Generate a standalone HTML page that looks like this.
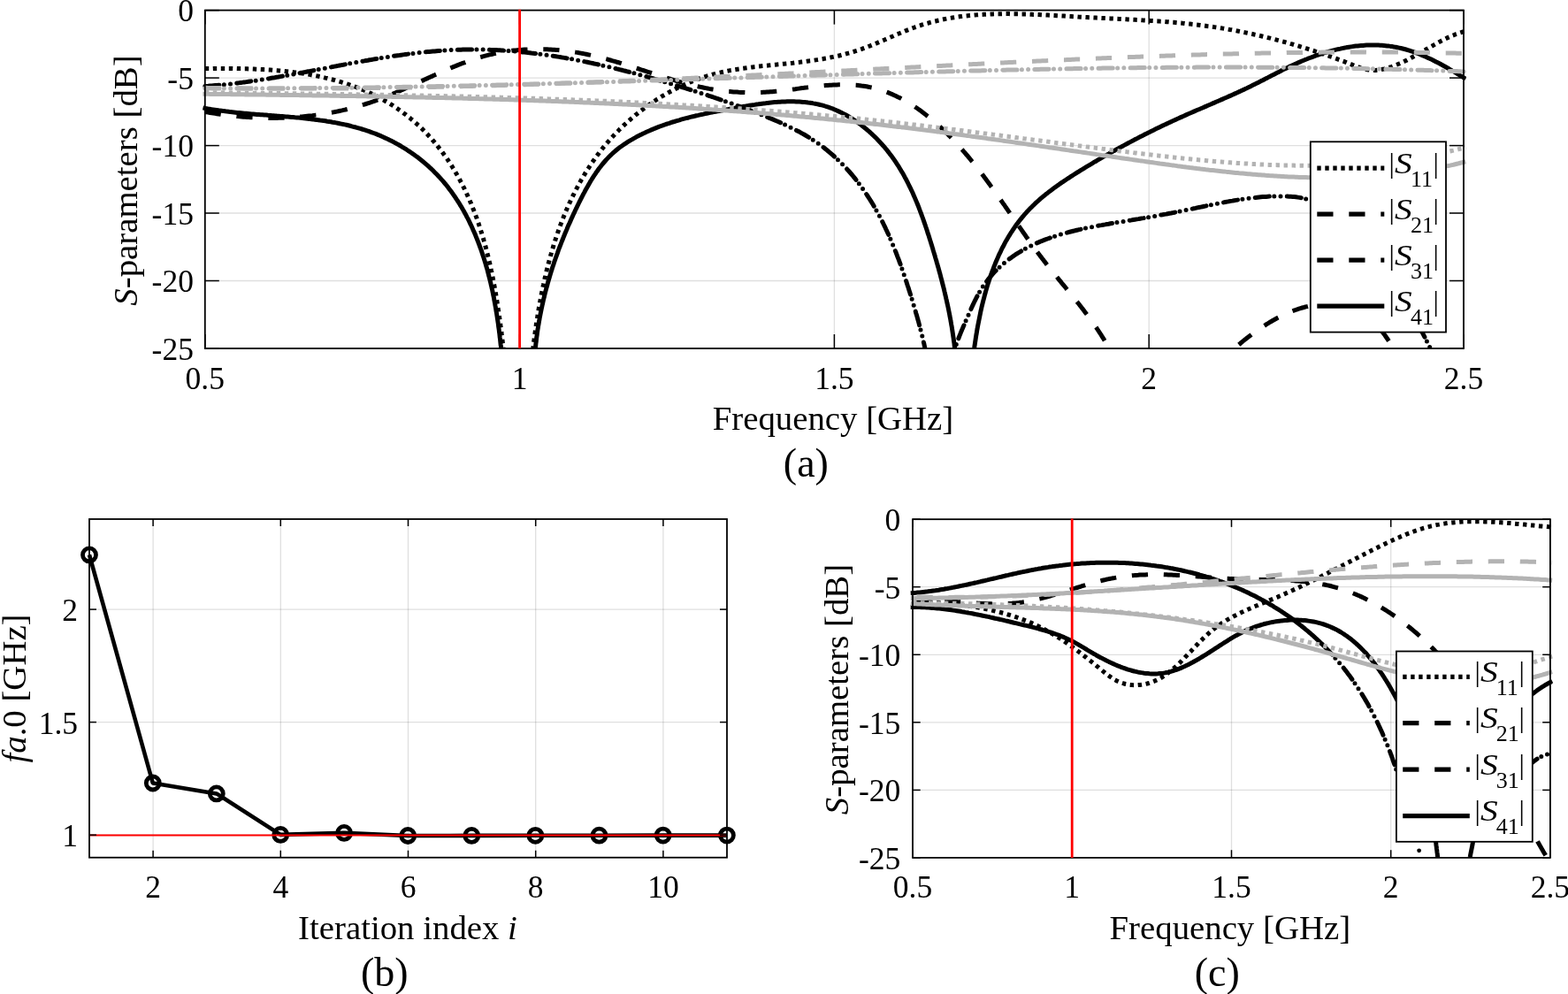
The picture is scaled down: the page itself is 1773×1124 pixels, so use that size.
<!DOCTYPE html>
<html><head><meta charset="utf-8"><title>Figure</title>
<style>html,body{margin:0;padding:0;background:#fff;}body{width:1773px;height:1124px;overflow:hidden;}svg{display:block;}</style>
</head><body>
<svg width="1773" height="1124" viewBox="0 0 1773 1124" font-family="'Liberation Serif','Times New Roman',serif">
<rect x="0" y="0" width="1773" height="1124" fill="#fff"/>
<defs>
<clipPath id="ca"><rect x="228.8" y="11.6" width="1429.2" height="382.4"/></clipPath>
</defs>
<line x1="587.6" y1="11.6" x2="587.6" y2="394.0" stroke="rgb(38,38,38)" stroke-opacity="0.15" stroke-width="1.3"/>
<line x1="943.4" y1="11.6" x2="943.4" y2="394.0" stroke="rgb(38,38,38)" stroke-opacity="0.15" stroke-width="1.3"/>
<line x1="1299.2" y1="11.6" x2="1299.2" y2="394.0" stroke="rgb(38,38,38)" stroke-opacity="0.15" stroke-width="1.3"/>
<line x1="231.8" y1="88.1" x2="1655.0" y2="88.1" stroke="rgb(38,38,38)" stroke-opacity="0.15" stroke-width="1.3"/>
<line x1="231.8" y1="164.6" x2="1655.0" y2="164.6" stroke="rgb(38,38,38)" stroke-opacity="0.15" stroke-width="1.3"/>
<line x1="231.8" y1="241.0" x2="1655.0" y2="241.0" stroke="rgb(38,38,38)" stroke-opacity="0.15" stroke-width="1.3"/>
<line x1="231.8" y1="317.5" x2="1655.0" y2="317.5" stroke="rgb(38,38,38)" stroke-opacity="0.15" stroke-width="1.3"/>
<g clip-path="url(#ca)">
<path d="M229.5,121.9L231.4,122.3 233.3,122.6 235.2,123.0 237.1,123.3 239.0,123.6 241.0,123.9 242.9,124.2 244.8,124.5 246.8,124.8 248.7,125.1 250.7,125.3 252.6,125.6 254.6,125.8 256.6,126.1 258.5,126.3 260.5,126.6 262.5,126.8 264.5,127.0 266.5,127.2 268.5,127.4 270.5,127.6 272.5,127.8 274.5,128.0 276.5,128.2 278.5,128.3 280.5,128.5 282.5,128.7 284.5,128.9 286.6,129.0 288.6,129.2 290.6,129.4 292.7,129.5 294.7,129.7 296.7,129.8 298.8,130.0 300.8,130.1 302.8,130.3 304.9,130.4 306.9,130.6 309.0,130.7 311.0,130.9 313.0,131.1 315.1,131.2 317.1,131.4 319.2,131.5 321.2,131.7 323.3,131.9 325.3,132.0 327.4,132.2 329.4,132.4 331.4,132.6 333.5,132.8 335.5,132.9 337.6,133.1 339.6,133.3 341.7,133.5 343.7,133.8 345.7,134.0 347.8,134.2 349.8,134.4 351.8,134.7 353.9,134.9 355.9,135.2 357.9,135.4 359.9,135.7 362.0,136.0 364.0,136.2 366.0,136.5 368.0,136.8 370.0,137.2 372.0,137.5 374.0,137.8 376.0,138.2 378.0,138.5 380.0,138.9 382.0,139.3 384.0,139.7 385.9,140.1 387.9,140.5 389.9,140.9 391.8,141.3 393.8,141.8 395.8,142.3 397.7,142.8 399.6,143.3 401.6,143.8 403.5,144.3 405.4,144.8 407.4,145.4 409.3,146.0 411.2,146.6 413.1,147.2 415.0,147.8 416.9,148.4 418.7,149.1 420.6,149.8 422.5,150.5 424.4,151.2 426.2,151.9 428.0,152.7 429.9,153.4 431.7,154.2 433.5,155.0 435.3,155.9 437.2,156.7 438.9,157.5 440.7,158.4 442.5,159.3 444.3,160.2 446.0,161.2 447.8,162.1 449.5,163.1 451.3,164.0 453.0,165.0 454.7,166.1 456.4,167.1 458.1,168.1 459.8,169.2 461.4,170.3 463.1,171.4 464.7,172.5 466.3,173.6 468.0,174.8 469.6,176.0 471.2,177.1 472.8,178.3 474.3,179.5 475.9,180.8 477.4,182.0 479.0,183.3 480.5,184.6 482.0,185.9 483.5,187.2 485.0,188.5 486.4,189.8 487.9,191.2 489.3,192.6 490.7,194.0 492.1,195.4 493.5,196.8 494.9,198.2 496.3,199.7 497.6,201.1 498.9,202.6 500.3,204.1 501.6,205.6 502.8,207.1 504.1,208.7 505.4,210.2 506.6,211.8 507.8,213.4 509.0,215.0 510.2,216.6 511.4,218.2 512.5,219.8 513.7,221.5 514.8,223.1 515.9,224.8 517.0,226.5 518.1,228.1 519.2,229.8 520.2,231.6 521.3,233.3 522.3,235.0 523.3,236.8 524.3,238.5 525.3,240.3 526.2,242.1 527.2,243.8 528.1,245.6 529.1,247.4 530.0,249.2 530.9,251.1 531.7,252.9 532.6,254.7 533.5,256.5 534.3,258.4 535.1,260.2 536.0,262.1 536.8,264.0 537.6,265.8 538.3,267.7 539.1,269.6 539.8,271.5 540.6,273.4 541.3,275.3 542.0,277.2 542.7,279.1 543.4,281.0 544.1,282.9 544.8,284.9 545.4,286.8 546.0,288.7 546.7,290.6 547.3,292.6 547.9,294.5 548.5,296.4 549.1,298.4 549.6,300.3 550.2,302.3 550.8,304.2 551.3,306.2 551.8,308.1 552.3,310.1 552.8,312.0 553.3,314.0 553.8,315.9 554.3,317.9 554.8,319.9 555.2,321.8 555.7,323.8 556.1,325.8 556.6,327.7 557.0,329.7 557.4,331.7 557.8,333.7 558.2,335.6 558.6,337.6 558.9,339.6 559.3,341.6 559.7,343.6 560.0,345.5 560.4,347.5 560.7,349.5 561.0,351.5 561.4,353.5 561.7,355.5 562.0,357.4 562.3,359.4 562.6,361.4 562.9,363.4 563.2,365.4 563.5,367.4 563.7,369.4 564.0,371.4 564.3,373.4 564.5,375.3 564.8,377.3 565.0,379.3 565.2,381.3 565.5,383.3 565.7,385.3 565.9,387.3 566.1,389.3 566.4,391.3 566.6,393.3 566.8,395.2 567.0,397.2 567.2,399.2 567.4,401.2 567.6,403.2 567.8,405.2 567.9,407.2 568.1,409.2 568.3,411.1 568.5,413.1 568.7,415.1 568.8,417.1 569.0,419.1 569.2,421.0 569.3,423.0 569.5,425.0 M603.5,425.0L603.6,423.0 603.6,420.9 603.7,418.9 603.8,416.9 603.9,414.8 604.0,412.8 604.1,410.8 604.2,408.8 604.3,406.7 604.5,404.7 604.6,402.7 604.8,400.7 604.9,398.7 605.1,396.7 605.3,394.7 605.5,392.7 605.7,390.7 605.9,388.7 606.2,386.7 606.4,384.7 606.6,382.7 606.9,380.7 607.2,378.7 607.4,376.7 607.7,374.7 608.0,372.7 608.3,370.8 608.6,368.8 609.0,366.8 609.3,364.8 609.6,362.9 610.0,360.9 610.3,358.9 610.7,357.0 611.1,355.0 611.5,353.0 611.9,351.1 612.3,349.1 612.7,347.2 613.1,345.2 613.6,343.3 614.0,341.3 614.4,339.4 614.9,337.4 615.4,335.5 615.8,333.6 616.3,331.6 616.8,329.7 617.3,327.8 617.8,325.8 618.4,323.9 618.9,322.0 619.4,320.0 620.0,318.1 620.5,316.2 621.1,314.3 621.6,312.4 622.2,310.5 622.8,308.6 623.4,306.6 624.0,304.7 624.6,302.8 625.2,300.9 625.9,299.0 626.5,297.1 627.1,295.2 627.8,293.3 628.4,291.5 629.1,289.6 629.8,287.7 630.5,285.8 631.1,283.9 631.8,282.0 632.5,280.2 633.2,278.3 634.0,276.4 634.7,274.5 635.4,272.7 636.2,270.8 636.9,268.9 637.7,267.1 638.4,265.2 639.2,263.3 640.0,261.5 640.8,259.6 641.5,257.8 642.3,255.9 643.1,254.1 644.0,252.2 644.8,250.4 645.6,248.5 646.4,246.7 647.3,244.9 648.1,243.0 649.0,241.2 649.8,239.4 650.7,237.5 651.6,235.7 652.4,233.9 653.3,232.1 654.2,230.2 655.1,228.4 656.0,226.6 656.9,224.8 657.9,223.0 658.8,221.2 659.7,219.4 660.7,217.6 661.6,215.8 662.6,214.0 663.6,212.2 664.6,210.5 665.6,208.7 666.6,207.0 667.6,205.2 668.7,203.5 669.7,201.8 670.8,200.1 671.9,198.4 673.0,196.8 674.1,195.1 675.3,193.5 676.5,191.8 677.6,190.2 678.8,188.7 680.1,187.1 681.3,185.5 682.6,184.0 683.9,182.5 685.2,181.0 686.5,179.6 687.9,178.1 689.3,176.7 690.7,175.3 692.1,174.0 693.6,172.6 695.1,171.3 696.6,170.0 698.1,168.8 699.7,167.5 701.3,166.3 702.9,165.2 704.6,164.0 706.2,162.9 707.9,161.8 709.6,160.7 711.3,159.6 713.0,158.6 714.8,157.6 716.5,156.6 718.3,155.6 720.0,154.6 721.8,153.7 723.6,152.8 725.4,151.9 727.2,151.0 729.0,150.2 730.9,149.3 732.7,148.5 734.5,147.7 736.4,146.9 738.2,146.1 740.0,145.4 741.9,144.6 743.7,143.9 745.6,143.2 747.4,142.5 749.3,141.8 751.2,141.2 753.0,140.5 754.9,139.9 756.8,139.3 758.7,138.6 760.6,138.0 762.5,137.5 764.4,136.9 766.3,136.3 768.2,135.8 770.1,135.2 772.0,134.7 773.9,134.2 775.8,133.7 777.8,133.2 779.7,132.7 781.6,132.2 783.6,131.7 785.5,131.3 787.5,130.8 789.4,130.4 791.4,129.9 793.3,129.5 795.3,129.1 797.2,128.6 799.2,128.2 801.2,127.8 803.2,127.4 805.1,127.0 807.1,126.6 809.1,126.2 811.1,125.8 813.1,125.5 815.1,125.1 817.1,124.7 819.1,124.3 821.1,124.0 823.1,123.6 825.1,123.2 827.1,122.9 829.1,122.5 831.2,122.1 833.2,121.8 835.2,121.4 837.2,121.0 839.3,120.7 841.3,120.3 843.3,120.0 845.4,119.6 847.4,119.3 849.4,119.0 851.5,118.7 853.5,118.4 855.5,118.0 857.6,117.8 859.6,117.5 861.7,117.2 863.7,116.9 865.7,116.7 867.8,116.4 869.8,116.2 871.8,116.0 873.9,115.8 875.9,115.6 877.9,115.5 880.0,115.3 882.0,115.2 884.0,115.1 886.0,115.0 888.0,114.9 890.0,114.8 892.0,114.8 894.0,114.8 896.0,114.8 898.0,114.8 900.0,114.9 902.0,115.0 904.0,115.1 906.0,115.2 907.9,115.4 909.9,115.5 911.9,115.7 913.8,116.0 915.8,116.2 917.7,116.5 919.6,116.9 921.6,117.2 923.5,117.6 925.4,118.0 927.3,118.5 929.2,118.9 931.1,119.4 932.9,120.0 934.8,120.6 936.7,121.2 938.5,121.8 940.4,122.5 942.2,123.2 944.0,124.0 945.8,124.8 947.6,125.6 949.4,126.4 951.2,127.3 953.0,128.2 954.7,129.1 956.5,130.0 958.2,131.0 959.9,132.0 961.7,133.1 963.4,134.1 965.0,135.2 966.7,136.3 968.4,137.4 970.0,138.6 971.6,139.8 973.3,141.0 974.9,142.2 976.5,143.5 978.0,144.7 979.6,146.0 981.1,147.3 982.7,148.7 984.2,150.0 985.7,151.4 987.2,152.8 988.6,154.2 990.1,155.6 991.5,157.0 992.9,158.5 994.3,160.0 995.7,161.5 997.1,163.0 998.4,164.5 999.8,166.0 1001.1,167.6 1002.4,169.1 1003.6,170.7 1004.9,172.3 1006.1,173.9 1007.3,175.5 1008.5,177.1 1009.7,178.7 1010.9,180.4 1012.0,182.0 1013.1,183.7 1014.2,185.4 1015.3,187.0 1016.4,188.7 1017.4,190.4 1018.5,192.2 1019.5,193.9 1020.5,195.6 1021.5,197.3 1022.5,199.1 1023.4,200.9 1024.4,202.6 1025.3,204.4 1026.2,206.2 1027.1,208.0 1028.0,209.8 1028.9,211.6 1029.8,213.4 1030.6,215.2 1031.5,217.0 1032.3,218.8 1033.1,220.7 1033.9,222.5 1034.7,224.4 1035.5,226.2 1036.3,228.1 1037.1,230.0 1037.8,231.8 1038.6,233.7 1039.3,235.6 1040.0,237.5 1040.7,239.3 1041.4,241.2 1042.1,243.1 1042.8,245.0 1043.5,246.9 1044.2,248.8 1044.8,250.7 1045.5,252.7 1046.2,254.6 1046.8,256.5 1047.5,258.4 1048.1,260.3 1048.7,262.2 1049.3,264.2 1050.0,266.1 1050.6,268.0 1051.2,269.9 1051.8,271.9 1052.4,273.8 1053.0,275.7 1053.6,277.6 1054.2,279.6 1054.8,281.5 1055.3,283.4 1055.9,285.4 1056.5,287.3 1057.1,289.2 1057.6,291.1 1058.2,293.1 1058.8,295.0 1059.3,296.9 1059.9,298.8 1060.4,300.8 1061.0,302.7 1061.5,304.6 1062.0,306.6 1062.6,308.5 1063.1,310.4 1063.6,312.4 1064.1,314.3 1064.6,316.2 1065.1,318.2 1065.6,320.1 1066.1,322.0 1066.6,324.0 1067.1,325.9 1067.6,327.9 1068.0,329.8 1068.5,331.7 1068.9,333.7 1069.4,335.6 1069.8,337.6 1070.3,339.5 1070.7,341.5 1071.1,343.4 1071.6,345.4 1072.0,347.3 1072.4,349.3 1072.8,351.2 1073.2,353.2 1073.6,355.2 1073.9,357.1 1074.3,359.1 1074.7,361.0 1075.0,363.0 1075.4,365.0 1075.7,366.9 1076.1,368.9 1076.4,370.9 1076.7,372.9 1077.0,374.8 1077.3,376.8 1077.6,378.8 1077.9,380.8 1078.2,382.8 1078.4,384.7 1078.7,386.7 1079.0,388.7 1079.2,390.7 1079.4,392.7 1079.7,394.7 1079.9,396.7 1080.1,398.7 1080.3,400.7 1080.5,402.7 1080.7,404.7 1080.9,406.8 1081.0,408.8 1081.2,410.8 1081.3,412.8 1081.5,414.8 1081.6,416.9 1081.7,418.9 1081.8,420.9 1081.9,423.0 1082.0,425.0 M1098.0,425.0L1098.2,423.1 1098.4,421.2 1098.6,419.2 1098.8,417.3 1099.0,415.4 1099.2,413.4 1099.4,411.5 1099.7,409.5 1099.9,407.6 1100.1,405.6 1100.4,403.6 1100.6,401.7 1100.9,399.7 1101.1,397.7 1101.4,395.7 1101.7,393.8 1101.9,391.8 1102.2,389.8 1102.5,387.8 1102.8,385.8 1103.1,383.8 1103.4,381.8 1103.7,379.8 1104.1,377.8 1104.4,375.8 1104.7,373.8 1105.1,371.8 1105.4,369.8 1105.8,367.8 1106.2,365.7 1106.6,363.7 1107.0,361.7 1107.4,359.7 1107.8,357.7 1108.2,355.7 1108.6,353.7 1109.0,351.7 1109.5,349.7 1109.9,347.7 1110.4,345.7 1110.9,343.7 1111.4,341.7 1111.9,339.7 1112.4,337.8 1112.9,335.8 1113.4,333.8 1114.0,331.8 1114.5,329.9 1115.1,327.9 1115.6,325.9 1116.2,324.0 1116.8,322.0 1117.4,320.1 1118.1,318.1 1118.7,316.2 1119.3,314.3 1120.0,312.3 1120.7,310.4 1121.3,308.5 1122.0,306.6 1122.8,304.7 1123.5,302.8 1124.2,300.9 1125.0,299.0 1125.7,297.2 1126.5,295.3 1127.3,293.5 1128.1,291.6 1128.9,289.8 1129.7,287.9 1130.6,286.1 1131.5,284.3 1132.3,282.5 1133.2,280.7 1134.1,279.0 1135.1,277.2 1136.0,275.4 1136.9,273.7 1137.9,271.9 1138.9,270.2 1139.9,268.5 1140.9,266.8 1142.0,265.1 1143.0,263.4 1144.1,261.8 1145.2,260.1 1146.3,258.5 1147.4,256.9 1148.5,255.2 1149.7,253.6 1150.9,252.1 1152.0,250.5 1153.3,248.9 1154.5,247.4 1155.7,245.9 1157.0,244.3 1158.3,242.8 1159.6,241.4 1160.9,239.9 1162.2,238.4 1163.6,237.0 1165.0,235.6 1166.4,234.2 1167.8,232.8 1169.2,231.4 1170.6,230.0 1172.1,228.7 1173.6,227.4 1175.1,226.0 1176.6,224.7 1178.1,223.4 1179.6,222.1 1181.2,220.9 1182.7,219.6 1184.3,218.4 1185.9,217.1 1187.5,215.9 1189.1,214.7 1190.7,213.5 1192.3,212.3 1194.0,211.1 1195.6,209.9 1197.3,208.8 1198.9,207.6 1200.6,206.4 1202.3,205.3 1204.0,204.2 1205.7,203.0 1207.4,201.9 1209.1,200.8 1210.8,199.7 1212.5,198.6 1214.2,197.5 1215.9,196.4 1217.6,195.3 1219.4,194.3 1221.1,193.2 1222.8,192.1 1224.5,191.1 1226.3,190.0 1228.0,188.9 1229.7,187.9 1231.5,186.8 1233.2,185.8 1234.9,184.8 1236.7,183.7 1238.4,182.7 1240.2,181.7 1241.9,180.7 1243.7,179.6 1245.4,178.6 1247.1,177.6 1248.9,176.6 1250.7,175.6 1252.4,174.6 1254.2,173.6 1255.9,172.6 1257.7,171.7 1259.4,170.7 1261.2,169.7 1262.9,168.7 1264.7,167.8 1266.5,166.8 1268.2,165.8 1270.0,164.9 1271.8,163.9 1273.5,163.0 1275.3,162.0 1277.1,161.1 1278.9,160.1 1280.6,159.2 1282.4,158.3 1284.2,157.3 1286.0,156.4 1287.7,155.5 1289.5,154.6 1291.3,153.7 1293.1,152.8 1294.9,151.8 1296.7,150.9 1298.5,150.0 1300.2,149.2 1302.0,148.3 1303.8,147.4 1305.6,146.5 1307.4,145.6 1309.2,144.7 1311.0,143.9 1312.8,143.0 1314.6,142.1 1316.4,141.3 1318.3,140.4 1320.1,139.6 1321.9,138.7 1323.7,137.9 1325.5,137.0 1327.3,136.2 1329.1,135.4 1331.0,134.5 1332.8,133.7 1334.6,132.9 1336.4,132.1 1338.3,131.3 1340.1,130.4 1341.9,129.6 1343.8,128.8 1345.6,128.0 1347.4,127.2 1349.3,126.4 1351.1,125.6 1352.9,124.8 1354.8,124.0 1356.6,123.3 1358.5,122.5 1360.3,121.7 1362.1,120.9 1364.0,120.1 1365.8,119.3 1367.7,118.5 1369.5,117.7 1371.3,116.9 1373.2,116.1 1375.0,115.3 1376.9,114.5 1378.7,113.7 1380.6,112.9 1382.4,112.1 1384.2,111.3 1386.1,110.5 1387.9,109.7 1389.7,108.9 1391.6,108.1 1393.4,107.3 1395.2,106.4 1397.1,105.6 1398.9,104.8 1400.7,103.9 1402.6,103.1 1404.4,102.2 1406.2,101.4 1408.0,100.5 1409.8,99.7 1411.7,98.8 1413.5,97.9 1415.3,97.0 1417.1,96.1 1418.9,95.2 1420.7,94.3 1422.5,93.4 1424.3,92.5 1426.1,91.6 1427.9,90.7 1429.7,89.7 1431.5,88.8 1433.3,87.9 1435.1,86.9 1436.9,86.0 1438.7,85.1 1440.5,84.2 1442.3,83.2 1444.1,82.3 1445.9,81.4 1447.7,80.5 1449.5,79.5 1451.3,78.6 1453.2,77.7 1455.0,76.9 1456.8,76.0 1458.6,75.1 1460.5,74.2 1462.3,73.4 1464.2,72.5 1466.0,71.7 1467.9,70.9 1469.7,70.1 1471.6,69.3 1473.5,68.5 1475.4,67.7 1477.2,67.0 1479.1,66.2 1481.0,65.5 1482.9,64.8 1484.8,64.1 1486.7,63.4 1488.6,62.7 1490.5,62.1 1492.4,61.4 1494.4,60.8 1496.3,60.2 1498.2,59.6 1500.1,59.0 1502.1,58.5 1504.0,57.9 1505.9,57.4 1507.9,56.9 1509.8,56.4 1511.7,55.9 1513.7,55.5 1515.6,55.1 1517.6,54.6 1519.5,54.3 1521.5,53.9 1523.4,53.5 1525.4,53.2 1527.4,52.9 1529.3,52.6 1531.3,52.3 1533.2,52.1 1535.2,51.9 1537.1,51.7 1539.1,51.5 1541.1,51.4 1543.0,51.2 1545.0,51.1 1547.0,51.1 1548.9,51.0 1550.9,51.0 1552.8,51.0 1554.8,51.0 1556.8,51.0 1558.7,51.1 1560.7,51.2 1562.6,51.3 1564.6,51.5 1566.6,51.7 1568.5,51.9 1570.5,52.1 1572.4,52.4 1574.4,52.6 1576.3,53.0 1578.3,53.3 1580.2,53.7 1582.1,54.1 1584.1,54.5 1586.0,55.0 1588.0,55.5 1589.9,56.0 1591.8,56.6 1593.7,57.2 1595.7,57.8 1597.6,58.4 1599.5,59.1 1601.4,59.8 1603.3,60.5 1605.2,61.3 1607.1,62.1 1609.0,62.9 1610.9,63.7 1612.8,64.5 1614.6,65.4 1616.5,66.2 1618.4,67.1 1620.2,68.0 1622.1,69.0 1623.9,69.9 1625.7,70.8 1627.6,71.8 1629.4,72.8 1631.2,73.8 1633.0,74.8 1634.8,75.8 1636.6,76.8 1638.4,77.8 1640.1,78.8 1641.9,79.9 1643.7,80.9 1645.4,81.9 1647.1,83.0 1648.9,84.0 1650.6,85.1 1652.3,86.1 1654.0,87.1 1655.6,88.2 1657.3,89.2" fill="none" stroke="#000" stroke-width="5.00" stroke-linejoin="round" stroke-linecap="butt" />
<path d="M229.5,97.7L231.5,97.5 233.5,97.4 235.4,97.3 237.4,97.1 239.4,97.0 241.4,96.8 243.4,96.6 245.3,96.5 247.3,96.3 249.3,96.1 251.3,95.9 253.3,95.7 255.2,95.5 257.2,95.3 259.2,95.1 261.2,94.8 263.1,94.6 265.1,94.4 267.1,94.1 269.1,93.9 271.1,93.6 273.1,93.4 275.0,93.1 277.0,92.9 279.0,92.6 281.0,92.3 283.0,92.0 284.9,91.7 286.9,91.5 288.9,91.2 290.9,90.9 292.9,90.6 294.8,90.3 296.8,89.9 298.8,89.6 300.8,89.3 302.8,89.0 304.8,88.7 306.7,88.3 308.7,88.0 310.7,87.7 312.7,87.3 314.7,87.0 316.7,86.6 318.6,86.3 320.6,85.9 322.6,85.6 324.6,85.2 326.6,84.9 328.6,84.5 330.5,84.2 332.5,83.8 334.5,83.4 336.5,83.1 338.5,82.7 340.5,82.3 342.4,82.0 344.4,81.6 346.4,81.2 348.4,80.8 350.4,80.5 352.4,80.1 354.3,79.7 356.3,79.3 358.3,78.9 360.3,78.6 362.3,78.2 364.3,77.8 366.3,77.4 368.2,77.0 370.2,76.7 372.2,76.3 374.2,75.9 376.2,75.5 378.2,75.1 380.2,74.8 382.1,74.4 384.1,74.0 386.1,73.6 388.1,73.3 390.1,72.9 392.1,72.5 394.1,72.1 396.1,71.8 398.0,71.4 400.0,71.0 402.0,70.7 404.0,70.3 406.0,69.9 408.0,69.6 410.0,69.2 411.9,68.9 413.9,68.5 415.9,68.2 417.9,67.8 419.9,67.5 421.9,67.1 423.9,66.8 425.9,66.5 427.8,66.1 429.8,65.8 431.8,65.5 433.8,65.2 435.8,64.8 437.8,64.5 439.8,64.2 441.8,63.9 443.8,63.6 445.7,63.3 447.7,63.0 449.7,62.7 451.7,62.5 453.7,62.2 455.7,61.9 457.7,61.6 459.7,61.4 461.6,61.1 463.6,60.8 465.6,60.6 467.6,60.3 469.6,60.1 471.6,59.9 473.6,59.6 475.6,59.4 477.6,59.2 479.5,59.0 481.5,58.8 483.5,58.6 485.5,58.4 487.5,58.2 489.5,58.0 491.5,57.9 493.5,57.7 495.5,57.5 497.5,57.4 499.4,57.3 501.4,57.1 503.4,57.0 505.4,56.9 507.4,56.7 509.4,56.6 511.4,56.5 513.4,56.5 515.4,56.4 517.3,56.3 519.3,56.2 521.3,56.2 523.3,56.1 525.3,56.1 527.3,56.0 529.3,56.0 531.3,56.0 533.3,56.0 535.3,56.0 537.2,56.0 539.2,56.0 541.2,56.0 543.2,56.0 545.2,56.1 547.2,56.1 549.2,56.2 551.2,56.2 553.2,56.3 555.1,56.4 557.1,56.4 559.1,56.5 561.1,56.6 563.1,56.7 565.1,56.8 567.1,57.0 569.1,57.1 571.1,57.2 573.0,57.3 575.0,57.5 577.0,57.6 579.0,57.8 581.0,58.0 583.0,58.1 585.0,58.3 586.9,58.5 588.9,58.7 590.9,58.9 592.9,59.1 594.9,59.3 596.9,59.5 598.8,59.7 600.8,60.0 602.8,60.2 604.8,60.4 606.8,60.7 608.8,60.9 610.7,61.2 612.7,61.5 614.7,61.7 616.7,62.0 618.7,62.3 620.6,62.6 622.6,62.9 624.6,63.2 626.6,63.5 628.6,63.8 630.5,64.1 632.5,64.4 634.5,64.8 636.5,65.1 638.4,65.4 640.4,65.8 642.4,66.1 644.4,66.5 646.3,66.8 648.3,67.2 650.3,67.6 652.2,67.9 654.2,68.3 656.2,68.7 658.2,69.1 660.1,69.5 662.1,69.9 664.1,70.3 666.0,70.7 668.0,71.1 670.0,71.5 671.9,72.0 673.9,72.4 675.8,72.8 677.8,73.3 679.8,73.7 681.7,74.1 683.7,74.6 685.7,75.0 687.6,75.5 689.6,76.0 691.5,76.4 693.5,76.9 695.4,77.4 697.4,77.9 699.4,78.3 701.3,78.8 703.3,79.3 705.2,79.8 707.2,80.3 709.1,80.8 711.1,81.3 713.0,81.8 715.0,82.3 716.9,82.8 718.9,83.4 720.8,83.9 722.7,84.4 724.7,84.9 726.6,85.5 728.6,86.0 730.5,86.5 732.5,87.1 734.4,87.6 736.3,88.2 738.3,88.7 740.2,89.3 742.1,89.8 744.1,90.4 746.0,91.0 747.9,91.5 749.9,92.1 751.8,92.7 753.7,93.2 755.7,93.8 757.6,94.4 759.5,95.0 761.4,95.5 763.4,96.1 765.3,96.7 767.2,97.3 769.1,97.9 771.0,98.5 773.0,99.1 774.9,99.7 776.8,100.3 778.7,100.9 780.6,101.5 782.5,102.1 784.4,102.7 786.4,103.3 788.3,103.9 790.2,104.5 792.1,105.2 794.0,105.8 795.9,106.4 797.8,107.0 799.7,107.6 801.6,108.3 803.5,108.9 805.4,109.5 807.3,110.2 809.2,110.8 811.1,111.5 813.0,112.1 814.9,112.8 816.8,113.4 818.7,114.1 820.5,114.7 822.4,115.4 824.3,116.0 826.2,116.7 828.1,117.4 830.0,118.1 831.9,118.7 833.7,119.4 835.6,120.1 837.5,120.8 839.4,121.5 841.3,122.2 843.1,122.9 845.0,123.6 846.9,124.3 848.8,125.0 850.6,125.7 852.5,126.4 854.4,127.2 856.2,127.9 858.1,128.6 860.0,129.4 861.8,130.1 863.7,130.8 865.6,131.6 867.4,132.3 869.3,133.1 871.2,133.9 873.0,134.6 874.9,135.4 876.7,136.2 878.6,137.0 880.4,137.8 882.3,138.6 884.1,139.4 885.9,140.3 887.7,141.1 889.6,142.0 891.4,142.8 893.2,143.7 895.0,144.6 896.8,145.5 898.6,146.4 900.3,147.3 902.1,148.2 903.9,149.1 905.6,150.1 907.4,151.1 909.1,152.0 910.8,153.0 912.6,154.1 914.3,155.1 916.0,156.1 917.6,157.2 919.3,158.3 921.0,159.4 922.6,160.5 924.3,161.6 925.9,162.8 927.5,163.9 929.1,165.1 930.7,166.3 932.3,167.5 933.8,168.8 935.4,170.0 936.9,171.3 938.4,172.6 939.9,173.9 941.4,175.2 942.9,176.5 944.4,177.8 945.9,179.2 947.3,180.6 948.7,181.9 950.2,183.3 951.6,184.8 953.0,186.2 954.4,187.6 955.7,189.1 957.1,190.5 958.4,192.0 959.8,193.5 961.1,195.0 962.4,196.5 963.7,198.0 965.0,199.6 966.2,201.1 967.5,202.7 968.7,204.3 969.9,205.8 971.1,207.4 972.3,209.0 973.5,210.6 974.7,212.2 975.8,213.9 977.0,215.5 978.1,217.1 979.2,218.8 980.3,220.5 981.4,222.1 982.5,223.8 983.6,225.5 984.6,227.2 985.7,228.9 986.7,230.6 987.7,232.3 988.7,234.1 989.7,235.8 990.7,237.5 991.7,239.3 992.7,241.0 993.6,242.8 994.6,244.6 995.5,246.4 996.4,248.1 997.3,249.9 998.2,251.7 999.1,253.5 1000.0,255.3 1000.9,257.1 1001.7,259.0 1002.6,260.8 1003.4,262.6 1004.3,264.4 1005.1,266.3 1005.9,268.1 1006.7,270.0 1007.5,271.8 1008.3,273.7 1009.1,275.6 1009.8,277.4 1010.6,279.3 1011.4,281.2 1012.1,283.1 1012.9,284.9 1013.6,286.8 1014.3,288.7 1015.0,290.6 1015.8,292.5 1016.5,294.4 1017.2,296.3 1017.9,298.2 1018.5,300.1 1019.2,302.0 1019.9,303.9 1020.6,305.8 1021.2,307.8 1021.9,309.7 1022.5,311.6 1023.2,313.5 1023.8,315.4 1024.5,317.4 1025.1,319.3 1025.7,321.2 1026.3,323.1 1027.0,325.0 1027.6,327.0 1028.2,328.9 1028.8,330.8 1029.4,332.8 1030.0,334.7 1030.6,336.6 1031.2,338.5 1031.7,340.5 1032.3,342.4 1032.9,344.3 1033.5,346.2 1034.0,348.1 1034.6,350.1 1035.2,352.0 1035.7,353.9 1036.3,355.8 1036.9,357.8 1037.4,359.7 1037.9,361.6 1038.5,363.5 1039.0,365.4 1039.5,367.4 1040.0,369.3 1040.5,371.2 1041.0,373.1 1041.5,375.0 1042.0,377.0 1042.5,378.9 1043.0,380.8 1043.4,382.8 1043.9,384.7 1044.3,386.6 1044.8,388.6 1045.2,390.5 1045.6,392.5 1046.0,394.4 1046.4,396.3 1046.7,398.3 1047.1,400.3 1047.5,402.2 1047.8,404.2 1048.1,406.1 1048.4,408.1 1048.7,410.1 1049.0,412.0 1049.3,414.0 1049.6,416.0 1049.8,418.0 1050.0,420.0 M1075.0,420.0L1075.1,418.0 1075.3,416.0 1075.5,414.0 1075.8,412.0 1076.1,410.0 1076.4,408.1 1076.8,406.1 1077.2,404.2 1077.6,402.2 1078.1,400.3 1078.6,398.4 1079.1,396.5 1079.7,394.6 1080.3,392.7 1080.9,390.8 1081.5,388.9 1082.2,387.1 1082.9,385.2 1083.6,383.3 1084.3,381.5 1085.0,379.6 1085.8,377.7 1086.5,375.9 1087.3,374.0 1088.1,372.1 1088.9,370.3 1089.7,368.4 1090.5,366.6 1091.3,364.7 1092.1,362.8 1092.9,361.0 1093.8,359.1 1094.6,357.2 1095.4,355.3 1096.2,353.4 1097.1,351.6 1097.9,349.7 1098.7,347.8 1099.6,345.9 1100.4,344.1 1101.3,342.2 1102.2,340.4 1103.1,338.6 1104.0,336.7 1105.0,334.9 1105.9,333.1 1106.9,331.4 1107.9,329.6 1109.0,327.9 1110.0,326.2 1111.1,324.5 1112.2,322.8 1113.4,321.2 1114.6,319.6 1115.8,318.0 1117.0,316.4 1118.2,314.9 1119.5,313.3 1120.8,311.8 1122.1,310.3 1123.4,308.9 1124.8,307.4 1126.1,306.0 1127.5,304.6 1128.9,303.2 1130.4,301.9 1131.8,300.6 1133.3,299.3 1134.8,298.0 1136.3,296.7 1137.9,295.5 1139.4,294.2 1141.0,293.0 1142.6,291.9 1144.2,290.7 1145.8,289.6 1147.4,288.5 1149.0,287.4 1150.7,286.3 1152.4,285.3 1154.1,284.3 1155.8,283.3 1157.5,282.3 1159.2,281.3 1161.0,280.4 1162.7,279.5 1164.5,278.6 1166.2,277.7 1168.0,276.8 1169.8,276.0 1171.6,275.2 1173.5,274.4 1175.3,273.6 1177.1,272.8 1179.0,272.1 1180.8,271.4 1182.7,270.7 1184.6,270.0 1186.5,269.3 1188.4,268.6 1190.3,268.0 1192.2,267.3 1194.1,266.7 1196.0,266.1 1197.9,265.5 1199.9,264.9 1201.8,264.4 1203.8,263.8 1205.7,263.3 1207.7,262.8 1209.6,262.2 1211.6,261.7 1213.6,261.2 1215.6,260.8 1217.6,260.3 1219.5,259.8 1221.5,259.4 1223.5,258.9 1225.5,258.5 1227.5,258.1 1229.5,257.7 1231.5,257.3 1233.5,256.8 1235.5,256.5 1237.5,256.1 1239.6,255.7 1241.6,255.3 1243.6,254.9 1245.6,254.6 1247.6,254.2 1249.6,253.9 1251.6,253.5 1253.6,253.2 1255.6,252.8 1257.6,252.5 1259.6,252.1 1261.6,251.8 1263.6,251.5 1265.6,251.2 1267.6,250.8 1269.6,250.5 1271.6,250.2 1273.6,249.8 1275.5,249.5 1277.5,249.2 1279.5,248.9 1281.5,248.5 1283.4,248.2 1285.4,247.9 1287.3,247.6 1289.3,247.2 1291.2,246.9 1293.2,246.6 1295.1,246.2 1297.1,245.9 1299.0,245.6 1301.0,245.2 1302.9,244.9 1304.9,244.5 1306.8,244.2 1308.8,243.8 1310.7,243.5 1312.6,243.1 1314.6,242.8 1316.5,242.4 1318.5,242.1 1320.4,241.7 1322.4,241.3 1324.3,241.0 1326.3,240.6 1328.2,240.2 1330.2,239.8 1332.1,239.4 1334.1,239.0 1336.0,238.6 1338.0,238.2 1339.9,237.8 1341.9,237.4 1343.9,237.0 1345.8,236.6 1347.8,236.2 1349.8,235.8 1351.8,235.4 1353.7,234.9 1355.7,234.5 1357.7,234.1 1359.7,233.7 1361.6,233.3 1363.6,232.9 1365.6,232.4 1367.6,232.0 1369.6,231.6 1371.6,231.2 1373.6,230.8 1375.6,230.4 1377.6,230.0 1379.5,229.6 1381.5,229.2 1383.5,228.9 1385.5,228.5 1387.5,228.1 1389.5,227.8 1391.5,227.4 1393.5,227.1 1395.5,226.7 1397.5,226.4 1399.5,226.1 1401.5,225.8 1403.5,225.4 1405.5,225.2 1407.5,224.9 1409.6,224.6 1411.6,224.3 1413.6,224.1 1415.6,223.8 1417.6,223.6 1419.6,223.4 1421.6,223.2 1423.6,223.0 1425.6,222.8 1427.6,222.6 1429.6,222.5 1431.6,222.4 1433.6,222.2 1435.6,222.1 1437.6,222.1 1439.6,222.0 1441.6,221.9 1443.6,221.9 1445.6,221.9 1447.6,221.9 1449.6,221.9 1451.6,221.9 1453.6,222.0 1455.6,222.1 1457.6,222.2 1459.6,222.3 1461.6,222.4 1463.5,222.6 1465.5,222.8 1467.5,223.1 1469.4,223.4 1471.4,223.7 1473.3,224.1 1475.2,224.5 1477.1,225.0 1479.0,225.5 1480.9,226.1 1482.8,226.7 1484.6,227.4 1486.4,228.1 1488.3,228.9 1490.1,229.7 1491.8,230.6 1493.6,231.5 1495.4,232.4 1497.1,233.4 1498.8,234.4 1500.5,235.5 1502.2,236.5 1503.9,237.7 1505.6,238.8 1507.2,240.0 1508.9,241.2 1510.5,242.4 1512.1,243.7 1513.7,244.9 1515.3,246.2 1516.8,247.5 1518.4,248.8 1519.9,250.2 1521.5,251.5 1523.0,252.9 1524.5,254.2 1526.0,255.6 1527.4,257.0 1528.9,258.4 1530.3,259.8 1531.8,261.3 1533.2,262.7 1534.6,264.2 1536.0,265.6 1537.4,267.1 1538.8,268.6 1540.1,270.1 1541.5,271.6 1542.8,273.1 1544.1,274.6 1545.4,276.1 1546.8,277.7 1548.0,279.2 1549.3,280.8 1550.6,282.3 1551.9,283.9 1553.1,285.5 1554.4,287.1 1555.6,288.7 1556.8,290.3 1558.0,291.9 1559.2,293.5 1560.4,295.2 1561.6,296.8 1562.8,298.5 1563.9,300.1 1565.1,301.8 1566.2,303.4 1567.4,305.1 1568.5,306.8 1569.6,308.5 1570.8,310.1 1571.9,311.8 1573.0,313.5 1574.1,315.2 1575.1,316.9 1576.2,318.7 1577.3,320.4 1578.3,322.1 1579.4,323.8 1580.4,325.6 1581.5,327.3 1582.5,329.0 1583.6,330.8 1584.6,332.5 1585.6,334.3 1586.6,336.0 1587.6,337.8 1588.6,339.5 1589.6,341.3 1590.6,343.0 1591.6,344.8 1592.6,346.6 1593.5,348.3 1594.5,350.1 1595.5,351.9 1596.4,353.6 1597.4,355.4 1598.3,357.2 1599.3,358.9 1600.2,360.7 1601.2,362.5 1602.1,364.3 1603.0,366.0 1604.0,367.8 1604.9,369.6 1605.8,371.4 1606.7,373.1 1607.7,374.9 1608.6,376.7 1609.5,378.4 1610.4,380.2 1611.3,382.0 1612.2,383.7 1613.1,385.5 1614.0,387.2 1614.9,389.0 1615.8,390.8 1616.7,392.6 1617.5,394.3 1618.3,396.1 1619.1,397.9 1619.9,399.8 1620.7,401.6 1621.4,403.4 1622.1,405.3 1622.8,407.2 1623.4,409.1 1624.0,411.0 1624.5,413.0 1625.0,415.0" fill="none" stroke="#000" stroke-width="5.00" stroke-linejoin="round" stroke-dasharray="16.2 5.45 0 7.2 0 7.25" stroke-linecap="round"  stroke-dashoffset="-2.3"/>
<path d="M229.5,126.1L231.5,126.5 233.4,126.8 235.4,127.1 237.4,127.5 239.4,127.8 241.3,128.1 243.3,128.4 245.3,128.7 247.3,129.0 249.3,129.3 251.3,129.6 253.3,129.9 255.2,130.1 257.2,130.4 259.2,130.6 261.2,130.8 263.2,131.0 265.2,131.2 267.2,131.4 269.2,131.6 271.2,131.8 273.2,132.0 275.2,132.2 277.2,132.3 279.2,132.4 281.2,132.6 283.2,132.7 285.2,132.8 287.2,132.9 289.2,133.0 291.2,133.1 293.3,133.2 295.3,133.2 297.3,133.3 299.3,133.3 301.3,133.4 303.3,133.4 305.3,133.4 307.3,133.4 309.3,133.4 311.3,133.4 313.3,133.4 315.3,133.3 317.3,133.3 319.3,133.2 321.3,133.2 323.3,133.1 325.3,133.0 327.3,132.9 329.3,132.8 331.3,132.7 333.3,132.6 335.3,132.4 337.3,132.3 339.3,132.1 341.3,131.9 343.3,131.7 345.3,131.5 347.3,131.3 349.3,131.1 351.3,130.9 353.3,130.7 355.2,130.4 357.2,130.1 359.2,129.9 361.2,129.6 363.2,129.3 365.1,129.0 367.1,128.7 369.1,128.3 371.1,128.0 373.0,127.6 375.0,127.3 377.0,126.9 378.9,126.5 380.9,126.1 382.8,125.7 384.8,125.3 386.7,124.9 388.7,124.4 390.6,124.0 392.6,123.5 394.5,123.0 396.5,122.5 398.4,122.0 400.3,121.5 402.3,121.0 404.2,120.4 406.1,119.9 408.0,119.3 410.0,118.7 411.9,118.1 413.8,117.5 415.7,116.9 417.6,116.3 419.5,115.7 421.4,115.0 423.3,114.3 425.2,113.7 427.1,113.0 428.9,112.3 430.8,111.6 432.7,110.8 434.6,110.1 436.4,109.4 438.3,108.6 440.2,107.8 442.0,107.1 443.9,106.3 445.7,105.5 447.6,104.7 449.5,103.9 451.3,103.1 453.2,102.3 455.0,101.5 456.8,100.7 458.7,99.8 460.5,99.0 462.4,98.2 464.2,97.3 466.1,96.5 467.9,95.7 469.7,94.8 471.6,94.0 473.4,93.1 475.2,92.3 477.1,91.4 478.9,90.6 480.7,89.7 482.6,88.9 484.4,88.0 486.2,87.2 488.1,86.4 489.9,85.5 491.8,84.7 493.6,83.9 495.4,83.0 497.3,82.2 499.1,81.4 501.0,80.6 502.8,79.8 504.6,79.0 506.5,78.2 508.3,77.4 510.2,76.6 512.0,75.9 513.9,75.1 515.8,74.4 517.6,73.6 519.5,72.9 521.3,72.2 523.2,71.4 525.1,70.8 526.9,70.1 528.8,69.4 530.7,68.7 532.6,68.1 534.5,67.4 536.4,66.8 538.2,66.2 540.1,65.6 542.0,65.0 543.9,64.5 545.9,63.9 547.8,63.4 549.7,62.9 551.6,62.4 553.5,61.9 555.5,61.5 557.4,61.0 559.3,60.6 561.3,60.2 563.2,59.8 565.2,59.4 567.1,59.1 569.1,58.8 571.0,58.4 573.0,58.1 575.0,57.9 577.0,57.6 578.9,57.3 580.9,57.1 582.9,56.9 584.9,56.7 586.8,56.5 588.8,56.4 590.8,56.2 592.8,56.1 594.8,56.0 596.8,55.9 598.8,55.8 600.8,55.7 602.8,55.7 604.8,55.6 606.8,55.6 608.8,55.6 610.8,55.6 612.8,55.7 614.8,55.7 616.8,55.8 618.8,55.8 620.8,55.9 622.8,56.0 624.8,56.2 626.8,56.3 628.9,56.5 630.9,56.6 632.9,56.8 634.9,57.0 636.9,57.2 638.9,57.4 640.9,57.7 642.9,57.9 644.9,58.2 646.9,58.5 648.8,58.8 650.8,59.1 652.8,59.4 654.8,59.8 656.8,60.1 658.8,60.5 660.8,60.9 662.7,61.3 664.7,61.7 666.7,62.1 668.6,62.5 670.6,63.0 672.6,63.4 674.5,63.9 676.5,64.4 678.5,64.9 680.4,65.4 682.4,65.9 684.3,66.4 686.3,66.9 688.2,67.5 690.2,68.0 692.1,68.6 694.0,69.1 696.0,69.7 697.9,70.3 699.9,70.8 701.8,71.4 703.7,72.0 705.7,72.6 707.6,73.2 709.5,73.8 711.4,74.4 713.4,75.0 715.3,75.7 717.2,76.3 719.2,76.9 721.1,77.5 723.0,78.1 724.9,78.8 726.8,79.4 728.8,80.0 730.7,80.7 732.6,81.3 734.5,81.9 736.4,82.5 738.4,83.2 740.3,83.8 742.2,84.4 744.1,85.0 746.0,85.6 748.0,86.2 749.9,86.8 751.8,87.4 753.7,88.0 755.6,88.6 757.6,89.2 759.5,89.8 761.4,90.4 763.3,90.9 765.2,91.5 767.2,92.1 769.1,92.6 771.0,93.1 772.9,93.7 774.9,94.2 776.8,94.7 778.7,95.2 780.7,95.7 782.6,96.2 784.5,96.7 786.5,97.1 788.4,97.6 790.3,98.0 792.3,98.4 794.2,98.8 796.1,99.2 798.1,99.6 800.0,100.0 802.0,100.4 803.9,100.7 805.9,101.0 807.8,101.3 809.8,101.6 811.7,101.9 813.7,102.2 815.6,102.5 817.6,102.7 819.6,102.9 821.5,103.2 823.5,103.4 825.5,103.5 827.4,103.7 829.4,103.9 831.4,104.0 833.3,104.1 835.3,104.3 837.3,104.4 839.3,104.4 841.2,104.5 843.2,104.6 845.2,104.6 847.2,104.7 849.2,104.7 851.2,104.7 853.1,104.6 855.1,104.6 857.1,104.6 859.1,104.5 861.1,104.4 863.1,104.3 865.1,104.2 867.1,104.1 869.1,104.0 871.1,103.8 873.1,103.7 875.1,103.5 877.1,103.3 879.1,103.1 881.1,102.9 883.2,102.7 885.2,102.4 887.2,102.2 889.2,102.0 891.2,101.7 893.2,101.4 895.3,101.2 897.3,100.9 899.3,100.7 901.3,100.4 903.4,100.1 905.4,99.8 907.4,99.6 909.5,99.3 911.5,99.1 913.6,98.8 915.6,98.5 917.6,98.3 919.7,98.1 921.7,97.8 923.8,97.6 925.8,97.4 927.9,97.2 929.9,97.0 932.0,96.8 934.0,96.6 936.0,96.5 938.1,96.3 940.1,96.2 942.1,96.1 944.2,96.0 946.2,95.9 948.2,95.8 950.2,95.8 952.3,95.8 954.3,95.8 956.3,95.8 958.3,95.8 960.3,95.9 962.3,95.9 964.3,96.0 966.2,96.2 968.2,96.3 970.2,96.5 972.1,96.7 974.1,97.0 976.0,97.2 977.9,97.5 979.9,97.8 981.8,98.2 983.7,98.6 985.6,99.0 987.5,99.4 989.4,99.9 991.2,100.4 993.1,100.9 994.9,101.5 996.8,102.1 998.6,102.7 1000.5,103.3 1002.3,104.0 1004.1,104.7 1005.9,105.4 1007.7,106.2 1009.5,106.9 1011.2,107.7 1013.0,108.5 1014.8,109.4 1016.5,110.2 1018.3,111.1 1020.0,112.0 1021.7,113.0 1023.4,113.9 1025.1,114.9 1026.8,115.9 1028.5,116.9 1030.2,118.0 1031.9,119.0 1033.5,120.1 1035.2,121.2 1036.8,122.3 1038.5,123.5 1040.1,124.6 1041.7,125.8 1043.3,127.0 1044.9,128.2 1046.5,129.4 1048.1,130.7 1049.7,131.9 1051.3,133.2 1052.8,134.5 1054.4,135.8 1055.9,137.1 1057.5,138.4 1059.0,139.8 1060.5,141.1 1062.0,142.5 1063.5,143.9 1065.0,145.3 1066.5,146.7 1068.0,148.1 1069.5,149.6 1070.9,151.0 1072.4,152.5 1073.8,153.9 1075.2,155.4 1076.7,156.9 1078.1,158.4 1079.5,159.9 1080.9,161.4 1082.3,162.9 1083.7,164.4 1085.1,165.9 1086.4,167.5 1087.8,169.0 1089.1,170.6 1090.5,172.1 1091.8,173.7 1093.1,175.3 1094.5,176.8 1095.8,178.4 1097.1,180.0 1098.4,181.6 1099.7,183.1 1100.9,184.7 1102.2,186.3 1103.5,187.9 1104.7,189.5 1106.0,191.1 1107.2,192.7 1108.4,194.3 1109.7,195.9 1110.9,197.5 1112.1,199.1 1113.3,200.7 1114.5,202.3 1115.7,203.9 1116.9,205.6 1118.1,207.2 1119.3,208.8 1120.4,210.4 1121.6,212.0 1122.8,213.7 1123.9,215.3 1125.1,216.9 1126.2,218.5 1127.4,220.1 1128.5,221.8 1129.7,223.4 1130.8,225.0 1132.0,226.7 1133.1,228.3 1134.2,229.9 1135.4,231.5 1136.5,233.2 1137.6,234.8 1138.8,236.4 1139.9,238.1 1141.0,239.7 1142.1,241.3 1143.3,243.0 1144.4,244.6 1145.5,246.2 1146.6,247.9 1147.8,249.5 1148.9,251.1 1150.0,252.7 1151.1,254.4 1152.3,256.0 1153.4,257.6 1154.5,259.2 1155.7,260.9 1156.8,262.5 1157.9,264.1 1159.1,265.7 1160.2,267.4 1161.4,269.0 1162.5,270.6 1163.7,272.2 1164.8,273.8 1166.0,275.4 1167.1,277.0 1168.3,278.7 1169.5,280.3 1170.6,281.9 1171.8,283.5 1173.0,285.1 1174.2,286.7 1175.4,288.3 1176.6,289.9 1177.8,291.4 1179.0,293.0 1180.2,294.6 1181.5,296.2 1182.7,297.8 1183.9,299.4 1185.2,300.9 1186.4,302.5 1187.7,304.1 1189.0,305.7 1190.2,307.2 1191.5,308.8 1192.7,310.4 1194.0,311.9 1195.3,313.5 1196.6,315.1 1197.8,316.6 1199.1,318.2 1200.4,319.8 1201.7,321.3 1203.0,322.9 1204.3,324.5 1205.5,326.0 1206.8,327.6 1208.1,329.2 1209.4,330.7 1210.6,332.3 1211.9,333.9 1213.2,335.4 1214.5,337.0 1215.7,338.6 1217.0,340.2 1218.3,341.8 1219.5,343.3 1220.8,344.9 1222.0,346.5 1223.2,348.1 1224.5,349.7 1225.7,351.3 1226.9,352.9 1228.1,354.5 1229.4,356.1 1230.6,357.8 1231.8,359.4 1232.9,361.0 1234.1,362.6 1235.3,364.3 1236.4,365.9 1237.6,367.5 1238.7,369.2 1239.9,370.8 1241.0,372.5 1242.1,374.2 1243.2,375.8 1244.3,377.5 1245.4,379.2 1246.4,380.9 1247.5,382.6 1248.5,384.3 1249.5,386.0 1250.5,387.7 1251.5,389.4 1252.5,391.1 1253.5,392.9 1254.4,394.6 1255.4,396.4 1256.3,398.1 1257.2,399.9 1258.1,401.7 1259.0,403.5 1259.8,405.3 1260.7,407.1 1261.5,408.9 1262.3,410.7 1263.1,412.6 1263.8,414.4 1264.6,416.3 1265.3,418.1 1266.0,420.0 M1372.0,415.0L1373.4,413.7 1374.9,412.3 1376.4,411.0 1377.8,409.7 1379.3,408.4 1380.8,407.0 1382.3,405.7 1383.8,404.4 1385.3,403.0 1386.8,401.7 1388.3,400.4 1389.8,399.0 1391.3,397.7 1392.9,396.4 1394.4,395.0 1396.0,393.7 1397.5,392.4 1399.1,391.1 1400.7,389.8 1402.3,388.5 1403.8,387.2 1405.4,385.9 1407.0,384.6 1408.7,383.3 1410.3,382.0 1411.9,380.8 1413.6,379.5 1415.2,378.3 1416.9,377.1 1418.5,375.9 1420.2,374.7 1421.9,373.5 1423.6,372.3 1425.2,371.2 1427.0,370.0 1428.7,368.9 1430.4,367.8 1432.1,366.7 1433.9,365.6 1435.6,364.5 1437.4,363.5 1439.1,362.5 1440.9,361.5 1442.7,360.5 1444.5,359.5 1446.3,358.6 1448.1,357.7 1449.9,356.8 1451.8,355.9 1453.6,355.1 1455.5,354.2 1457.3,353.4 1459.2,352.7 1461.1,351.9 1463.0,351.2 1464.9,350.5 1466.8,349.8 1468.7,349.2 1470.6,348.6 1472.6,348.0 1474.5,347.5 1476.5,346.9 1478.5,346.5 1480.4,346.0 1482.4,345.6 1484.4,345.2 1486.4,344.9 1488.5,344.5 1490.5,344.3 1492.5,344.0 1494.5,343.8 1496.6,343.7 1498.6,343.6 1500.6,343.5 1502.6,343.4 1504.7,343.4 1506.7,343.5 1508.7,343.6 1510.7,343.7 1512.6,343.9 1514.6,344.2 1516.6,344.5 1518.5,344.8 1520.5,345.2 1522.4,345.6 1524.3,346.1 1526.2,346.7 1528.0,347.3 1529.9,347.9 1531.7,348.7 1533.5,349.4 1535.2,350.3 1537.0,351.2 1538.7,352.1 1540.3,353.1 1542.0,354.2 1543.6,355.3 1545.2,356.5 1546.8,357.8 1548.3,359.1 1549.8,360.4 1551.3,361.8 1552.7,363.2 1554.2,364.7 1555.6,366.2 1557.0,367.7 1558.3,369.3 1559.7,370.9 1561.0,372.5 1562.3,374.2 1563.6,375.9 1564.8,377.6 1566.1,379.3 1567.3,381.0 1568.5,382.8 1569.7,384.5 1570.9,386.3 1572.1,388.1 1573.2,389.9 1574.4,391.6 1575.5,393.4 1576.7,395.2 1577.8,396.9 1578.9,398.7 1580.0,400.4 1581.1,402.1 1582.2,403.8 1583.4,405.5 1584.5,407.2 1585.6,408.8 1586.7,410.4 1587.8,412.0 1588.9,413.5 1590.0,415.0" fill="none" stroke="#000" stroke-width="5.00" stroke-linejoin="round" stroke-dasharray="18.2 17.8" stroke-linecap="butt"  stroke-dashoffset="-2.3"/>
<path d="M229.5,77.6L231.5,77.5 233.4,77.5 235.4,77.5 237.3,77.5 239.3,77.5 241.3,77.4 243.2,77.4 245.2,77.4 247.2,77.4 249.2,77.4 251.2,77.4 253.2,77.4 255.2,77.4 257.2,77.4 259.2,77.4 261.2,77.4 263.2,77.5 265.2,77.5 267.2,77.5 269.2,77.6 271.2,77.6 273.3,77.6 275.3,77.7 277.3,77.7 279.3,77.8 281.3,77.9 283.4,77.9 285.4,78.0 287.4,78.1 289.4,78.2 291.5,78.3 293.5,78.4 295.5,78.5 297.6,78.6 299.6,78.7 301.6,78.8 303.7,79.0 305.7,79.1 307.7,79.2 309.8,79.4 311.8,79.6 313.8,79.7 315.9,79.9 317.9,80.1 319.9,80.3 321.9,80.5 324.0,80.7 326.0,81.0 328.0,81.2 330.0,81.4 332.1,81.7 334.1,82.0 336.1,82.2 338.1,82.5 340.1,82.8 342.1,83.1 344.1,83.4 346.1,83.7 348.2,84.1 350.2,84.4 352.1,84.8 354.1,85.2 356.1,85.5 358.1,85.9 360.1,86.3 362.1,86.7 364.1,87.2 366.0,87.6 368.0,88.1 370.0,88.5 371.9,89.0 373.9,89.5 375.9,90.0 377.8,90.5 379.7,91.1 381.7,91.6 383.6,92.2 385.5,92.7 387.5,93.3 389.4,93.9 391.3,94.5 393.2,95.2 395.1,95.8 397.0,96.5 398.9,97.1 400.8,97.8 402.7,98.5 404.5,99.3 406.4,100.0 408.3,100.8 410.1,101.5 412.0,102.3 413.8,103.1 415.6,103.9 417.5,104.8 419.3,105.6 421.1,106.5 422.9,107.4 424.7,108.3 426.5,109.2 428.3,110.1 430.0,111.1 431.8,112.0 433.6,113.0 435.3,114.0 437.0,115.0 438.8,116.0 440.5,117.1 442.2,118.1 443.9,119.2 445.6,120.3 447.2,121.4 448.9,122.5 450.6,123.7 452.2,124.8 453.8,126.0 455.5,127.2 457.1,128.4 458.7,129.6 460.3,130.8 461.8,132.1 463.4,133.3 464.9,134.6 466.5,135.9 468.0,137.2 469.5,138.5 471.0,139.8 472.5,141.2 474.0,142.5 475.4,143.9 476.9,145.3 478.3,146.7 479.7,148.1 481.1,149.6 482.5,151.0 483.9,152.5 485.2,154.0 486.6,155.4 487.9,156.9 489.2,158.5 490.6,160.0 491.8,161.5 493.1,163.1 494.4,164.6 495.6,166.2 496.9,167.8 498.1,169.3 499.3,170.9 500.5,172.6 501.7,174.2 502.9,175.8 504.0,177.4 505.2,179.1 506.3,180.7 507.4,182.4 508.5,184.1 509.6,185.7 510.7,187.4 511.7,189.1 512.8,190.8 513.8,192.5 514.8,194.3 515.8,196.0 516.8,197.7 517.8,199.4 518.8,201.2 519.7,202.9 520.6,204.7 521.6,206.5 522.5,208.3 523.4,210.0 524.3,211.8 525.2,213.6 526.0,215.4 526.9,217.2 527.7,219.0 528.6,220.9 529.4,222.7 530.2,224.5 531.0,226.3 531.8,228.2 532.6,230.0 533.3,231.9 534.1,233.7 534.8,235.6 535.6,237.5 536.3,239.4 537.0,241.2 537.7,243.1 538.4,245.0 539.1,246.9 539.8,248.8 540.4,250.7 541.1,252.6 541.7,254.5 542.4,256.5 543.0,258.4 543.6,260.3 544.2,262.2 544.8,264.2 545.4,266.1 546.0,268.0 546.6,270.0 547.1,271.9 547.7,273.9 548.2,275.8 548.7,277.8 549.3,279.8 549.8,281.7 550.3,283.7 550.8,285.7 551.3,287.6 551.8,289.6 552.3,291.6 552.7,293.6 553.2,295.6 553.7,297.5 554.1,299.5 554.6,301.5 555.0,303.5 555.4,305.5 555.9,307.5 556.3,309.5 556.7,311.5 557.1,313.5 557.5,315.5 557.9,317.5 558.2,319.5 558.6,321.5 559.0,323.5 559.4,325.5 559.7,327.5 560.1,329.5 560.4,331.6 560.8,333.6 561.1,335.6 561.4,337.6 561.8,339.6 562.1,341.6 562.4,343.6 562.7,345.6 563.0,347.6 563.3,349.7 563.6,351.7 563.9,353.7 564.2,355.7 564.5,357.7 564.8,359.7 565.1,361.7 565.3,363.7 565.6,365.7 565.9,367.7 566.1,369.7 566.4,371.7 566.7,373.7 566.9,375.7 567.2,377.7 567.4,379.7 567.7,381.7 567.9,383.7 568.1,385.7 568.4,387.7 568.6,389.7 568.8,391.7 569.1,393.7 569.3,395.6 569.5,397.6 569.8,399.6 570.0,401.6 570.2,403.5 570.4,405.5 570.6,407.5 570.8,409.4 571.1,411.4 571.3,413.3 571.5,415.3 571.7,417.2 571.9,419.2 572.1,421.1 572.3,423.0 572.5,425.0 M599.5,425.0L599.7,423.0 599.8,421.1 600.0,419.2 600.2,417.2 600.4,415.3 600.6,413.3 600.8,411.4 601.0,409.4 601.2,407.4 601.5,405.5 601.7,403.5 601.9,401.5 602.1,399.6 602.3,397.6 602.6,395.6 602.8,393.7 603.0,391.7 603.3,389.7 603.5,387.7 603.8,385.7 604.0,383.8 604.3,381.8 604.6,379.8 604.8,377.8 605.1,375.8 605.4,373.8 605.7,371.8 606.0,369.8 606.2,367.9 606.5,365.9 606.8,363.9 607.2,361.9 607.5,359.9 607.8,357.9 608.1,355.9 608.4,353.9 608.8,351.9 609.1,349.9 609.4,347.9 609.8,345.9 610.2,343.9 610.5,341.9 610.9,339.9 611.3,337.9 611.6,335.9 612.0,334.0 612.4,332.0 612.8,330.0 613.2,328.0 613.6,326.0 614.0,324.0 614.5,322.0 614.9,320.0 615.3,318.1 615.8,316.1 616.2,314.1 616.7,312.1 617.1,310.1 617.6,308.2 618.1,306.2 618.6,304.2 619.1,302.3 619.6,300.3 620.1,298.3 620.6,296.4 621.1,294.4 621.6,292.5 622.2,290.5 622.7,288.6 623.3,286.6 623.8,284.7 624.4,282.7 625.0,280.8 625.6,278.8 626.1,276.9 626.7,275.0 627.4,273.1 628.0,271.1 628.6,269.2 629.2,267.3 629.9,265.4 630.5,263.5 631.2,261.6 631.9,259.7 632.5,257.8 633.2,255.9 633.9,254.0 634.6,252.1 635.3,250.3 636.1,248.4 636.8,246.5 637.5,244.7 638.3,242.8 639.0,240.9 639.8,239.1 640.6,237.3 641.4,235.4 642.2,233.6 643.0,231.8 643.8,229.9 644.7,228.1 645.5,226.3 646.3,224.5 647.2,222.7 648.1,220.9 649.0,219.1 649.8,217.4 650.7,215.6 651.7,213.8 652.6,212.1 653.5,210.3 654.5,208.5 655.4,206.8 656.4,205.1 657.4,203.3 658.4,201.6 659.4,199.9 660.4,198.2 661.4,196.5 662.4,194.8 663.5,193.1 664.5,191.4 665.6,189.8 666.7,188.1 667.8,186.5 668.9,184.8 670.0,183.2 671.1,181.5 672.3,179.9 673.4,178.3 674.6,176.7 675.8,175.1 677.0,173.5 678.2,171.9 679.4,170.4 680.6,168.8 681.8,167.2 683.1,165.7 684.4,164.2 685.6,162.6 686.9,161.1 688.2,159.6 689.5,158.1 690.9,156.6 692.2,155.1 693.6,153.6 694.9,152.2 696.3,150.7 697.7,149.3 699.1,147.9 700.5,146.4 702.0,145.0 703.4,143.6 704.9,142.2 706.3,140.9 707.8,139.5 709.3,138.1 710.8,136.8 712.3,135.5 713.8,134.1 715.4,132.8 716.9,131.5 718.4,130.2 720.0,129.0 721.6,127.7 723.2,126.4 724.8,125.2 726.4,124.0 728.0,122.8 729.6,121.6 731.2,120.4 732.9,119.2 734.5,118.0 736.2,116.9 737.9,115.8 739.6,114.6 741.2,113.5 742.9,112.4 744.7,111.4 746.4,110.3 748.1,109.2 749.8,108.2 751.6,107.2 753.3,106.2 755.1,105.2 756.8,104.2 758.6,103.2 760.4,102.3 762.2,101.4 764.0,100.4 765.8,99.5 767.6,98.7 769.4,97.8 771.2,96.9 773.1,96.1 774.9,95.3 776.7,94.5 778.6,93.7 780.4,92.9 782.3,92.1 784.2,91.4 786.1,90.7 787.9,90.0 789.8,89.3 791.7,88.6 793.6,88.0 795.5,87.3 797.4,86.7 799.3,86.1 801.3,85.5 803.2,85.0 805.1,84.4 807.0,83.9 809.0,83.4 810.9,82.9 812.9,82.4 814.8,82.0 816.8,81.5 818.7,81.1 820.7,80.7 822.7,80.3 824.6,79.9 826.6,79.5 828.6,79.2 830.5,78.8 832.5,78.5 834.5,78.2 836.5,77.9 838.5,77.5 840.5,77.3 842.5,77.0 844.5,76.7 846.5,76.4 848.5,76.2 850.5,75.9 852.5,75.7 854.5,75.5 856.5,75.2 858.5,75.0 860.5,74.8 862.5,74.6 864.5,74.4 866.5,74.2 868.5,74.0 870.5,73.8 872.5,73.6 874.5,73.4 876.5,73.2 878.5,73.0 880.5,72.8 882.5,72.6 884.5,72.4 886.5,72.2 888.5,72.0 890.5,71.8 892.5,71.6 894.5,71.4 896.5,71.2 898.5,70.9 900.5,70.7 902.5,70.5 904.5,70.3 906.5,70.0 908.5,69.8 910.4,69.6 912.4,69.3 914.4,69.0 916.4,68.8 918.4,68.5 920.3,68.2 922.3,67.9 924.3,67.6 926.2,67.3 928.2,67.0 930.2,66.7 932.1,66.3 934.1,66.0 936.0,65.6 938.0,65.2 939.9,64.8 941.9,64.4 943.8,64.0 945.8,63.6 947.7,63.2 949.7,62.7 951.6,62.2 953.5,61.8 955.4,61.3 957.4,60.7 959.3,60.2 961.2,59.7 963.1,59.1 965.0,58.5 966.9,57.9 968.9,57.3 970.8,56.7 972.7,56.0 974.5,55.4 976.4,54.7 978.3,54.0 980.2,53.3 982.1,52.5 984.0,51.8 985.9,51.0 987.7,50.3 989.6,49.5 991.5,48.7 993.4,47.9 995.2,47.1 997.1,46.3 999.0,45.5 1000.9,44.7 1002.7,43.9 1004.6,43.1 1006.5,42.3 1008.3,41.5 1010.2,40.7 1012.1,39.8 1013.9,39.0 1015.8,38.2 1017.7,37.5 1019.6,36.7 1021.4,35.9 1023.3,35.1 1025.2,34.4 1027.1,33.6 1029.0,32.9 1030.8,32.2 1032.7,31.5 1034.6,30.8 1036.5,30.1 1038.4,29.5 1040.3,28.9 1042.2,28.2 1044.1,27.6 1046.0,27.1 1047.9,26.5 1049.9,26.0 1051.8,25.4 1053.7,24.9 1055.6,24.4 1057.6,24.0 1059.5,23.5 1061.4,23.0 1063.3,22.6 1065.3,22.2 1067.2,21.8 1069.2,21.4 1071.1,21.0 1073.1,20.7 1075.0,20.4 1077.0,20.0 1078.9,19.7 1080.9,19.4 1082.8,19.1 1084.8,18.8 1086.8,18.6 1088.7,18.3 1090.7,18.1 1092.7,17.9 1094.6,17.7 1096.6,17.5 1098.6,17.3 1100.6,17.1 1102.6,16.9 1104.5,16.8 1106.5,16.6 1108.5,16.5 1110.5,16.4 1112.5,16.3 1114.5,16.2 1116.5,16.1 1118.5,16.0 1120.5,15.9 1122.4,15.9 1124.4,15.8 1126.4,15.8 1128.4,15.7 1130.4,15.7 1132.4,15.7 1134.5,15.6 1136.5,15.6 1138.5,15.6 1140.5,15.6 1142.5,15.7 1144.5,15.7 1146.5,15.7 1148.5,15.7 1150.5,15.8 1152.5,15.8 1154.6,15.9 1156.6,15.9 1158.6,16.0 1160.6,16.0 1162.6,16.1 1164.6,16.2 1166.6,16.3 1168.7,16.4 1170.7,16.4 1172.7,16.5 1174.7,16.6 1176.7,16.7 1178.8,16.8 1180.8,16.9 1182.8,17.0 1184.8,17.1 1186.8,17.2 1188.9,17.3 1190.9,17.5 1192.9,17.6 1194.9,17.7 1196.9,17.8 1199.0,17.9 1201.0,18.0 1203.0,18.1 1205.0,18.3 1207.0,18.4 1209.1,18.5 1211.1,18.6 1213.1,18.7 1215.1,18.8 1217.1,18.9 1219.2,19.1 1221.2,19.2 1223.2,19.3 1225.2,19.4 1227.2,19.5 1229.2,19.6 1231.2,19.7 1233.3,19.8 1235.3,19.9 1237.3,20.0 1239.3,20.1 1241.3,20.2 1243.3,20.3 1245.3,20.4 1247.3,20.5 1249.3,20.6 1251.3,20.7 1253.3,20.8 1255.4,20.9 1257.4,21.0 1259.4,21.1 1261.4,21.2 1263.4,21.3 1265.4,21.4 1267.4,21.5 1269.4,21.6 1271.4,21.7 1273.4,21.8 1275.4,21.9 1277.4,22.0 1279.4,22.1 1281.4,22.2 1283.4,22.3 1285.4,22.4 1287.4,22.5 1289.4,22.6 1291.4,22.8 1293.4,22.9 1295.4,23.0 1297.4,23.1 1299.4,23.3 1301.4,23.4 1303.4,23.5 1305.4,23.6 1307.3,23.8 1309.3,23.9 1311.3,24.1 1313.3,24.2 1315.3,24.4 1317.3,24.5 1319.3,24.7 1321.3,24.8 1323.3,25.0 1325.3,25.2 1327.3,25.3 1329.2,25.5 1331.2,25.7 1333.2,25.9 1335.2,26.1 1337.2,26.3 1339.2,26.4 1341.2,26.7 1343.1,26.9 1345.1,27.1 1347.1,27.3 1349.1,27.5 1351.1,27.7 1353.1,28.0 1355.0,28.2 1357.0,28.4 1359.0,28.7 1361.0,28.9 1363.0,29.2 1364.9,29.5 1366.9,29.7 1368.9,30.0 1370.9,30.3 1372.9,30.6 1374.8,30.9 1376.8,31.2 1378.8,31.5 1380.8,31.8 1382.7,32.1 1384.7,32.4 1386.7,32.8 1388.7,33.1 1390.6,33.5 1392.6,33.8 1394.6,34.2 1396.6,34.5 1398.5,34.9 1400.5,35.3 1402.5,35.7 1404.4,36.1 1406.4,36.5 1408.4,36.9 1410.3,37.3 1412.3,37.7 1414.3,38.1 1416.2,38.5 1418.2,39.0 1420.2,39.4 1422.1,39.8 1424.1,40.3 1426.0,40.7 1428.0,41.2 1429.9,41.7 1431.9,42.1 1433.8,42.6 1435.8,43.1 1437.7,43.6 1439.7,44.1 1441.6,44.6 1443.6,45.1 1445.5,45.6 1447.5,46.1 1449.4,46.7 1451.4,47.2 1453.3,47.7 1455.2,48.3 1457.2,48.8 1459.1,49.4 1461.0,49.9 1463.0,50.5 1464.9,51.1 1466.8,51.6 1468.8,52.2 1470.7,52.8 1472.6,53.4 1474.5,54.0 1476.4,54.6 1478.4,55.2 1480.3,55.8 1482.2,56.4 1484.1,57.0 1486.0,57.6 1487.9,58.3 1489.8,58.9 1491.7,59.5 1493.6,60.2 1495.5,60.8 1497.4,61.5 1499.3,62.2 1501.2,62.8 1503.1,63.5 1505.0,64.2 1506.8,64.8 1508.7,65.5 1510.6,66.2 1512.5,66.9 1514.4,67.6 1516.2,68.3 1518.1,69.0 1520.0,69.7 1521.8,70.4 1523.7,71.2 1525.6,71.9 1527.4,72.6 1529.3,73.4 1531.1,74.1 1533.0,74.8 1534.8,75.5 1536.7,76.1 1538.5,76.8 1540.4,77.3 1542.3,77.8 1544.2,78.3 1546.0,78.7 1547.9,79.0 1549.9,79.2 1551.8,79.4 1553.7,79.4 1555.6,79.4 1557.6,79.2 1559.5,79.0 1561.5,78.7 1563.5,78.3 1565.4,77.9 1567.4,77.4 1569.4,76.8 1571.3,76.2 1573.3,75.6 1575.2,74.9 1577.1,74.1 1579.1,73.3 1581.0,72.5 1582.9,71.7 1584.8,70.9 1586.6,70.0 1588.5,69.1 1590.4,68.2 1592.2,67.2 1594.1,66.3 1595.9,65.3 1597.7,64.3 1599.5,63.3 1601.3,62.3 1603.1,61.3 1604.9,60.3 1606.7,59.3 1608.5,58.2 1610.3,57.2 1612.1,56.2 1613.8,55.1 1615.6,54.1 1617.4,53.1 1619.2,52.1 1620.9,51.1 1622.7,50.1 1624.5,49.1 1626.3,48.1 1628.1,47.1 1629.8,46.2 1631.6,45.3 1633.4,44.4 1635.2,43.5 1637.0,42.6 1638.8,41.8 1640.6,41.0 1642.4,40.2 1644.3,39.5 1646.1,38.7 1647.9,38.1 1649.8,37.4 1651.7,36.8 1653.5,36.2 1655.4,35.7 1657.3,35.2" fill="none" stroke="#000" stroke-width="5.00" stroke-linejoin="round" stroke-dasharray="4.4 4.6" stroke-linecap="butt"  stroke-dashoffset="-2.3"/>
<path d="M229.5,106.3L231.5,106.3 233.5,106.3 235.5,106.3 237.5,106.4 239.5,106.4 241.5,106.4 243.5,106.4 245.5,106.5 247.5,106.5 249.5,106.5 251.5,106.5 253.5,106.6 255.5,106.6 257.5,106.6 259.5,106.6 261.5,106.7 263.5,106.7 265.5,106.7 267.5,106.7 269.5,106.8 271.5,106.8 273.5,106.8 275.5,106.8 277.5,106.9 279.5,106.9 281.5,106.9 283.6,106.9 285.6,107.0 287.6,107.0 289.6,107.0 291.6,107.0 293.6,107.1 295.6,107.1 297.6,107.1 299.6,107.1 301.6,107.2 303.6,107.2 305.6,107.2 307.6,107.2 309.6,107.3 311.6,107.3 313.6,107.3 315.6,107.3 317.6,107.4 319.6,107.4 321.6,107.4 323.6,107.5 325.6,107.5 327.6,107.5 329.6,107.5 331.6,107.6 333.6,107.6 335.6,107.6 337.6,107.6 339.6,107.7 341.6,107.7 343.6,107.7 345.6,107.8 347.6,107.8 349.7,107.8 351.7,107.8 353.7,107.9 355.7,107.9 357.7,107.9 359.7,108.0 361.7,108.0 363.7,108.0 365.7,108.1 367.7,108.1 369.7,108.1 371.7,108.1 373.7,108.2 375.7,108.2 377.7,108.2 379.7,108.3 381.7,108.3 383.7,108.3 385.7,108.4 387.7,108.4 389.7,108.4 391.7,108.5 393.7,108.5 395.7,108.5 397.7,108.6 399.7,108.6 401.7,108.6 403.8,108.7 405.8,108.7 407.8,108.7 409.8,108.8 411.8,108.8 413.8,108.8 415.8,108.9 417.8,108.9 419.8,108.9 421.8,109.0 423.8,109.0 425.8,109.0 427.8,109.1 429.8,109.1 431.8,109.2 433.8,109.2 435.8,109.2 437.8,109.3 439.8,109.3 441.8,109.3 443.8,109.4 445.8,109.4 447.8,109.5 449.9,109.5 451.9,109.5 453.9,109.6 455.9,109.6 457.9,109.7 459.9,109.7 461.9,109.7 463.9,109.8 465.9,109.8 467.9,109.9 469.9,109.9 471.9,110.0 473.9,110.0 475.9,110.0 477.9,110.1 479.9,110.1 481.9,110.2 483.9,110.2 485.9,110.3 487.9,110.3 489.9,110.4 491.9,110.4 493.9,110.4 495.9,110.5 498.0,110.5 500.0,110.6 502.0,110.6 504.0,110.7 506.0,110.7 508.0,110.8 510.0,110.8 512.0,110.9 514.0,110.9 516.0,111.0 518.0,111.0 520.0,111.1 522.0,111.1 524.0,111.2 526.0,111.2 528.0,111.3 530.0,111.4 532.0,111.4 534.0,111.5 536.0,111.5 538.0,111.6 540.0,111.6 542.0,111.7 544.0,111.7 546.1,111.8 548.1,111.9 550.1,111.9 552.1,112.0 554.1,112.0 556.1,112.1 558.1,112.2 560.1,112.2 562.1,112.3 564.1,112.3 566.1,112.4 568.1,112.5 570.1,112.5 572.1,112.6 574.1,112.6 576.1,112.7 578.1,112.8 580.1,112.8 582.1,112.9 584.1,113.0 586.1,113.0 588.1,113.1 590.1,113.2 592.1,113.2 594.1,113.3 596.1,113.4 598.1,113.4 600.2,113.5 602.2,113.6 604.2,113.7 606.2,113.7 608.2,113.8 610.2,113.9 612.2,113.9 614.2,114.0 616.2,114.1 618.2,114.2 620.2,114.2 622.2,114.3 624.2,114.4 626.2,114.5 628.2,114.5 630.2,114.6 632.2,114.7 634.2,114.8 636.2,114.9 638.2,114.9 640.2,115.0 642.2,115.1 644.2,115.2 646.2,115.3 648.2,115.3 650.2,115.4 652.2,115.5 654.2,115.6 656.2,115.7 658.2,115.8 660.2,115.9 662.2,115.9 664.2,116.0 666.2,116.1 668.2,116.2 670.2,116.3 672.2,116.4 674.3,116.5 676.3,116.6 678.3,116.7 680.3,116.7 682.3,116.8 684.3,116.9 686.3,117.0 688.3,117.1 690.3,117.2 692.3,117.3 694.3,117.4 696.3,117.5 698.3,117.6 700.3,117.7 702.3,117.8 704.3,117.9 706.3,118.0 708.3,118.1 710.3,118.2 712.3,118.3 714.3,118.4 716.3,118.5 718.3,118.6 720.3,118.7 722.3,118.8 724.3,118.9 726.3,119.0 728.3,119.2 730.3,119.3 732.3,119.4 734.3,119.5 736.3,119.6 738.3,119.7 740.3,119.8 742.3,119.9 744.3,120.0 746.3,120.2 748.3,120.3 750.3,120.4 752.3,120.5 754.3,120.6 756.3,120.7 758.3,120.9 760.3,121.0 762.3,121.1 764.3,121.2 766.3,121.3 768.3,121.5 770.3,121.6 772.3,121.7 774.3,121.8 776.3,122.0 778.3,122.1 780.3,122.2 782.3,122.3 784.3,122.5 786.3,122.6 788.3,122.7 790.3,122.9 792.3,123.0 794.3,123.1 796.3,123.3 798.3,123.4 800.3,123.5 802.3,123.7 804.3,123.8 806.3,123.9 808.3,124.1 810.3,124.2 812.3,124.4 814.3,124.5 816.3,124.6 818.2,124.8 820.2,124.9 822.2,125.1 824.2,125.2 826.2,125.4 828.2,125.5 830.2,125.7 832.2,125.8 834.2,125.9 836.2,126.1 838.2,126.2 840.2,126.4 842.2,126.6 844.2,126.7 846.2,126.9 848.2,127.0 850.2,127.2 852.2,127.3 854.2,127.5 856.2,127.6 858.2,127.8 860.2,128.0 862.2,128.1 864.2,128.3 866.2,128.4 868.2,128.6 870.2,128.8 872.2,128.9 874.2,129.1 876.1,129.3 878.1,129.4 880.1,129.6 882.1,129.8 884.1,130.0 886.1,130.1 888.1,130.3 890.1,130.5 892.1,130.6 894.1,130.8 896.1,131.0 898.1,131.2 900.1,131.3 902.1,131.5 904.1,131.7 906.1,131.9 908.1,132.1 910.1,132.3 912.0,132.4 914.0,132.6 916.0,132.8 918.0,133.0 920.0,133.2 922.0,133.4 924.0,133.6 926.0,133.8 928.0,133.9 930.0,134.1 932.0,134.3 934.0,134.5 936.0,134.7 938.0,134.9 939.9,135.1 941.9,135.3 943.9,135.5 945.9,135.7 947.9,135.9 949.9,136.1 951.9,136.3 953.9,136.5 955.9,136.7 957.9,136.9 959.9,137.1 961.9,137.4 963.8,137.6 965.8,137.8 967.8,138.0 969.8,138.2 971.8,138.4 973.8,138.6 975.8,138.8 977.8,139.1 979.8,139.3 981.8,139.5 983.8,139.7 985.7,139.9 987.7,140.2 989.7,140.4 991.7,140.6 993.7,140.8 995.7,141.1 997.7,141.3 999.7,141.5 1001.7,141.7 1003.6,142.0 1005.6,142.2 1007.6,142.4 1009.6,142.7 1011.6,142.9 1013.6,143.2 1015.6,143.4 1017.6,143.6 1019.5,143.9 1021.5,144.1 1023.5,144.3 1025.5,144.6 1027.5,144.8 1029.5,145.1 1031.5,145.3 1033.5,145.6 1035.4,145.8 1037.4,146.1 1039.4,146.3 1041.4,146.6 1043.4,146.8 1045.4,147.1 1047.4,147.3 1049.4,147.6 1051.3,147.8 1053.3,148.1 1055.3,148.3 1057.3,148.6 1059.3,148.9 1061.3,149.1 1063.3,149.4 1065.2,149.6 1067.2,149.9 1069.2,150.2 1071.2,150.4 1073.2,150.7 1075.2,150.9 1077.2,151.2 1079.1,151.5 1081.1,151.7 1083.1,152.0 1085.1,152.3 1087.1,152.5 1089.1,152.8 1091.1,153.1 1093.0,153.4 1095.0,153.6 1097.0,153.9 1099.0,154.2 1101.0,154.4 1103.0,154.7 1105.0,155.0 1106.9,155.3 1108.9,155.5 1110.9,155.8 1112.9,156.1 1114.9,156.4 1116.9,156.7 1118.8,156.9 1120.8,157.2 1122.8,157.5 1124.8,157.8 1126.8,158.1 1128.8,158.3 1130.8,158.6 1132.7,158.9 1134.7,159.2 1136.7,159.5 1138.7,159.7 1140.7,160.0 1142.7,160.3 1144.7,160.6 1146.6,160.9 1148.6,161.2 1150.6,161.5 1152.6,161.7 1154.6,162.0 1156.6,162.3 1158.5,162.6 1160.5,162.9 1162.5,163.2 1164.5,163.5 1166.5,163.8 1168.5,164.0 1170.5,164.3 1172.4,164.6 1174.4,164.9 1176.4,165.2 1178.4,165.5 1180.4,165.8 1182.4,166.1 1184.4,166.4 1186.3,166.7 1188.3,166.9 1190.3,167.2 1192.3,167.5 1194.3,167.8 1196.3,168.1 1198.3,168.4 1200.2,168.7 1202.2,169.0 1204.2,169.3 1206.2,169.6 1208.2,169.9 1210.2,170.2 1212.2,170.5 1214.1,170.8 1216.1,171.0 1218.1,171.3 1220.1,171.6 1222.1,171.9 1224.1,172.2 1226.1,172.5 1228.0,172.8 1230.0,173.1 1232.0,173.4 1234.0,173.7 1236.0,174.0 1238.0,174.3 1240.0,174.6 1242.0,174.9 1243.9,175.2 1245.9,175.5 1247.9,175.7 1249.9,176.0 1251.9,176.3 1253.9,176.6 1255.9,176.9 1257.9,177.2 1259.8,177.5 1261.8,177.8 1263.8,178.1 1265.8,178.4 1267.8,178.7 1269.8,179.0 1271.8,179.3 1273.8,179.5 1275.8,179.8 1277.7,180.1 1279.7,180.4 1281.7,180.7 1283.7,181.0 1285.7,181.3 1287.7,181.6 1289.7,181.9 1291.7,182.1 1293.7,182.4 1295.6,182.7 1297.6,183.0 1299.6,183.3 1301.6,183.6 1303.6,183.8 1305.6,184.1 1307.6,184.4 1309.6,184.7 1311.6,185.0 1313.6,185.2 1315.6,185.5 1317.5,185.8 1319.5,186.1 1321.5,186.3 1323.5,186.6 1325.5,186.9 1327.5,187.1 1329.5,187.4 1331.5,187.7 1333.5,187.9 1335.5,188.2 1337.5,188.5 1339.4,188.7 1341.4,189.0 1343.4,189.2 1345.4,189.5 1347.4,189.7 1349.4,190.0 1351.4,190.2 1353.4,190.5 1355.4,190.7 1357.4,191.0 1359.4,191.2 1361.4,191.4 1363.3,191.7 1365.3,191.9 1367.3,192.2 1369.3,192.4 1371.3,192.6 1373.3,192.8 1375.3,193.1 1377.3,193.3 1379.3,193.5 1381.3,193.7 1383.3,193.9 1385.3,194.1 1387.3,194.4 1389.2,194.6 1391.2,194.8 1393.2,195.0 1395.2,195.2 1397.2,195.4 1399.2,195.6 1401.2,195.8 1403.2,195.9 1405.2,196.1 1407.2,196.3 1409.2,196.5 1411.2,196.7 1413.1,196.8 1415.1,197.0 1417.1,197.2 1419.1,197.3 1421.1,197.5 1423.1,197.7 1425.1,197.8 1427.1,198.0 1429.1,198.1 1431.1,198.3 1433.1,198.4 1435.1,198.6 1437.1,198.7 1439.0,198.8 1441.0,199.0 1443.0,199.1 1445.0,199.2 1447.0,199.3 1449.0,199.4 1451.0,199.5 1453.0,199.7 1455.0,199.8 1457.0,199.9 1459.0,200.0 1461.0,200.0 1462.9,200.1 1464.9,200.2 1466.9,200.3 1468.9,200.4 1470.9,200.4 1472.9,200.5 1474.9,200.6 1476.9,200.6 1478.9,200.7 1480.9,200.7 1482.9,200.8 1484.8,200.8 1486.8,200.9 1488.8,200.9 1490.8,200.9 1492.8,201.0 1494.8,201.0 1496.8,201.0 1498.8,201.0 1500.8,201.0 1502.8,201.0 1504.8,201.0 1506.7,201.0 1508.7,201.0 1510.7,201.0 1512.7,201.0 1514.7,200.9 1516.7,200.9 1518.7,200.9 1520.7,200.8 1522.7,200.8 1524.6,200.7 1526.6,200.7 1528.6,200.6 1530.6,200.5 1532.6,200.5 1534.6,200.4 1536.6,200.3 1538.6,200.2 1540.5,200.1 1542.5,200.0 1544.5,199.9 1546.5,199.8 1548.5,199.7 1550.5,199.5 1552.5,199.4 1554.5,199.3 1556.4,199.1 1558.4,199.0 1560.4,198.8 1562.4,198.7 1564.4,198.5 1566.4,198.3 1568.3,198.1 1570.3,197.9 1572.3,197.7 1574.3,197.5 1576.3,197.3 1578.3,197.1 1580.2,196.9 1582.2,196.7 1584.2,196.5 1586.2,196.2 1588.2,196.0 1590.2,195.7 1592.1,195.5 1594.1,195.2 1596.1,194.9 1598.1,194.6 1600.1,194.4 1602.0,194.1 1604.0,193.8 1606.0,193.5 1608.0,193.1 1610.0,192.8 1611.9,192.5 1613.9,192.1 1615.9,191.8 1617.9,191.4 1619.8,191.1 1621.8,190.7 1623.8,190.3 1625.8,190.0 1627.7,189.6 1629.7,189.2 1631.7,188.8 1633.7,188.4 1635.6,187.9 1637.6,187.5 1639.6,187.1 1641.6,186.6 1643.5,186.2 1645.5,185.7 1647.5,185.2 1649.4,184.8 1651.4,184.3 1653.4,183.8 1655.4,183.3 1657.3,182.8" fill="none" stroke="#b3b3b3" stroke-width="5.00" stroke-linejoin="round" stroke-linecap="butt" />
<path d="M229.5,104.6L231.5,104.6 233.5,104.6 235.5,104.6 237.5,104.7 239.5,104.7 241.5,104.7 243.5,104.7 245.5,104.8 247.5,104.8 249.6,104.8 251.6,104.8 253.6,104.9 255.6,104.9 257.6,104.9 259.6,104.9 261.6,105.0 263.6,105.0 265.6,105.0 267.6,105.0 269.6,105.1 271.6,105.1 273.6,105.1 275.6,105.1 277.6,105.2 279.6,105.2 281.6,105.2 283.7,105.2 285.7,105.2 287.7,105.3 289.7,105.3 291.7,105.3 293.7,105.3 295.7,105.4 297.7,105.4 299.7,105.4 301.7,105.4 303.7,105.5 305.7,105.5 307.7,105.5 309.7,105.5 311.7,105.6 313.7,105.6 315.7,105.6 317.7,105.6 319.8,105.7 321.8,105.7 323.8,105.7 325.8,105.7 327.8,105.8 329.8,105.8 331.8,105.8 333.8,105.8 335.8,105.9 337.8,105.9 339.8,105.9 341.8,105.9 343.8,106.0 345.8,106.0 347.8,106.0 349.8,106.1 351.8,106.1 353.9,106.1 355.9,106.1 357.9,106.2 359.9,106.2 361.9,106.2 363.9,106.2 365.9,106.3 367.9,106.3 369.9,106.3 371.9,106.4 373.9,106.4 375.9,106.4 377.9,106.4 379.9,106.5 381.9,106.5 383.9,106.5 385.9,106.6 387.9,106.6 390.0,106.6 392.0,106.6 394.0,106.7 396.0,106.7 398.0,106.7 400.0,106.8 402.0,106.8 404.0,106.8 406.0,106.9 408.0,106.9 410.0,106.9 412.0,106.9 414.0,107.0 416.0,107.0 418.0,107.0 420.0,107.1 422.0,107.1 424.0,107.1 426.0,107.2 428.1,107.2 430.1,107.2 432.1,107.3 434.1,107.3 436.1,107.3 438.1,107.4 440.1,107.4 442.1,107.4 444.1,107.5 446.1,107.5 448.1,107.5 450.1,107.6 452.1,107.6 454.1,107.7 456.1,107.7 458.1,107.7 460.1,107.8 462.1,107.8 464.1,107.8 466.2,107.9 468.2,107.9 470.2,108.0 472.2,108.0 474.2,108.0 476.2,108.1 478.2,108.1 480.2,108.2 482.2,108.2 484.2,108.2 486.2,108.3 488.2,108.3 490.2,108.4 492.2,108.4 494.2,108.4 496.2,108.5 498.2,108.5 500.2,108.6 502.2,108.6 504.2,108.7 506.2,108.7 508.3,108.7 510.3,108.8 512.3,108.8 514.3,108.9 516.3,108.9 518.3,109.0 520.3,109.0 522.3,109.1 524.3,109.1 526.3,109.2 528.3,109.2 530.3,109.3 532.3,109.3 534.3,109.4 536.3,109.4 538.3,109.5 540.3,109.5 542.3,109.6 544.3,109.6 546.3,109.7 548.3,109.7 550.3,109.8 552.3,109.8 554.4,109.9 556.4,109.9 558.4,110.0 560.4,110.0 562.4,110.1 564.4,110.1 566.4,110.2 568.4,110.3 570.4,110.3 572.4,110.4 574.4,110.4 576.4,110.5 578.4,110.5 580.4,110.6 582.4,110.7 584.4,110.7 586.4,110.8 588.4,110.8 590.4,110.9 592.4,111.0 594.4,111.0 596.4,111.1 598.4,111.2 600.4,111.2 602.4,111.3 604.4,111.3 606.4,111.4 608.5,111.5 610.5,111.5 612.5,111.6 614.5,111.7 616.5,111.7 618.5,111.8 620.5,111.9 622.5,111.9 624.5,112.0 626.5,112.1 628.5,112.2 630.5,112.2 632.5,112.3 634.5,112.4 636.5,112.4 638.5,112.5 640.5,112.6 642.5,112.7 644.5,112.7 646.5,112.8 648.5,112.9 650.5,113.0 652.5,113.0 654.5,113.1 656.5,113.2 658.5,113.3 660.5,113.4 662.5,113.4 664.5,113.5 666.5,113.6 668.5,113.7 670.5,113.8 672.5,113.8 674.5,113.9 676.5,114.0 678.5,114.1 680.6,114.2 682.6,114.3 684.6,114.3 686.6,114.4 688.6,114.5 690.6,114.6 692.6,114.7 694.6,114.8 696.6,114.9 698.6,115.0 700.6,115.1 702.6,115.1 704.6,115.2 706.6,115.3 708.6,115.4 710.6,115.5 712.6,115.6 714.6,115.7 716.6,115.8 718.6,115.9 720.6,116.0 722.6,116.1 724.6,116.2 726.6,116.3 728.6,116.4 730.6,116.5 732.6,116.6 734.6,116.7 736.6,116.8 738.6,116.9 740.6,117.0 742.6,117.1 744.6,117.2 746.6,117.3 748.6,117.4 750.6,117.5 752.6,117.6 754.6,117.7 756.6,117.9 758.6,118.0 760.6,118.1 762.6,118.2 764.6,118.3 766.6,118.4 768.6,118.5 770.6,118.6 772.6,118.8 774.6,118.9 776.6,119.0 778.6,119.1 780.6,119.2 782.6,119.3 784.6,119.5 786.6,119.6 788.6,119.7 790.6,119.8 792.6,119.9 794.6,120.1 796.6,120.2 798.6,120.3 800.6,120.4 802.6,120.6 804.6,120.7 806.6,120.8 808.6,120.9 810.6,121.1 812.6,121.2 814.6,121.3 816.6,121.5 818.6,121.6 820.6,121.7 822.6,121.9 824.6,122.0 826.6,122.1 828.6,122.3 830.6,122.4 832.6,122.5 834.6,122.7 836.6,122.8 838.6,123.0 840.6,123.1 842.6,123.2 844.6,123.4 846.6,123.5 848.6,123.7 850.6,123.8 852.6,124.0 854.6,124.1 856.6,124.3 858.6,124.4 860.6,124.6 862.6,124.7 864.6,124.9 866.6,125.0 868.6,125.2 870.6,125.3 872.6,125.5 874.6,125.6 876.6,125.8 878.6,125.9 880.6,126.1 882.5,126.3 884.5,126.4 886.5,126.6 888.5,126.7 890.5,126.9 892.5,127.1 894.5,127.2 896.5,127.4 898.5,127.6 900.5,127.7 902.5,127.9 904.5,128.1 906.5,128.2 908.5,128.4 910.5,128.6 912.5,128.7 914.5,128.9 916.5,129.1 918.5,129.3 920.5,129.4 922.5,129.6 924.5,129.8 926.5,130.0 928.5,130.2 930.5,130.3 932.5,130.5 934.5,130.7 936.5,130.9 938.5,131.1 940.5,131.2 942.4,131.4 944.4,131.6 946.4,131.8 948.4,132.0 950.4,132.2 952.4,132.4 954.4,132.6 956.4,132.8 958.4,133.0 960.4,133.2 962.4,133.4 964.4,133.5 966.4,133.7 968.4,133.9 970.4,134.1 972.4,134.3 974.4,134.5 976.4,134.8 978.4,135.0 980.4,135.2 982.3,135.4 984.3,135.6 986.3,135.8 988.3,136.0 990.3,136.2 992.3,136.4 994.3,136.6 996.3,136.8 998.3,137.1 1000.3,137.3 1002.3,137.5 1004.3,137.7 1006.3,137.9 1008.3,138.1 1010.3,138.4 1012.3,138.6 1014.3,138.8 1016.2,139.0 1018.2,139.3 1020.2,139.5 1022.2,139.7 1024.2,139.9 1026.2,140.2 1028.2,140.4 1030.2,140.6 1032.2,140.9 1034.2,141.1 1036.2,141.3 1038.2,141.6 1040.2,141.8 1042.2,142.0 1044.1,142.3 1046.1,142.5 1048.1,142.7 1050.1,143.0 1052.1,143.2 1054.1,143.5 1056.1,143.7 1058.1,143.9 1060.1,144.2 1062.1,144.4 1064.1,144.7 1066.1,144.9 1068.1,145.2 1070.0,145.4 1072.0,145.6 1074.0,145.9 1076.0,146.1 1078.0,146.4 1080.0,146.6 1082.0,146.9 1084.0,147.1 1086.0,147.4 1088.0,147.6 1090.0,147.9 1092.0,148.1 1094.0,148.4 1095.9,148.6 1097.9,148.9 1099.9,149.2 1101.9,149.4 1103.9,149.7 1105.9,149.9 1107.9,150.2 1109.9,150.4 1111.9,150.7 1113.9,150.9 1115.9,151.2 1117.9,151.5 1119.8,151.7 1121.8,152.0 1123.8,152.2 1125.8,152.5 1127.8,152.8 1129.8,153.0 1131.8,153.3 1133.8,153.5 1135.8,153.8 1137.8,154.1 1139.8,154.3 1141.8,154.6 1143.7,154.8 1145.7,155.1 1147.7,155.4 1149.7,155.6 1151.7,155.9 1153.7,156.1 1155.7,156.4 1157.7,156.7 1159.7,156.9 1161.7,157.2 1163.7,157.5 1165.7,157.7 1167.6,158.0 1169.6,158.2 1171.6,158.5 1173.6,158.8 1175.6,159.0 1177.6,159.3 1179.6,159.6 1181.6,159.8 1183.6,160.1 1185.6,160.3 1187.6,160.6 1189.6,160.9 1191.6,161.1 1193.5,161.4 1195.5,161.7 1197.5,161.9 1199.5,162.2 1201.5,162.4 1203.5,162.7 1205.5,163.0 1207.5,163.2 1209.5,163.5 1211.5,163.7 1213.5,164.0 1215.5,164.3 1217.5,164.5 1219.4,164.8 1221.4,165.0 1223.4,165.3 1225.4,165.6 1227.4,165.8 1229.4,166.1 1231.4,166.3 1233.4,166.6 1235.4,166.9 1237.4,167.1 1239.4,167.4 1241.4,167.6 1243.4,167.9 1245.4,168.1 1247.3,168.4 1249.3,168.6 1251.3,168.9 1253.3,169.1 1255.3,169.4 1257.3,169.7 1259.3,169.9 1261.3,170.2 1263.3,170.4 1265.3,170.7 1267.3,170.9 1269.3,171.2 1271.3,171.4 1273.3,171.6 1275.3,171.9 1277.3,172.1 1279.3,172.4 1281.2,172.6 1283.2,172.9 1285.2,173.1 1287.2,173.4 1289.2,173.6 1291.2,173.8 1293.2,174.1 1295.2,174.3 1297.2,174.5 1299.2,174.8 1301.2,175.0 1303.2,175.2 1305.2,175.5 1307.2,175.7 1309.2,175.9 1311.2,176.2 1313.2,176.4 1315.2,176.6 1317.2,176.8 1319.2,177.1 1321.1,177.3 1323.1,177.5 1325.1,177.7 1327.1,177.9 1329.1,178.2 1331.1,178.4 1333.1,178.6 1335.1,178.8 1337.1,179.0 1339.1,179.2 1341.1,179.4 1343.1,179.6 1345.1,179.8 1347.1,180.0 1349.1,180.2 1351.1,180.4 1353.1,180.6 1355.1,180.8 1357.1,181.0 1359.1,181.1 1361.1,181.3 1363.0,181.5 1365.0,181.7 1367.0,181.9 1369.0,182.0 1371.0,182.2 1373.0,182.4 1375.0,182.6 1377.0,182.7 1379.0,182.9 1381.0,183.0 1383.0,183.2 1385.0,183.4 1387.0,183.5 1389.0,183.7 1391.0,183.8 1393.0,184.0 1395.0,184.1 1397.0,184.2 1399.0,184.4 1401.0,184.5 1403.0,184.6 1404.9,184.8 1406.9,184.9 1408.9,185.0 1410.9,185.1 1412.9,185.3 1414.9,185.4 1416.9,185.5 1418.9,185.6 1420.9,185.7 1422.9,185.8 1424.9,185.9 1426.9,186.0 1428.9,186.1 1430.9,186.2 1432.9,186.3 1434.9,186.4 1436.9,186.4 1438.8,186.5 1440.8,186.6 1442.8,186.6 1444.8,186.7 1446.8,186.8 1448.8,186.8 1450.8,186.9 1452.8,186.9 1454.8,187.0 1456.8,187.0 1458.8,187.1 1460.8,187.1 1462.8,187.1 1464.8,187.2 1466.8,187.2 1468.7,187.2 1470.7,187.2 1472.7,187.2 1474.7,187.3 1476.7,187.3 1478.7,187.3 1480.7,187.3 1482.7,187.2 1484.7,187.2 1486.7,187.2 1488.7,187.2 1490.7,187.2 1492.6,187.2 1494.6,187.1 1496.6,187.1 1498.6,187.0 1500.6,187.0 1502.6,186.9 1504.6,186.9 1506.6,186.8 1508.6,186.8 1510.6,186.7 1512.5,186.6 1514.5,186.6 1516.5,186.5 1518.5,186.4 1520.5,186.3 1522.5,186.2 1524.5,186.1 1526.5,186.0 1528.5,185.9 1530.5,185.8 1532.4,185.6 1534.4,185.5 1536.4,185.4 1538.4,185.3 1540.4,185.1 1542.4,185.0 1544.4,184.8 1546.4,184.7 1548.3,184.5 1550.3,184.3 1552.3,184.2 1554.3,184.0 1556.3,183.8 1558.3,183.6 1560.3,183.4 1562.2,183.2 1564.2,183.0 1566.2,182.8 1568.2,182.6 1570.2,182.4 1572.2,182.2 1574.2,181.9 1576.1,181.7 1578.1,181.5 1580.1,181.2 1582.1,181.0 1584.1,180.7 1586.1,180.4 1588.1,180.2 1590.0,179.9 1592.0,179.6 1594.0,179.3 1596.0,179.0 1598.0,178.7 1599.9,178.4 1601.9,178.1 1603.9,177.8 1605.9,177.5 1607.9,177.1 1609.9,176.8 1611.8,176.4 1613.8,176.1 1615.8,175.7 1617.8,175.4 1619.8,175.0 1621.7,174.6 1623.7,174.2 1625.7,173.9 1627.7,173.5 1629.7,173.1 1631.6,172.7 1633.6,172.2 1635.6,171.8 1637.6,171.4 1639.6,171.0 1641.5,170.5 1643.5,170.1 1645.5,169.6 1647.5,169.2 1649.4,168.7 1651.4,168.2 1653.4,167.7 1655.4,167.3 1657.3,166.8" fill="none" stroke="#b3b3b3" stroke-width="5.00" stroke-linejoin="round" stroke-dasharray="4.4 4.6" stroke-linecap="butt"  stroke-dashoffset="-2.3"/>
<path d="M229.5,99.8L231.5,99.8 233.5,99.8 235.5,99.8 237.5,99.8 239.5,99.9 241.5,99.9 243.5,99.9 245.5,99.9 247.5,99.9 249.5,99.9 251.5,99.9 253.5,99.9 255.5,99.9 257.5,99.9 259.5,99.9 261.5,99.9 263.6,99.9 265.6,99.9 267.6,99.9 269.6,99.9 271.6,99.9 273.6,100.0 275.6,100.0 277.6,100.0 279.6,100.0 281.6,100.0 283.6,100.0 285.6,100.0 287.6,99.9 289.6,99.9 291.6,99.9 293.6,99.9 295.6,99.9 297.6,99.9 299.6,99.9 301.6,99.9 303.6,99.9 305.6,99.9 307.6,99.9 309.6,99.9 311.6,99.9 313.6,99.9 315.6,99.9 317.6,99.9 319.6,99.9 321.6,99.9 323.6,99.8 325.6,99.8 327.6,99.8 329.6,99.8 331.6,99.8 333.7,99.8 335.7,99.8 337.7,99.8 339.7,99.8 341.7,99.7 343.7,99.7 345.7,99.7 347.7,99.7 349.7,99.7 351.7,99.7 353.7,99.7 355.7,99.6 357.7,99.6 359.7,99.6 361.7,99.6 363.7,99.6 365.7,99.5 367.7,99.5 369.7,99.5 371.7,99.5 373.7,99.5 375.7,99.5 377.7,99.4 379.7,99.4 381.7,99.4 383.7,99.4 385.7,99.3 387.7,99.3 389.7,99.3 391.7,99.3 393.7,99.3 395.7,99.2 397.7,99.2 399.7,99.2 401.7,99.2 403.7,99.1 405.7,99.1 407.8,99.1 409.8,99.0 411.8,99.0 413.8,99.0 415.8,99.0 417.8,98.9 419.8,98.9 421.8,98.9 423.8,98.9 425.8,98.8 427.8,98.8 429.8,98.8 431.8,98.7 433.8,98.7 435.8,98.7 437.8,98.6 439.8,98.6 441.8,98.6 443.8,98.5 445.8,98.5 447.8,98.5 449.8,98.4 451.8,98.4 453.8,98.4 455.8,98.3 457.8,98.3 459.8,98.3 461.8,98.2 463.8,98.2 465.8,98.2 467.8,98.1 469.8,98.1 471.8,98.1 473.8,98.0 475.8,98.0 477.8,97.9 479.8,97.9 481.8,97.9 483.9,97.8 485.9,97.8 487.9,97.7 489.9,97.7 491.9,97.7 493.9,97.6 495.9,97.6 497.9,97.5 499.9,97.5 501.9,97.5 503.9,97.4 505.9,97.4 507.9,97.3 509.9,97.3 511.9,97.3 513.9,97.2 515.9,97.2 517.9,97.1 519.9,97.1 521.9,97.0 523.9,97.0 525.9,96.9 527.9,96.9 529.9,96.9 531.9,96.8 533.9,96.8 535.9,96.7 537.9,96.7 539.9,96.6 541.9,96.6 543.9,96.5 545.9,96.5 547.9,96.4 549.9,96.4 551.9,96.3 553.9,96.3 555.9,96.2 557.9,96.2 559.9,96.2 561.9,96.1 564.0,96.1 566.0,96.0 568.0,96.0 570.0,95.9 572.0,95.9 574.0,95.8 576.0,95.8 578.0,95.7 580.0,95.7 582.0,95.6 584.0,95.5 586.0,95.5 588.0,95.4 590.0,95.4 592.0,95.3 594.0,95.3 596.0,95.2 598.0,95.2 600.0,95.1 602.0,95.1 604.0,95.0 606.0,95.0 608.0,94.9 610.0,94.9 612.0,94.8 614.0,94.8 616.0,94.7 618.0,94.6 620.0,94.6 622.0,94.5 624.0,94.5 626.0,94.4 628.0,94.4 630.0,94.3 632.0,94.3 634.0,94.2 636.0,94.1 638.0,94.1 640.0,94.0 642.0,94.0 644.0,93.9 646.1,93.9 648.1,93.8 650.1,93.7 652.1,93.7 654.1,93.6 656.1,93.6 658.1,93.5 660.1,93.4 662.1,93.4 664.1,93.3 666.1,93.3 668.1,93.2 670.1,93.2 672.1,93.1 674.1,93.0 676.1,93.0 678.1,92.9 680.1,92.9 682.1,92.8 684.1,92.7 686.1,92.7 688.1,92.6 690.1,92.6 692.1,92.5 694.1,92.4 696.1,92.4 698.1,92.3 700.1,92.3 702.1,92.2 704.1,92.1 706.1,92.1 708.1,92.0 710.1,91.9 712.1,91.9 714.1,91.8 716.1,91.8 718.1,91.7 720.1,91.6 722.1,91.6 724.1,91.5 726.1,91.5 728.1,91.4 730.2,91.3 732.2,91.3 734.2,91.2 736.2,91.1 738.2,91.1 740.2,91.0 742.2,91.0 744.2,90.9 746.2,90.8 748.2,90.8 750.2,90.7 752.2,90.6 754.2,90.6 756.2,90.5 758.2,90.4 760.2,90.4 762.2,90.3 764.2,90.3 766.2,90.2 768.2,90.1 770.2,90.1 772.2,90.0 774.2,89.9 776.2,89.9 778.2,89.8 780.2,89.7 782.2,89.7 784.2,89.6 786.2,89.5 788.2,89.5 790.2,89.4 792.2,89.4 794.2,89.3 796.2,89.2 798.2,89.2 800.2,89.1 802.2,89.0 804.2,89.0 806.2,88.9 808.2,88.8 810.2,88.8 812.2,88.7 814.2,88.6 816.3,88.6 818.3,88.5 820.3,88.5 822.3,88.4 824.3,88.3 826.3,88.3 828.3,88.2 830.3,88.1 832.3,88.1 834.3,88.0 836.3,87.9 838.3,87.9 840.3,87.8 842.3,87.7 844.3,87.7 846.3,87.6 848.3,87.5 850.3,87.5 852.3,87.4 854.3,87.3 856.3,87.3 858.3,87.2 860.3,87.2 862.3,87.1 864.3,87.0 866.3,87.0 868.3,86.9 870.3,86.8 872.3,86.8 874.3,86.7 876.3,86.6 878.3,86.6 880.3,86.5 882.3,86.4 884.3,86.4 886.3,86.3 888.3,86.3 890.3,86.2 892.3,86.1 894.3,86.1 896.3,86.0 898.3,85.9 900.3,85.9 902.4,85.8 904.4,85.7 906.4,85.7 908.4,85.6 910.4,85.6 912.4,85.5 914.4,85.4 916.4,85.4 918.4,85.3 920.4,85.2 922.4,85.2 924.4,85.1 926.4,85.0 928.4,85.0 930.4,84.9 932.4,84.9 934.4,84.8 936.4,84.7 938.4,84.7 940.4,84.6 942.4,84.5 944.4,84.5 946.4,84.4 948.4,84.4 950.4,84.3 952.4,84.2 954.4,84.2 956.4,84.1 958.4,84.0 960.4,84.0 962.4,83.9 964.4,83.9 966.4,83.8 968.4,83.7 970.4,83.7 972.4,83.6 974.4,83.6 976.4,83.5 978.4,83.4 980.4,83.4 982.4,83.3 984.4,83.3 986.4,83.2 988.5,83.1 990.5,83.1 992.5,83.0 994.5,83.0 996.5,82.9 998.5,82.8 1000.5,82.8 1002.5,82.7 1004.5,82.7 1006.5,82.6 1008.5,82.5 1010.5,82.5 1012.5,82.4 1014.5,82.4 1016.5,82.3 1018.5,82.3 1020.5,82.2 1022.5,82.1 1024.5,82.1 1026.5,82.0 1028.5,82.0 1030.5,81.9 1032.5,81.9 1034.5,81.8 1036.5,81.7 1038.5,81.7 1040.5,81.6 1042.5,81.6 1044.5,81.5 1046.5,81.5 1048.5,81.4 1050.5,81.4 1052.5,81.3 1054.5,81.2 1056.5,81.2 1058.5,81.1 1060.5,81.1 1062.5,81.0 1064.5,81.0 1066.5,80.9 1068.5,80.9 1070.5,80.8 1072.5,80.8 1074.5,80.7 1076.6,80.7 1078.6,80.6 1080.6,80.6 1082.6,80.5 1084.6,80.5 1086.6,80.4 1088.6,80.4 1090.6,80.3 1092.6,80.2 1094.6,80.2 1096.6,80.1 1098.6,80.1 1100.6,80.0 1102.6,80.0 1104.6,79.9 1106.6,79.9 1108.6,79.9 1110.6,79.8 1112.6,79.8 1114.6,79.7 1116.6,79.7 1118.6,79.6 1120.6,79.6 1122.6,79.5 1124.6,79.5 1126.6,79.4 1128.6,79.4 1130.6,79.3 1132.6,79.3 1134.6,79.2 1136.6,79.2 1138.6,79.1 1140.6,79.1 1142.6,79.1 1144.6,79.0 1146.6,79.0 1148.6,78.9 1150.6,78.9 1152.6,78.8 1154.6,78.8 1156.6,78.8 1158.6,78.7 1160.7,78.7 1162.7,78.6 1164.7,78.6 1166.7,78.5 1168.7,78.5 1170.7,78.5 1172.7,78.4 1174.7,78.4 1176.7,78.3 1178.7,78.3 1180.7,78.3 1182.7,78.2 1184.7,78.2 1186.7,78.1 1188.7,78.1 1190.7,78.1 1192.7,78.0 1194.7,78.0 1196.7,78.0 1198.7,77.9 1200.7,77.9 1202.7,77.8 1204.7,77.8 1206.7,77.8 1208.7,77.7 1210.7,77.7 1212.7,77.7 1214.7,77.6 1216.7,77.6 1218.7,77.6 1220.7,77.5 1222.7,77.5 1224.7,77.5 1226.7,77.4 1228.7,77.4 1230.7,77.4 1232.7,77.3 1234.7,77.3 1236.7,77.3 1238.7,77.2 1240.7,77.2 1242.7,77.2 1244.8,77.2 1246.8,77.1 1248.8,77.1 1250.8,77.1 1252.8,77.0 1254.8,77.0 1256.8,77.0 1258.8,77.0 1260.8,76.9 1262.8,76.9 1264.8,76.9 1266.8,76.9 1268.8,76.8 1270.8,76.8 1272.8,76.8 1274.8,76.8 1276.8,76.7 1278.8,76.7 1280.8,76.7 1282.8,76.7 1284.8,76.7 1286.8,76.6 1288.8,76.6 1290.8,76.6 1292.8,76.6 1294.8,76.5 1296.8,76.5 1298.8,76.5 1300.8,76.5 1302.8,76.5 1304.8,76.5 1306.8,76.4 1308.8,76.4 1310.8,76.4 1312.8,76.4 1314.8,76.4 1316.8,76.4 1318.8,76.3 1320.8,76.3 1322.8,76.3 1324.9,76.3 1326.9,76.3 1328.9,76.3 1330.9,76.3 1332.9,76.2 1334.9,76.2 1336.9,76.2 1338.9,76.2 1340.9,76.2 1342.9,76.2 1344.9,76.2 1346.9,76.2 1348.9,76.2 1350.9,76.2 1352.9,76.1 1354.9,76.1 1356.9,76.1 1358.9,76.1 1360.9,76.1 1362.9,76.1 1364.9,76.1 1366.9,76.1 1368.9,76.1 1370.9,76.1 1372.9,76.1 1374.9,76.1 1376.9,76.1 1378.9,76.1 1380.9,76.1 1382.9,76.1 1384.9,76.1 1386.9,76.1 1388.9,76.1 1390.9,76.1 1392.9,76.1 1394.9,76.1 1396.9,76.1 1398.9,76.1 1400.9,76.1 1402.9,76.1 1405.0,76.1 1407.0,76.1 1409.0,76.1 1411.0,76.1 1413.0,76.1 1415.0,76.1 1417.0,76.1 1419.0,76.1 1421.0,76.1 1423.0,76.2 1425.0,76.2 1427.0,76.2 1429.0,76.2 1431.0,76.2 1433.0,76.2 1435.0,76.2 1437.0,76.2 1439.0,76.2 1441.0,76.3 1443.0,76.3 1445.0,76.3 1447.0,76.3 1449.0,76.3 1451.0,76.3 1453.0,76.3 1455.0,76.4 1457.0,76.4 1459.0,76.4 1461.0,76.4 1463.0,76.4 1465.0,76.4 1467.0,76.5 1469.0,76.5 1471.0,76.5 1473.0,76.5 1475.0,76.6 1477.0,76.6 1479.0,76.6 1481.1,76.6 1483.1,76.6 1485.1,76.7 1487.1,76.7 1489.1,76.7 1491.1,76.7 1493.1,76.8 1495.1,76.8 1497.1,76.8 1499.1,76.9 1501.1,76.9 1503.1,76.9 1505.1,76.9 1507.1,77.0 1509.1,77.0 1511.1,77.0 1513.1,77.1 1515.1,77.1 1517.1,77.1 1519.1,77.2 1521.1,77.2 1523.1,77.2 1525.1,77.3 1527.1,77.3 1529.1,77.4 1531.1,77.4 1533.1,77.4 1535.1,77.5 1537.1,77.5 1539.1,77.5 1541.1,77.6 1543.1,77.6 1545.1,77.7 1547.1,77.7 1549.1,77.8 1551.1,77.8 1553.2,77.8 1555.2,77.9 1557.2,77.9 1559.2,78.0 1561.2,78.0 1563.2,78.1 1565.2,78.1 1567.2,78.2 1569.2,78.2 1571.2,78.3 1573.2,78.3 1575.2,78.4 1577.2,78.4 1579.2,78.5 1581.2,78.5 1583.2,78.6 1585.2,78.6 1587.2,78.7 1589.2,78.8 1591.2,78.8 1593.2,78.9 1595.2,78.9 1597.2,79.0 1599.2,79.0 1601.2,79.1 1603.2,79.2 1605.2,79.2 1607.2,79.3 1609.2,79.3 1611.2,79.4 1613.2,79.5 1615.2,79.5 1617.2,79.6 1619.2,79.7 1621.2,79.7 1623.3,79.8 1625.3,79.9 1627.3,79.9 1629.3,80.0 1631.3,80.1 1633.3,80.1 1635.3,80.2 1637.3,80.3 1639.3,80.4 1641.3,80.4 1643.3,80.5 1645.3,80.6 1647.3,80.6 1649.3,80.7 1651.3,80.8 1653.3,80.9 1655.3,81.0 1657.3,81.0" fill="none" stroke="#b3b3b3" stroke-width="5.00" stroke-linejoin="round" stroke-dasharray="16.2 5.45 0 7.2 0 7.25" stroke-linecap="round"  stroke-dashoffset="-2.3"/>
<path d="M229.5,99.3L231.5,99.3 233.5,99.3 235.5,99.4 237.5,99.4 239.5,99.4 241.5,99.4 243.5,99.5 245.5,99.5 247.5,99.5 249.5,99.6 251.6,99.6 253.6,99.6 255.6,99.6 257.6,99.7 259.6,99.7 261.6,99.7 263.6,99.7 265.6,99.8 267.6,99.8 269.6,99.8 271.6,99.8 273.6,99.8 275.6,99.9 277.6,99.9 279.6,99.9 281.6,99.9 283.6,99.9 285.6,99.9 287.6,100.0 289.6,100.0 291.7,100.0 293.7,100.0 295.7,100.0 297.7,100.0 299.7,100.0 301.7,100.0 303.7,100.0 305.7,100.1 307.7,100.1 309.7,100.1 311.7,100.1 313.7,100.1 315.7,100.1 317.7,100.1 319.7,100.1 321.7,100.1 323.7,100.1 325.7,100.1 327.7,100.1 329.7,100.1 331.7,100.1 333.7,100.1 335.8,100.1 337.8,100.1 339.8,100.1 341.8,100.1 343.8,100.1 345.8,100.1 347.8,100.1 349.8,100.1 351.8,100.1 353.8,100.1 355.8,100.1 357.8,100.1 359.8,100.1 361.8,100.1 363.8,100.1 365.8,100.0 367.8,100.0 369.8,100.0 371.8,100.0 373.8,100.0 375.8,100.0 377.8,100.0 379.8,100.0 381.8,99.9 383.8,99.9 385.9,99.9 387.9,99.9 389.9,99.9 391.9,99.9 393.9,99.9 395.9,99.8 397.9,99.8 399.9,99.8 401.9,99.8 403.9,99.8 405.9,99.7 407.9,99.7 409.9,99.7 411.9,99.7 413.9,99.7 415.9,99.6 417.9,99.6 419.9,99.6 421.9,99.6 423.9,99.5 425.9,99.5 427.9,99.5 429.9,99.5 431.9,99.4 433.9,99.4 435.9,99.4 437.9,99.3 439.9,99.3 442.0,99.3 444.0,99.3 446.0,99.2 448.0,99.2 450.0,99.2 452.0,99.1 454.0,99.1 456.0,99.1 458.0,99.0 460.0,99.0 462.0,99.0 464.0,98.9 466.0,98.9 468.0,98.8 470.0,98.8 472.0,98.8 474.0,98.7 476.0,98.7 478.0,98.7 480.0,98.6 482.0,98.6 484.0,98.5 486.0,98.5 488.0,98.5 490.0,98.4 492.0,98.4 494.0,98.3 496.0,98.3 498.0,98.2 500.0,98.2 502.0,98.2 504.0,98.1 506.1,98.1 508.1,98.0 510.1,98.0 512.1,97.9 514.1,97.9 516.1,97.8 518.1,97.8 520.1,97.7 522.1,97.7 524.1,97.6 526.1,97.6 528.1,97.5 530.1,97.5 532.1,97.4 534.1,97.4 536.1,97.3 538.1,97.3 540.1,97.2 542.1,97.2 544.1,97.1 546.1,97.1 548.1,97.0 550.1,97.0 552.1,96.9 554.1,96.9 556.1,96.8 558.1,96.7 560.1,96.7 562.1,96.6 564.1,96.6 566.1,96.5 568.1,96.5 570.1,96.4 572.1,96.3 574.1,96.3 576.1,96.2 578.1,96.2 580.1,96.1 582.2,96.0 584.2,96.0 586.2,95.9 588.2,95.8 590.2,95.8 592.2,95.7 594.2,95.7 596.2,95.6 598.2,95.5 600.2,95.5 602.2,95.4 604.2,95.3 606.2,95.3 608.2,95.2 610.2,95.1 612.2,95.1 614.2,95.0 616.2,94.9 618.2,94.9 620.2,94.8 622.2,94.7 624.2,94.7 626.2,94.6 628.2,94.5 630.2,94.5 632.2,94.4 634.2,94.3 636.2,94.2 638.2,94.2 640.2,94.1 642.2,94.0 644.2,94.0 646.2,93.9 648.2,93.8 650.2,93.7 652.2,93.7 654.2,93.6 656.2,93.5 658.2,93.4 660.2,93.4 662.2,93.3 664.2,93.2 666.2,93.1 668.2,93.1 670.2,93.0 672.2,92.9 674.3,92.8 676.3,92.8 678.3,92.7 680.3,92.6 682.3,92.5 684.3,92.4 686.3,92.4 688.3,92.3 690.3,92.2 692.3,92.1 694.3,92.1 696.3,92.0 698.3,91.9 700.3,91.8 702.3,91.7 704.3,91.6 706.3,91.6 708.3,91.5 710.3,91.4 712.3,91.3 714.3,91.2 716.3,91.2 718.3,91.1 720.3,91.0 722.3,90.9 724.3,90.8 726.3,90.7 728.3,90.7 730.3,90.6 732.3,90.5 734.3,90.4 736.3,90.3 738.3,90.2 740.3,90.1 742.3,90.1 744.3,90.0 746.3,89.9 748.3,89.8 750.3,89.7 752.3,89.6 754.3,89.5 756.3,89.4 758.3,89.4 760.3,89.3 762.3,89.2 764.3,89.1 766.3,89.0 768.3,88.9 770.3,88.8 772.3,88.7 774.3,88.7 776.3,88.6 778.3,88.5 780.3,88.4 782.3,88.3 784.3,88.2 786.3,88.1 788.3,88.0 790.3,87.9 792.3,87.8 794.4,87.7 796.4,87.7 798.4,87.6 800.4,87.5 802.4,87.4 804.4,87.3 806.4,87.2 808.4,87.1 810.4,87.0 812.4,86.9 814.4,86.8 816.4,86.7 818.4,86.6 820.4,86.5 822.4,86.4 824.4,86.4 826.4,86.3 828.4,86.2 830.4,86.1 832.4,86.0 834.4,85.9 836.4,85.8 838.4,85.7 840.4,85.6 842.4,85.5 844.4,85.4 846.4,85.3 848.4,85.2 850.4,85.1 852.4,85.0 854.4,84.9 856.4,84.8 858.4,84.7 860.4,84.6 862.4,84.5 864.4,84.4 866.4,84.3 868.4,84.2 870.4,84.1 872.4,84.0 874.4,83.9 876.4,83.9 878.4,83.8 880.4,83.7 882.4,83.6 884.4,83.5 886.4,83.4 888.4,83.3 890.4,83.2 892.4,83.1 894.4,83.0 896.4,82.9 898.4,82.8 900.4,82.7 902.4,82.6 904.4,82.5 906.4,82.4 908.4,82.3 910.4,82.2 912.4,82.1 914.4,82.0 916.4,81.9 918.4,81.8 920.4,81.7 922.4,81.6 924.4,81.5 926.4,81.4 928.4,81.3 930.4,81.2 932.4,81.1 934.4,81.0 936.4,80.9 938.4,80.8 940.4,80.7 942.4,80.6 944.4,80.5 946.4,80.4 948.4,80.3 950.5,80.2 952.5,80.1 954.5,80.0 956.5,79.9 958.5,79.8 960.5,79.7 962.5,79.6 964.5,79.5 966.5,79.4 968.5,79.3 970.5,79.2 972.5,79.1 974.5,79.0 976.5,78.9 978.5,78.8 980.5,78.6 982.5,78.5 984.5,78.4 986.5,78.3 988.5,78.2 990.5,78.1 992.5,78.0 994.5,77.9 996.5,77.8 998.5,77.7 1000.5,77.6 1002.5,77.5 1004.5,77.4 1006.5,77.3 1008.5,77.2 1010.5,77.1 1012.5,77.0 1014.5,76.9 1016.5,76.8 1018.5,76.7 1020.5,76.6 1022.5,76.5 1024.5,76.4 1026.5,76.3 1028.5,76.2 1030.5,76.1 1032.5,76.0 1034.5,75.9 1036.5,75.8 1038.5,75.7 1040.5,75.6 1042.5,75.5 1044.5,75.4 1046.5,75.3 1048.5,75.2 1050.5,75.1 1052.5,75.0 1054.5,74.9 1056.5,74.8 1058.5,74.7 1060.5,74.6 1062.5,74.5 1064.5,74.4 1066.5,74.3 1068.5,74.2 1070.5,74.1 1072.5,74.0 1074.5,73.9 1076.5,73.8 1078.5,73.7 1080.5,73.6 1082.5,73.5 1084.5,73.4 1086.5,73.3 1088.5,73.2 1090.5,73.1 1092.5,73.0 1094.5,72.9 1096.5,72.8 1098.5,72.7 1100.5,72.6 1102.5,72.5 1104.5,72.4 1106.5,72.3 1108.5,72.2 1110.5,72.1 1112.5,72.0 1114.5,71.9 1116.5,71.8 1118.5,71.7 1120.5,71.6 1122.6,71.5 1124.6,71.4 1126.6,71.3 1128.6,71.2 1130.6,71.1 1132.6,71.0 1134.6,70.9 1136.6,70.8 1138.6,70.7 1140.6,70.6 1142.6,70.5 1144.6,70.4 1146.6,70.3 1148.6,70.3 1150.6,70.2 1152.6,70.1 1154.6,70.0 1156.6,69.9 1158.6,69.8 1160.6,69.7 1162.6,69.6 1164.6,69.5 1166.6,69.4 1168.6,69.3 1170.6,69.2 1172.6,69.1 1174.6,69.0 1176.6,68.9 1178.6,68.8 1180.6,68.7 1182.6,68.7 1184.6,68.6 1186.6,68.5 1188.6,68.4 1190.6,68.3 1192.6,68.2 1194.6,68.1 1196.6,68.0 1198.6,67.9 1200.6,67.8 1202.6,67.7 1204.6,67.7 1206.6,67.6 1208.6,67.5 1210.6,67.4 1212.6,67.3 1214.6,67.2 1216.6,67.1 1218.6,67.0 1220.6,66.9 1222.6,66.9 1224.6,66.8 1226.6,66.7 1228.6,66.6 1230.6,66.5 1232.6,66.4 1234.6,66.3 1236.6,66.3 1238.6,66.2 1240.6,66.1 1242.6,66.0 1244.6,65.9 1246.6,65.8 1248.6,65.8 1250.6,65.7 1252.6,65.6 1254.6,65.5 1256.6,65.4 1258.6,65.4 1260.7,65.3 1262.7,65.2 1264.7,65.1 1266.7,65.0 1268.7,65.0 1270.7,64.9 1272.7,64.8 1274.7,64.7 1276.7,64.6 1278.7,64.6 1280.7,64.5 1282.7,64.4 1284.7,64.3 1286.7,64.3 1288.7,64.2 1290.7,64.1 1292.7,64.0 1294.7,64.0 1296.7,63.9 1298.7,63.8 1300.7,63.7 1302.7,63.7 1304.7,63.6 1306.7,63.5 1308.7,63.4 1310.7,63.4 1312.7,63.3 1314.7,63.2 1316.7,63.2 1318.7,63.1 1320.7,63.0 1322.7,63.0 1324.7,62.9 1326.7,62.8 1328.7,62.8 1330.7,62.7 1332.7,62.6 1334.7,62.6 1336.7,62.5 1338.7,62.4 1340.7,62.4 1342.7,62.3 1344.7,62.2 1346.7,62.2 1348.7,62.1 1350.7,62.1 1352.7,62.0 1354.7,61.9 1356.7,61.9 1358.7,61.8 1360.8,61.8 1362.8,61.7 1364.8,61.6 1366.8,61.6 1368.8,61.5 1370.8,61.5 1372.8,61.4 1374.8,61.4 1376.8,61.3 1378.8,61.2 1380.8,61.2 1382.8,61.1 1384.8,61.1 1386.8,61.0 1388.8,61.0 1390.8,60.9 1392.8,60.9 1394.8,60.8 1396.8,60.8 1398.8,60.7 1400.8,60.7 1402.8,60.6 1404.8,60.6 1406.8,60.6 1408.8,60.5 1410.8,60.5 1412.8,60.4 1414.8,60.4 1416.8,60.3 1418.8,60.3 1420.8,60.2 1422.8,60.2 1424.8,60.2 1426.8,60.1 1428.8,60.1 1430.8,60.0 1432.8,60.0 1434.8,60.0 1436.9,59.9 1438.9,59.9 1440.9,59.9 1442.9,59.8 1444.9,59.8 1446.9,59.8 1448.9,59.7 1450.9,59.7 1452.9,59.7 1454.9,59.6 1456.9,59.6 1458.9,59.6 1460.9,59.5 1462.9,59.5 1464.9,59.5 1466.9,59.5 1468.9,59.4 1470.9,59.4 1472.9,59.4 1474.9,59.3 1476.9,59.3 1478.9,59.3 1480.9,59.3 1482.9,59.3 1484.9,59.2 1486.9,59.2 1488.9,59.2 1490.9,59.2 1492.9,59.2 1494.9,59.1 1496.9,59.1 1499.0,59.1 1501.0,59.1 1503.0,59.1 1505.0,59.1 1507.0,59.1 1509.0,59.0 1511.0,59.0 1513.0,59.0 1515.0,59.0 1517.0,59.0 1519.0,59.0 1521.0,59.0 1523.0,59.0 1525.0,59.0 1527.0,59.0 1529.0,59.0 1531.0,59.0 1533.0,59.0 1535.0,59.0 1537.0,58.9 1539.0,58.9 1541.0,58.9 1543.0,58.9 1545.0,59.0 1547.0,59.0 1549.0,59.0 1551.1,59.0 1553.1,59.0 1555.1,59.0 1557.1,59.0 1559.1,59.0 1561.1,59.0 1563.1,59.0 1565.1,59.0 1567.1,59.0 1569.1,59.0 1571.1,59.0 1573.1,59.1 1575.1,59.1 1577.1,59.1 1579.1,59.1 1581.1,59.1 1583.1,59.1 1585.1,59.2 1587.1,59.2 1589.1,59.2 1591.1,59.2 1593.1,59.2 1595.1,59.3 1597.2,59.3 1599.2,59.3 1601.2,59.3 1603.2,59.4 1605.2,59.4 1607.2,59.4 1609.2,59.4 1611.2,59.5 1613.2,59.5 1615.2,59.5 1617.2,59.6 1619.2,59.6 1621.2,59.6 1623.2,59.7 1625.2,59.7 1627.2,59.8 1629.2,59.8 1631.2,59.8 1633.2,59.9 1635.2,59.9 1637.2,60.0 1639.3,60.0 1641.3,60.0 1643.3,60.1 1645.3,60.1 1647.3,60.2 1649.3,60.2 1651.3,60.3 1653.3,60.3 1655.3,60.4 1657.3,60.4" fill="none" stroke="#b3b3b3" stroke-width="5.00" stroke-linejoin="round" stroke-dasharray="18.2 17.8" stroke-linecap="butt"  stroke-dashoffset="-2.3"/>
</g>
<line x1="231.8" y1="394.0" x2="231.8" y2="378.0" stroke="#000" stroke-width="1.5"/>
<line x1="231.8" y1="11.6" x2="231.8" y2="27.6" stroke="#000" stroke-width="1.5"/>
<line x1="587.6" y1="394.0" x2="587.6" y2="378.0" stroke="#000" stroke-width="1.5"/>
<line x1="587.6" y1="11.6" x2="587.6" y2="27.6" stroke="#000" stroke-width="1.5"/>
<line x1="943.4" y1="394.0" x2="943.4" y2="378.0" stroke="#000" stroke-width="1.5"/>
<line x1="943.4" y1="11.6" x2="943.4" y2="27.6" stroke="#000" stroke-width="1.5"/>
<line x1="1299.2" y1="394.0" x2="1299.2" y2="378.0" stroke="#000" stroke-width="1.5"/>
<line x1="1299.2" y1="11.6" x2="1299.2" y2="27.6" stroke="#000" stroke-width="1.5"/>
<line x1="1655.0" y1="394.0" x2="1655.0" y2="378.0" stroke="#000" stroke-width="1.5"/>
<line x1="1655.0" y1="11.6" x2="1655.0" y2="27.6" stroke="#000" stroke-width="1.5"/>
<line x1="231.8" y1="11.6" x2="247.8" y2="11.6" stroke="#000" stroke-width="1.5"/>
<line x1="1655.0" y1="11.6" x2="1639.0" y2="11.6" stroke="#000" stroke-width="1.5"/>
<line x1="231.8" y1="88.1" x2="247.8" y2="88.1" stroke="#000" stroke-width="1.5"/>
<line x1="1655.0" y1="88.1" x2="1639.0" y2="88.1" stroke="#000" stroke-width="1.5"/>
<line x1="231.8" y1="164.6" x2="247.8" y2="164.6" stroke="#000" stroke-width="1.5"/>
<line x1="1655.0" y1="164.6" x2="1639.0" y2="164.6" stroke="#000" stroke-width="1.5"/>
<line x1="231.8" y1="241.0" x2="247.8" y2="241.0" stroke="#000" stroke-width="1.5"/>
<line x1="1655.0" y1="241.0" x2="1639.0" y2="241.0" stroke="#000" stroke-width="1.5"/>
<line x1="231.8" y1="317.5" x2="247.8" y2="317.5" stroke="#000" stroke-width="1.5"/>
<line x1="1655.0" y1="317.5" x2="1639.0" y2="317.5" stroke="#000" stroke-width="1.5"/>
<line x1="231.8" y1="394.0" x2="247.8" y2="394.0" stroke="#000" stroke-width="1.5"/>
<line x1="1655.0" y1="394.0" x2="1639.0" y2="394.0" stroke="#000" stroke-width="1.5"/>
<rect x="231.8" y="11.6" width="1423.2" height="382.4" fill="none" stroke="#000" stroke-width="1.8"/>
<line x1="587.6" y1="10.8" x2="587.6" y2="394.0" stroke="#ff0000" stroke-width="2.8"/>
<text x="218.9" y="24.2" font-size="35.5" text-anchor="end" >0</text>
<text x="218.9" y="100.7" font-size="35.5" text-anchor="end" >-5</text>
<text x="218.9" y="177.2" font-size="35.5" text-anchor="end" >-10</text>
<text x="218.9" y="253.6" font-size="35.5" text-anchor="end" >-15</text>
<text x="218.9" y="330.1" font-size="35.5" text-anchor="end" >-20</text>
<text x="218.9" y="406.6" font-size="35.5" text-anchor="end" >-25</text>
<text x="231.8" y="439.5" font-size="35.5" text-anchor="middle" >0.5</text>
<text x="587.6" y="439.5" font-size="35.5" text-anchor="middle" >1</text>
<text x="943.4" y="439.5" font-size="35.5" text-anchor="middle" >1.5</text>
<text x="1299.2" y="439.5" font-size="35.5" text-anchor="middle" >2</text>
<text x="1655.0" y="439.5" font-size="35.5" text-anchor="middle" >2.5</text>
<text x="942.0" y="486.0" font-size="38.8" text-anchor="middle" >Frequency [GHz]</text>
<text x="911.4" y="539.0" font-size="46.0" text-anchor="middle" >(a)</text>
<text transform="translate(154.5,204) rotate(-90)" font-size="38.8" text-anchor="middle"><tspan font-style="italic">S</tspan>-parameters [dB]</text>
<rect x="1481.8" y="160.3" width="153.2" height="215.3" fill="#fff" stroke="#000" stroke-width="1.8"/>
<line x1="1489.3" y1="190.2" x2="1565.3" y2="190.2" stroke="#000" stroke-width="5.2" stroke-dasharray="4.4 4.6" stroke-linecap="butt"/>
<text x="1570.6" y="194.8" font-size="31.5">|</text>
<text transform="translate(1577.0,195.8) scale(1.16,1)" font-size="34" font-style="italic">S</text>
<text x="1594.9" y="210.8" font-size="26">11</text>
<text x="1620.6" y="194.8" font-size="31.5">|</text>
<line x1="1489.3" y1="242.2" x2="1565.3" y2="242.2" stroke="#000" stroke-width="5.2" stroke-dasharray="18.2 17.8" stroke-linecap="butt"/>
<text x="1570.6" y="246.8" font-size="31.5">|</text>
<text transform="translate(1577.0,247.8) scale(1.16,1)" font-size="34" font-style="italic">S</text>
<text x="1594.9" y="262.8" font-size="26">21</text>
<text x="1620.6" y="246.8" font-size="31.5">|</text>
<line x1="1489.3" y1="294.2" x2="1565.3" y2="294.2" stroke="#000" stroke-width="5.2" stroke-dasharray="18.2 17.8" stroke-linecap="butt"/>
<text x="1570.6" y="298.8" font-size="31.5">|</text>
<text transform="translate(1577.0,299.8) scale(1.16,1)" font-size="34" font-style="italic">S</text>
<text x="1594.9" y="314.8" font-size="26">31</text>
<text x="1620.6" y="298.8" font-size="31.5">|</text>
<line x1="1489.3" y1="346.1" x2="1565.3" y2="346.1" stroke="#000" stroke-width="5.2" stroke-linecap="butt"/>
<text x="1570.6" y="350.7" font-size="31.5">|</text>
<text transform="translate(1577.0,351.7) scale(1.16,1)" font-size="34" font-style="italic">S</text>
<text x="1594.9" y="366.7" font-size="26">41</text>
<text x="1620.6" y="350.7" font-size="31.5">|</text>
<defs><clipPath id="cb"><rect x="101.0" y="587.0" width="721.0" height="382.7"/></clipPath></defs>
<line x1="173.1" y1="587.0" x2="173.1" y2="969.7" stroke="rgb(38,38,38)" stroke-opacity="0.15" stroke-width="1.3"/>
<line x1="317.3" y1="587.0" x2="317.3" y2="969.7" stroke="rgb(38,38,38)" stroke-opacity="0.15" stroke-width="1.3"/>
<line x1="461.5" y1="587.0" x2="461.5" y2="969.7" stroke="rgb(38,38,38)" stroke-opacity="0.15" stroke-width="1.3"/>
<line x1="605.7" y1="587.0" x2="605.7" y2="969.7" stroke="rgb(38,38,38)" stroke-opacity="0.15" stroke-width="1.3"/>
<line x1="749.9" y1="587.0" x2="749.9" y2="969.7" stroke="rgb(38,38,38)" stroke-opacity="0.15" stroke-width="1.3"/>
<line x1="101.0" y1="944.2" x2="822.0" y2="944.2" stroke="rgb(38,38,38)" stroke-opacity="0.15" stroke-width="1.3"/>
<line x1="101.0" y1="816.6" x2="822.0" y2="816.6" stroke="rgb(38,38,38)" stroke-opacity="0.15" stroke-width="1.3"/>
<line x1="101.0" y1="689.1" x2="822.0" y2="689.1" stroke="rgb(38,38,38)" stroke-opacity="0.15" stroke-width="1.3"/>
<polyline points="101.0,627.4 172.8,885.5 244.8,897.4 317.2,943.9 389.1,941.9 461.2,945.0 533.3,944.9 605.4,944.8 677.5,944.7 749.7,944.6 821.9,944.6" fill="none" stroke="#000" stroke-width="4.6" stroke-linejoin="round"/>
<circle cx="101.0" cy="627.4" r="7.5" fill="none" stroke="#000" stroke-width="4.8"/>
<circle cx="172.8" cy="885.5" r="7.5" fill="none" stroke="#000" stroke-width="4.8"/>
<circle cx="244.8" cy="897.4" r="7.5" fill="none" stroke="#000" stroke-width="4.8"/>
<circle cx="317.2" cy="943.9" r="7.5" fill="none" stroke="#000" stroke-width="4.8"/>
<circle cx="389.1" cy="941.9" r="7.5" fill="none" stroke="#000" stroke-width="4.8"/>
<circle cx="461.2" cy="945.0" r="7.5" fill="none" stroke="#000" stroke-width="4.8"/>
<circle cx="533.3" cy="944.9" r="7.5" fill="none" stroke="#000" stroke-width="4.8"/>
<circle cx="605.4" cy="944.8" r="7.5" fill="none" stroke="#000" stroke-width="4.8"/>
<circle cx="677.5" cy="944.7" r="7.5" fill="none" stroke="#000" stroke-width="4.8"/>
<circle cx="749.7" cy="944.6" r="7.5" fill="none" stroke="#000" stroke-width="4.8"/>
<circle cx="821.9" cy="944.6" r="7.5" fill="none" stroke="#000" stroke-width="4.8"/>
<line x1="101.0" y1="944.5" x2="822.0" y2="944.5" stroke="#ff0000" stroke-width="1.8"/>
<line x1="173.1" y1="969.7" x2="173.1" y2="961.7" stroke="#000" stroke-width="1.5"/>
<line x1="173.1" y1="587.0" x2="173.1" y2="595.0" stroke="#000" stroke-width="1.5"/>
<line x1="317.3" y1="969.7" x2="317.3" y2="961.7" stroke="#000" stroke-width="1.5"/>
<line x1="317.3" y1="587.0" x2="317.3" y2="595.0" stroke="#000" stroke-width="1.5"/>
<line x1="461.5" y1="969.7" x2="461.5" y2="961.7" stroke="#000" stroke-width="1.5"/>
<line x1="461.5" y1="587.0" x2="461.5" y2="595.0" stroke="#000" stroke-width="1.5"/>
<line x1="605.7" y1="969.7" x2="605.7" y2="961.7" stroke="#000" stroke-width="1.5"/>
<line x1="605.7" y1="587.0" x2="605.7" y2="595.0" stroke="#000" stroke-width="1.5"/>
<line x1="749.9" y1="969.7" x2="749.9" y2="961.7" stroke="#000" stroke-width="1.5"/>
<line x1="749.9" y1="587.0" x2="749.9" y2="595.0" stroke="#000" stroke-width="1.5"/>
<line x1="101.0" y1="944.2" x2="109.0" y2="944.2" stroke="#000" stroke-width="1.5"/>
<line x1="822.0" y1="944.2" x2="814.0" y2="944.2" stroke="#000" stroke-width="1.5"/>
<line x1="101.0" y1="816.6" x2="109.0" y2="816.6" stroke="#000" stroke-width="1.5"/>
<line x1="822.0" y1="816.6" x2="814.0" y2="816.6" stroke="#000" stroke-width="1.5"/>
<line x1="101.0" y1="689.1" x2="109.0" y2="689.1" stroke="#000" stroke-width="1.5"/>
<line x1="822.0" y1="689.1" x2="814.0" y2="689.1" stroke="#000" stroke-width="1.5"/>
<rect x="101.0" y="587.0" width="721.0" height="382.7" fill="none" stroke="#000" stroke-width="1.8"/>
<text x="88.0" y="957.1" font-size="35.5" text-anchor="end" >1</text>
<text x="88.0" y="829.5" font-size="35.5" text-anchor="end" >1.5</text>
<text x="88.0" y="702.0" font-size="35.5" text-anchor="end" >2</text>
<text x="173.1" y="1015.3" font-size="35.5" text-anchor="middle" >2</text>
<text x="317.3" y="1015.3" font-size="35.5" text-anchor="middle" >4</text>
<text x="461.5" y="1015.3" font-size="35.5" text-anchor="middle" >6</text>
<text x="605.7" y="1015.3" font-size="35.5" text-anchor="middle" >8</text>
<text x="749.9" y="1015.3" font-size="35.5" text-anchor="middle" >10</text>
<text x="461" y="1061.7" font-size="38.8" text-anchor="middle">Iteration index <tspan font-style="italic">i</tspan></text>
<text x="434.8" y="1115.3" font-size="46.0" text-anchor="middle" >(b)</text>
<text transform="translate(29,778.5) rotate(-90)" font-size="38.8" text-anchor="middle"><tspan font-style="italic">fa</tspan>.0 [GHz]</text>
<defs><clipPath id="cc"><rect x="1029.0" y="587.2" width="726.9" height="382.7"/></clipPath></defs>
<line x1="1212.2" y1="587.2" x2="1212.2" y2="969.9" stroke="rgb(38,38,38)" stroke-opacity="0.15" stroke-width="1.3"/>
<line x1="1392.5" y1="587.2" x2="1392.5" y2="969.9" stroke="rgb(38,38,38)" stroke-opacity="0.15" stroke-width="1.3"/>
<line x1="1572.7" y1="587.2" x2="1572.7" y2="969.9" stroke="rgb(38,38,38)" stroke-opacity="0.15" stroke-width="1.3"/>
<line x1="1032.0" y1="663.7" x2="1752.9" y2="663.7" stroke="rgb(38,38,38)" stroke-opacity="0.15" stroke-width="1.3"/>
<line x1="1032.0" y1="740.3" x2="1752.9" y2="740.3" stroke="rgb(38,38,38)" stroke-opacity="0.15" stroke-width="1.3"/>
<line x1="1032.0" y1="816.8" x2="1752.9" y2="816.8" stroke="rgb(38,38,38)" stroke-opacity="0.15" stroke-width="1.3"/>
<line x1="1032.0" y1="893.4" x2="1752.9" y2="893.4" stroke="rgb(38,38,38)" stroke-opacity="0.15" stroke-width="1.3"/>
<g clip-path="url(#cc)">
<path d="M1029.7,686.4L1031.7,686.4 1033.8,686.4 1035.8,686.5 1037.8,686.5 1039.8,686.6 1041.8,686.7 1043.8,686.7 1045.9,686.8 1047.9,687.0 1049.9,687.1 1051.9,687.2 1053.9,687.4 1055.9,687.6 1057.9,687.7 1059.9,687.9 1061.9,688.1 1063.9,688.3 1065.9,688.6 1067.8,688.8 1069.8,689.0 1071.8,689.3 1073.8,689.6 1075.8,689.8 1077.8,690.1 1079.8,690.4 1081.7,690.7 1083.7,691.0 1085.7,691.3 1087.7,691.7 1089.6,692.0 1091.6,692.4 1093.6,692.7 1095.6,693.1 1097.5,693.4 1099.5,693.8 1101.5,694.2 1103.4,694.6 1105.4,695.0 1107.4,695.4 1109.3,695.8 1111.3,696.2 1113.3,696.6 1115.2,697.0 1117.2,697.4 1119.2,697.8 1121.1,698.3 1123.1,698.7 1125.1,699.2 1127.0,699.6 1129.0,700.0 1131.0,700.5 1132.9,700.9 1134.9,701.4 1136.8,701.9 1138.8,702.3 1140.8,702.8 1142.7,703.2 1144.7,703.7 1146.7,704.2 1148.6,704.6 1150.6,705.1 1152.6,705.6 1154.5,706.0 1156.5,706.5 1158.5,707.0 1160.4,707.4 1162.4,707.9 1164.3,708.4 1166.3,708.9 1168.3,709.4 1170.2,709.9 1172.2,710.4 1174.1,710.9 1176.0,711.5 1178.0,712.0 1179.9,712.6 1181.8,713.1 1183.7,713.7 1185.7,714.3 1187.6,714.9 1189.5,715.5 1191.3,716.2 1193.2,716.8 1195.1,717.5 1197.0,718.2 1198.8,718.9 1200.7,719.7 1202.5,720.4 1204.3,721.2 1206.1,722.0 1207.9,722.9 1209.7,723.7 1211.5,724.6 1213.3,725.5 1215.0,726.4 1216.7,727.4 1218.5,728.4 1220.2,729.4 1221.9,730.4 1223.6,731.4 1225.4,732.4 1227.1,733.5 1228.8,734.5 1230.5,735.6 1232.3,736.6 1234.0,737.6 1235.8,738.7 1237.6,739.7 1239.3,740.7 1241.1,741.7 1242.9,742.7 1244.7,743.7 1246.6,744.6 1248.4,745.6 1250.2,746.5 1252.1,747.4 1253.9,748.4 1255.8,749.2 1257.6,750.1 1259.5,750.9 1261.4,751.8 1263.3,752.6 1265.2,753.3 1267.1,754.1 1269.0,754.8 1270.9,755.5 1272.8,756.1 1274.7,756.8 1276.6,757.4 1278.5,757.9 1280.4,758.5 1282.4,759.0 1284.3,759.4 1286.2,759.9 1288.1,760.3 1290.1,760.6 1292.0,760.9 1293.9,761.2 1295.9,761.4 1297.8,761.6 1299.7,761.8 1301.7,761.9 1303.6,761.9 1305.5,761.9 1307.4,761.9 1309.4,761.8 1311.3,761.6 1313.2,761.4 1315.1,761.2 1317.0,760.9 1318.9,760.5 1320.8,760.1 1322.7,759.6 1324.6,759.1 1326.5,758.5 1328.4,757.9 1330.3,757.3 1332.2,756.6 1334.1,755.9 1335.9,755.1 1337.8,754.3 1339.6,753.5 1341.5,752.6 1343.3,751.7 1345.2,750.7 1347.0,749.8 1348.9,748.8 1350.7,747.8 1352.5,746.8 1354.3,745.7 1356.1,744.7 1357.9,743.6 1359.7,742.5 1361.5,741.4 1363.3,740.3 1365.1,739.2 1366.8,738.1 1368.6,736.9 1370.3,735.8 1372.1,734.7 1373.8,733.5 1375.6,732.4 1377.3,731.3 1379.0,730.2 1380.7,729.1 1382.4,728.0 1384.1,726.9 1385.8,725.8 1387.5,724.8 1389.2,723.7 1390.9,722.7 1392.5,721.7 1394.2,720.7 1395.9,719.7 1397.6,718.7 1399.4,717.8 1401.1,716.9 1402.8,716.0 1404.6,715.1 1406.3,714.2 1408.1,713.4 1409.9,712.6 1411.7,711.8 1413.5,711.0 1415.4,710.3 1417.2,709.6 1419.1,708.9 1421.0,708.2 1423.0,707.6 1424.9,707.0 1426.8,706.4 1428.8,705.8 1430.8,705.3 1432.7,704.8 1434.7,704.4 1436.7,703.9 1438.8,703.5 1440.8,703.1 1442.8,702.8 1444.8,702.5 1446.9,702.2 1448.9,701.9 1451.0,701.7 1453.0,701.5 1455.1,701.4 1457.1,701.2 1459.2,701.1 1461.2,701.1 1463.2,701.1 1465.3,701.1 1467.3,701.1 1469.4,701.2 1471.4,701.3 1473.4,701.4 1475.4,701.6 1477.4,701.8 1479.4,702.1 1481.4,702.4 1483.4,702.7 1485.4,703.0 1487.3,703.4 1489.3,703.9 1491.2,704.4 1493.1,704.9 1495.0,705.4 1496.9,706.0 1498.7,706.6 1500.6,707.3 1502.4,708.0 1504.2,708.8 1506.0,709.6 1507.8,710.4 1509.5,711.2 1511.3,712.1 1513.0,713.0 1514.7,714.0 1516.4,715.0 1518.0,716.0 1519.7,717.1 1521.3,718.2 1522.9,719.3 1524.5,720.5 1526.1,721.6 1527.6,722.8 1529.2,724.1 1530.7,725.3 1532.2,726.6 1533.7,728.0 1535.2,729.3 1536.6,730.7 1538.1,732.1 1539.5,733.5 1540.9,734.9 1542.3,736.4 1543.7,737.8 1545.1,739.3 1546.4,740.9 1547.7,742.4 1549.1,744.0 1550.4,745.5 1551.7,747.1 1552.9,748.7 1554.2,750.3 1555.4,752.0 1556.7,753.6 1557.9,755.3 1559.1,757.0 1560.2,758.7 1561.4,760.4 1562.6,762.1 1563.7,763.8 1564.8,765.5 1565.9,767.3 1567.0,769.0 1568.1,770.8 1569.2,772.5 1570.2,774.3 1571.3,776.1 1572.3,777.9 1573.3,779.7 1574.3,781.4 1575.3,783.2 1576.3,785.0 1577.2,786.8 1578.2,788.6 1579.1,790.4 1580.0,792.3 1581.0,794.1 1581.9,795.9 1582.7,797.7 1583.6,799.5 1584.5,801.4 1585.3,803.2 1586.2,805.0 1587.0,806.9 1587.8,808.7 1588.6,810.6 1589.4,812.4 1590.2,814.3 1590.9,816.1 1591.7,818.0 1592.4,819.8 1593.2,821.7 1593.9,823.6 1594.6,825.4 1595.3,827.3 1596.0,829.2 1596.7,831.1 1597.4,833.0 1598.0,834.8 1598.7,836.7 1599.3,838.6 1599.9,840.5 1600.6,842.4 1601.2,844.3 1601.8,846.2 1602.4,848.1 1603.0,850.0 1603.5,852.0 1604.1,853.9 1604.7,855.8 1605.2,857.7 1605.7,859.6 1606.3,861.5 1606.8,863.5 1607.3,865.4 1607.8,867.3 1608.3,869.3 1608.8,871.2 1609.3,873.1 1609.8,875.1 1610.2,877.0 1610.7,879.0 1611.2,880.9 1611.6,882.9 1612.0,884.8 1612.5,886.8 1612.9,888.7 1613.3,890.7 1613.7,892.6 1614.1,894.6 1614.5,896.5 1614.9,898.5 1615.3,900.5 1615.7,902.4 1616.1,904.4 1616.4,906.4 1616.8,908.3 1617.1,910.3 1617.5,912.3 1617.8,914.3 1618.2,916.2 1618.5,918.2 1618.8,920.2 1619.2,922.2 1619.5,924.2 1619.8,926.1 1620.1,928.1 1620.4,930.1 1620.7,932.1 1621.0,934.1 1621.3,936.1 1621.6,938.1 1621.9,940.1 1622.2,942.0 1622.4,944.0 1622.7,946.0 1623.0,948.0 1623.2,950.0 1623.5,952.0 1623.8,954.0 1624.0,956.0 1624.3,958.0 1624.5,960.0 1624.8,962.0 1625.0,964.0 1625.3,966.0 1625.5,968.0 1625.7,970.0 1626.0,972.0 1626.2,974.0 1626.5,976.0 1626.7,978.0 1626.9,980.0 1627.1,982.0 1627.4,984.0 1627.6,986.0 1627.8,988.0 1628.0,990.0 M1658.0,990.0L1658.4,988.0 1658.8,986.1 1659.2,984.1 1659.6,982.1 1660.0,980.2 1660.4,978.2 1660.8,976.2 1661.2,974.3 1661.6,972.3 1662.0,970.3 1662.4,968.4 1662.7,966.4 1663.1,964.4 1663.5,962.5 1663.9,960.5 1664.3,958.5 1664.7,956.6 1665.1,954.6 1665.4,952.6 1665.8,950.6 1666.2,948.7 1666.6,946.7 1666.9,944.7 1667.3,942.7 1667.7,940.7 1668.0,938.8 1668.4,936.8 1668.8,934.8 1669.1,932.8 1669.5,930.8 1669.9,928.8 1670.2,926.8 1670.6,924.9 1671.0,922.9 1671.3,920.9 1671.7,918.9 1672.1,916.9 1672.4,914.9 1672.8,912.9 1673.2,910.9 1673.6,908.9 1674.0,906.9 1674.3,904.9 1674.7,903.0 1675.1,901.0 1675.5,899.0 1675.9,897.0 1676.3,895.0 1676.8,893.0 1677.2,891.0 1677.6,889.0 1678.0,887.0 1678.5,885.0 1678.9,883.0 1679.3,881.0 1679.8,879.1 1680.2,877.1 1680.7,875.1 1681.2,873.1 1681.7,871.1 1682.2,869.1 1682.7,867.1 1683.2,865.2 1683.7,863.2 1684.3,861.2 1684.8,859.3 1685.4,857.3 1686.0,855.4 1686.6,853.4 1687.2,851.5 1687.8,849.6 1688.5,847.7 1689.1,845.8 1689.8,843.9 1690.5,842.0 1691.2,840.1 1692.0,838.3 1692.8,836.4 1693.6,834.6 1694.4,832.7 1695.2,830.9 1696.1,829.1 1697.0,827.4 1697.9,825.6 1698.8,823.8 1699.8,822.1 1700.8,820.4 1701.8,818.7 1702.9,817.0 1704.0,815.3 1705.1,813.7 1706.2,812.1 1707.4,810.4 1708.6,808.8 1709.8,807.3 1711.1,805.7 1712.4,804.2 1713.7,802.7 1715.0,801.2 1716.3,799.7 1717.7,798.2 1719.1,796.8 1720.5,795.3 1722.0,793.9 1723.5,792.6 1725.0,791.2 1726.5,789.8 1728.0,788.5 1729.6,787.2 1731.1,785.9 1732.7,784.7 1734.4,783.4 1736.0,782.2 1737.7,781.0 1739.3,779.8 1741.0,778.7 1742.7,777.5 1744.5,776.4 1746.2,775.3 1748.0,774.2 1749.8,773.2 1751.6,772.2 1753.4,771.2 1755.2,770.2" fill="none" stroke="#000" stroke-width="5.00" stroke-linejoin="round" stroke-linecap="butt" />
<path d="M1029.7,670.7L1031.7,670.6 1033.7,670.4 1035.7,670.3 1037.7,670.1 1039.7,669.9 1041.7,669.7 1043.7,669.5 1045.7,669.3 1047.7,669.1 1049.7,668.8 1051.6,668.6 1053.6,668.3 1055.6,668.0 1057.6,667.8 1059.6,667.5 1061.5,667.2 1063.5,666.8 1065.5,666.5 1067.4,666.2 1069.4,665.8 1071.4,665.5 1073.3,665.1 1075.3,664.8 1077.3,664.4 1079.2,664.0 1081.2,663.6 1083.2,663.2 1085.1,662.8 1087.1,662.4 1089.0,662.0 1091.0,661.6 1092.9,661.2 1094.9,660.8 1096.9,660.3 1098.8,659.9 1100.8,659.5 1102.7,659.0 1104.7,658.6 1106.6,658.1 1108.6,657.7 1110.5,657.2 1112.5,656.8 1114.4,656.3 1116.4,655.9 1118.4,655.4 1120.3,654.9 1122.3,654.5 1124.2,654.0 1126.2,653.6 1128.1,653.1 1130.1,652.6 1132.0,652.2 1134.0,651.7 1135.9,651.3 1137.9,650.8 1139.9,650.4 1141.8,649.9 1143.8,649.5 1145.7,649.0 1147.7,648.6 1149.7,648.2 1151.6,647.7 1153.6,647.3 1155.6,646.9 1157.5,646.5 1159.5,646.1 1161.5,645.7 1163.4,645.3 1165.4,644.9 1167.4,644.5 1169.4,644.1 1171.3,643.7 1173.3,643.4 1175.3,643.0 1177.3,642.7 1179.3,642.3 1181.2,642.0 1183.2,641.7 1185.2,641.4 1187.2,641.0 1189.2,640.8 1191.2,640.5 1193.2,640.2 1195.2,639.9 1197.2,639.7 1199.2,639.4 1201.2,639.2 1203.2,638.9 1205.2,638.7 1207.2,638.5 1209.2,638.3 1211.2,638.1 1213.2,637.9 1215.2,637.7 1217.2,637.6 1219.3,637.4 1221.3,637.3 1223.3,637.1 1225.3,637.0 1227.3,636.9 1229.3,636.8 1231.3,636.7 1233.4,636.6 1235.4,636.5 1237.4,636.4 1239.4,636.3 1241.4,636.3 1243.4,636.2 1245.5,636.2 1247.5,636.2 1249.5,636.2 1251.5,636.2 1253.5,636.2 1255.5,636.2 1257.6,636.2 1259.6,636.2 1261.6,636.3 1263.6,636.3 1265.6,636.4 1267.6,636.5 1269.7,636.5 1271.7,636.6 1273.7,636.7 1275.7,636.8 1277.7,637.0 1279.7,637.1 1281.7,637.2 1283.7,637.4 1285.7,637.5 1287.7,637.7 1289.7,637.9 1291.7,638.1 1293.7,638.3 1295.7,638.5 1297.7,638.7 1299.7,638.9 1301.7,639.2 1303.7,639.4 1305.7,639.7 1307.7,640.0 1309.7,640.2 1311.7,640.5 1313.7,640.8 1315.7,641.1 1317.6,641.5 1319.6,641.8 1321.6,642.1 1323.6,642.5 1325.5,642.8 1327.5,643.2 1329.5,643.6 1331.4,644.0 1333.4,644.4 1335.4,644.8 1337.3,645.2 1339.3,645.7 1341.2,646.1 1343.2,646.6 1345.1,647.0 1347.1,647.5 1349.0,648.0 1350.9,648.5 1352.9,649.0 1354.8,649.5 1356.7,650.1 1358.6,650.6 1360.6,651.2 1362.5,651.7 1364.4,652.3 1366.3,652.9 1368.2,653.5 1370.1,654.1 1372.0,654.7 1373.9,655.3 1375.8,656.0 1377.7,656.6 1379.6,657.3 1381.4,657.9 1383.3,658.6 1385.2,659.3 1387.1,660.0 1388.9,660.7 1390.8,661.4 1392.6,662.2 1394.5,662.9 1396.3,663.7 1398.2,664.5 1400.0,665.2 1401.8,666.0 1403.7,666.8 1405.5,667.6 1407.3,668.5 1409.1,669.3 1410.9,670.1 1412.7,671.0 1414.5,671.9 1416.3,672.8 1418.1,673.6 1419.9,674.5 1421.6,675.5 1423.4,676.4 1425.2,677.3 1426.9,678.3 1428.7,679.2 1430.4,680.2 1432.2,681.2 1433.9,682.2 1435.6,683.2 1437.4,684.2 1439.1,685.2 1440.8,686.3 1442.5,687.3 1444.2,688.4 1445.9,689.4 1447.6,690.5 1449.3,691.6 1450.9,692.7 1452.6,693.9 1454.3,695.0 1455.9,696.1 1457.6,697.3 1459.2,698.4 1460.9,699.6 1462.5,700.8 1464.1,702.0 1465.7,703.2 1467.3,704.5 1468.9,705.7 1470.5,706.9 1472.1,708.2 1473.7,709.5 1475.3,710.8 1476.8,712.1 1478.4,713.4 1479.9,714.7 1481.5,716.0 1483.0,717.4 1484.5,718.7 1486.1,720.1 1487.6,721.5 1489.1,722.9 1490.6,724.3 1492.1,725.7 1493.5,727.1 1495.0,728.5" fill="none" stroke="#000" stroke-width="5.00" stroke-linejoin="round" stroke-linecap="butt" />
<path d="M1495.0,728.5L1496.5,729.9 1497.9,731.3 1499.3,732.8 1500.7,734.2 1502.2,735.7 1503.5,737.2 1504.9,738.7 1506.3,740.1 1507.7,741.6 1509.0,743.2 1510.3,744.7 1511.7,746.2 1513.0,747.7 1514.3,749.3 1515.6,750.8 1516.9,752.4 1518.1,753.9 1519.4,755.5 1520.6,757.1 1521.9,758.7 1523.1,760.3 1524.3,761.9 1525.5,763.5 1526.7,765.1 1527.9,766.8 1529.0,768.4 1530.2,770.1 1531.3,771.7 1532.5,773.4 1533.6,775.0 1534.7,776.7 1535.8,778.4 1536.9,780.1 1538.0,781.8 1539.1,783.5 1540.1,785.2 1541.2,786.9 1542.2,788.6 1543.2,790.3 1544.3,792.1 1545.3,793.8 1546.3,795.6 1547.3,797.3 1548.2,799.1 1549.2,800.8 1550.2,802.6 1551.1,804.4 1552.1,806.2 1553.0,808.0 1553.9,809.8 1554.8,811.6 1555.7,813.4 1556.6,815.2 1557.5,817.0 1558.4,818.8 1559.2,820.6 1560.1,822.5 1560.9,824.3 1561.8,826.1 1562.6,828.0 1563.4,829.8 1564.2,831.7 1565.0,833.5 1565.8,835.4 1566.6,837.3 1567.4,839.1 1568.1,841.0 1568.9,842.9 1569.6,844.8 1570.4,846.6 1571.1,848.5 1571.8,850.4 1572.5,852.3 1573.2,854.2 1573.9,856.1 1574.6,858.0 1575.2,859.9 1575.9,861.9 1576.6,863.8 1577.2,865.7 1577.9,867.6 1578.5,869.5 1579.1,871.5 1579.7,873.4 1580.3,875.3 1580.9,877.3 1581.5,879.2 1582.1,881.1 1582.7,883.1 1583.2,885.0 1583.8,887.0 1584.3,888.9 1584.9,890.9 1585.4,892.8 1585.9,894.8 1586.5,896.7 1587.0,898.7 1587.5,900.6 1588.0,902.6 1588.5,904.6 1588.9,906.5 1589.4,908.5 1589.9,910.5 1590.3,912.4 1590.8,914.4 1591.2,916.4 1591.7,918.3 1592.1,920.3 1592.5,922.3 1592.9,924.2 1593.3,926.2 1593.7,928.2 1594.1,930.1 1594.5,932.1 1594.9,934.1 1595.3,936.1 1595.6,938.0 1596.0,940.0" fill="none" stroke="#000" stroke-width="5.00" stroke-linejoin="round" stroke-dasharray="16.2 5.45 0 7.2 0 7.25" stroke-linecap="round" />
<path d="M1698.0,935.0L1698.6,933.2 1699.2,931.4 1699.8,929.6 1700.3,927.8 1700.9,925.9 1701.5,924.0 1702.1,922.1 1702.7,920.1 1703.3,918.2 1703.9,916.2 1704.6,914.2 1705.2,912.2 1705.8,910.2 1706.5,908.2 1707.2,906.2 1707.9,904.2 1708.6,902.2 1709.3,900.2 1710.1,898.2 1710.8,896.2 1711.6,894.2 1712.4,892.3 1713.3,890.3 1714.2,888.4 1715.1,886.5 1716.0,884.6 1717.0,882.7 1718.0,880.9 1719.0,879.1 1720.0,877.4 1721.2,875.6 1722.3,873.9 1723.5,872.3 1724.7,870.7 1726.0,869.1 1727.3,867.6 1728.6,866.1 1730.0,864.7 1731.5,863.3 1732.9,862.0 1734.5,860.7 1736.1,859.6 1737.7,858.4 1739.4,857.4 1741.2,856.4 1743.0,855.4 1744.9,854.6 1746.8,853.8 1748.8,853.1 1750.9,852.5 1753.0,851.9 1755.2,851.5" fill="none" stroke="#000" stroke-width="5.00" stroke-linejoin="round" stroke-dasharray="16.2 5.45 0 7.2 0 7.25" stroke-linecap="round" />
<circle cx="1604.6" cy="961.8" r="2.4" fill="#000"/>
<path d="M1029.7,680.0L1031.7,679.8 1033.6,679.6 1035.6,679.5 1037.6,679.4 1039.6,679.3 1041.5,679.2 1043.5,679.2 1045.5,679.1 1047.5,679.1 1049.5,679.1 1051.5,679.1 1053.5,679.1 1055.5,679.2 1057.5,679.2 1059.5,679.3 1061.5,679.4 1063.5,679.5 1065.5,679.5 1067.5,679.6 1069.6,679.8 1071.6,679.9 1073.6,680.0 1075.6,680.1 1077.6,680.3 1079.7,680.4 1081.7,680.5 1083.7,680.7 1085.7,680.8 1087.7,681.0 1089.8,681.1 1091.8,681.3 1093.8,681.4 1095.8,681.6 1097.9,681.7 1099.9,681.8 1101.9,682.0 1104.0,682.1 1106.0,682.2 1108.0,682.3 1110.0,682.4 1112.0,682.5 1114.1,682.6 1116.1,682.7 1118.1,682.8 1120.1,682.8 1122.1,682.9 1124.2,682.9 1126.2,682.9 1128.2,682.9 1130.2,682.9 1132.2,682.9 1134.2,682.8 1136.2,682.8 1138.2,682.7 1140.2,682.6 1142.2,682.4 1144.2,682.3 1146.2,682.1 1148.2,681.9 1150.2,681.7 1152.2,681.5 1154.2,681.2 1156.1,681.0 1158.1,680.7 1160.1,680.3 1162.0,680.0 1164.0,679.6 1166.0,679.2 1167.9,678.8 1169.9,678.4 1171.8,678.0 1173.8,677.5 1175.7,677.1 1177.7,676.6 1179.6,676.1 1181.5,675.6 1183.5,675.0 1185.4,674.5 1187.3,674.0 1189.2,673.4 1191.2,672.9 1193.1,672.3 1195.0,671.7 1196.9,671.1 1198.8,670.5 1200.7,669.9 1202.6,669.3 1204.5,668.7 1206.4,668.1 1208.3,667.5 1210.2,666.9 1212.1,666.3 1214.1,665.7 1216.0,665.1 1217.9,664.5 1219.8,663.9 1221.7,663.3 1223.6,662.7 1225.5,662.1 1227.4,661.5 1229.4,660.9 1231.3,660.4 1233.2,659.8 1235.1,659.3 1237.1,658.7 1239.0,658.2 1241.0,657.7 1242.9,657.2 1244.9,656.7 1246.8,656.2 1248.8,655.8 1250.7,655.3 1252.7,654.9 1254.7,654.5 1256.7,654.1 1258.7,653.7 1260.7,653.4 1262.7,653.0 1264.7,652.7 1266.7,652.4 1268.7,652.1 1270.7,651.8 1272.7,651.6 1274.7,651.4 1276.8,651.1 1278.8,650.9 1280.8,650.7 1282.8,650.6 1284.8,650.4 1286.9,650.3 1288.9,650.1 1290.9,650.0 1292.9,649.9 1294.9,649.9 1296.9,649.8 1298.9,649.7 1300.9,649.7 1302.9,649.7 1304.9,649.6 1306.9,649.6 1308.9,649.6 1310.9,649.7 1312.9,649.7 1314.9,649.7 1316.9,649.8 1318.9,649.8 1320.9,649.9 1322.9,650.0 1324.9,650.1 1326.9,650.2 1328.8,650.3 1330.8,650.4 1332.8,650.5 1334.8,650.6 1336.8,650.7 1338.8,650.8 1340.8,651.0 1342.7,651.1 1344.7,651.2 1346.7,651.4 1348.7,651.5 1350.7,651.7 1352.7,651.8 1354.7,652.0 1356.6,652.1 1358.6,652.3 1360.6,652.4 1362.6,652.6 1364.6,652.7 1366.6,652.9 1368.6,653.0 1370.6,653.2 1372.6,653.3 1374.6,653.5 1376.6,653.6 1378.6,653.7 1380.6,653.9 1382.6,654.0 1384.6,654.1 1386.6,654.2 1388.6,654.3 1390.6,654.4 1392.7,654.5 1394.7,654.6 1396.7,654.7 1398.7,654.8 1400.7,654.8 1402.8,654.9 1404.8,655.0 1406.8,655.0 1408.9,655.1 1410.9,655.1 1412.9,655.1 1415.0,655.2 1417.0,655.2 1419.0,655.3 1421.1,655.3 1423.1,655.3 1425.2,655.4 1427.2,655.4 1429.2,655.4 1431.3,655.5 1433.3,655.5 1435.3,655.6 1437.4,655.6 1439.4,655.6 1441.5,655.7 1443.5,655.8 1445.5,655.8 1447.6,655.9 1449.6,656.0 1451.6,656.0 1453.6,656.1 1455.7,656.2 1457.7,656.3 1459.7,656.5 1461.7,656.6 1463.7,656.7 1465.7,656.9 1467.8,657.0 1469.8,657.2 1471.8,657.4 1473.8,657.6 1475.8,657.8 1477.8,658.0 1479.7,658.2 1481.7,658.5 1483.7,658.7 1485.7,659.0 1487.7,659.3 1489.6,659.6 1491.6,659.9 1493.5,660.3 1495.5,660.7 1497.4,661.0 1499.4,661.5 1501.3,661.9 1503.2,662.3 1505.2,662.8 1507.1,663.3 1509.0,663.8 1510.9,664.3 1512.8,664.9 1514.7,665.4 1516.6,666.0 1518.5,666.6 1520.4,667.3 1522.2,667.9 1524.1,668.6 1525.9,669.3 1527.8,670.0 1529.6,670.7 1531.5,671.5 1533.3,672.2 1535.1,673.0 1537.0,673.8 1538.8,674.6 1540.6,675.4 1542.4,676.3 1544.2,677.2 1545.9,678.1 1547.7,679.0 1549.5,679.9 1551.3,680.8 1553.0,681.8 1554.8,682.7 1556.5,683.7 1558.2,684.7 1560.0,685.7 1561.7,686.7 1563.4,687.8 1565.1,688.8 1566.8,689.9 1568.5,691.0 1570.2,692.1 1571.9,693.2 1573.5,694.3 1575.2,695.4 1576.9,696.6 1578.5,697.7 1580.2,698.9 1581.8,700.1 1583.4,701.3 1585.0,702.5 1586.6,703.7 1588.2,705.0 1589.8,706.2 1591.4,707.5 1593.0,708.7 1594.6,710.0 1596.1,711.3 1597.7,712.6 1599.2,713.9 1600.8,715.2 1602.3,716.5 1603.8,717.9 1605.3,719.2 1606.8,720.5 1608.3,721.9 1609.8,723.3 1611.3,724.7 1612.7,726.0 1614.2,727.4 1615.6,728.8 1617.1,730.3 1618.5,731.7 1619.9,733.1 1621.3,734.5 1622.7,736.0 1624.1,737.4 1625.5,738.9 1626.8,740.4 1628.2,741.9 1629.5,743.4 1630.8,744.9 1632.2,746.4 1633.5,747.9 1634.7,749.4 1636.0,751.0 1637.3,752.5 1638.5,754.1 1639.7,755.6 1641.0,757.2 1642.1,758.8 1643.3,760.4 1644.5,762.0 1645.6,763.7 1646.8,765.3 1647.9,766.9 1649.0,768.6 1650.1,770.3 1651.1,772.0 1652.2,773.7 1653.2,775.4 1654.2,777.1 1655.2,778.8 1656.2,780.5 1657.2,782.3 1658.2,784.0 1659.1,785.8 1660.0,787.6 1661.0,789.4 1661.9,791.1 1662.8,792.9 1663.7,794.7 1664.6,796.5 1665.4,798.3 1666.3,800.2 1667.2,802.0 1668.0,803.8 1668.9,805.6 1669.8,807.4 1670.6,809.3 1671.5,811.1 1672.3,812.9 1673.1,814.8 1674.0,816.6 1674.8,818.4 1675.7,820.3 1676.5,822.1 1677.4,823.9 1678.2,825.8 1679.1,827.6 1679.9,829.4 1680.8,831.2 1681.7,833.1 1682.5,834.9 1683.4,836.7 1684.3,838.5 1685.2,840.3 1686.1,842.1 1686.9,843.9 1687.8,845.7 1688.7,847.5 1689.6,849.3 1690.5,851.1 1691.4,852.9 1692.3,854.7 1693.2,856.5 1694.1,858.3 1695.0,860.1 1695.9,861.9 1696.8,863.7 1697.7,865.5 1698.6,867.2 1699.5,869.0 1700.4,870.8 1701.3,872.6 1702.2,874.4 1703.1,876.2 1704.0,878.0 1704.8,879.8 1705.7,881.6 1706.6,883.4 1707.4,885.3 1708.3,887.1 1709.2,888.9 1710.0,890.7 1710.9,892.5 1711.7,894.3 1712.5,896.2 1713.4,898.0 1714.2,899.8 1715.0,901.7 1715.9,903.5 1716.7,905.3 1717.5,907.1 1718.3,909.0 1719.2,910.8 1720.0,912.6 1720.8,914.5 1721.6,916.3 1722.4,918.1 1723.3,920.0 1724.1,921.8 1724.9,923.6 1725.8,925.4 1726.6,927.3 1727.4,929.1 1728.3,930.9 1729.2,932.7 1730.0,934.5 1730.9,936.3 1731.8,938.1 1732.6,939.9 1733.5,941.7 1734.4,943.5 1735.3,945.2 1736.2,947.0 1737.2,948.8 1738.1,950.5 1739.0,952.3 1740.0,954.0 1741.0,955.8 1742.0,957.5 1743.0,959.2 1744.0,960.9 1745.0,962.7 1746.0,964.4 1747.0,966.1 1748.0,967.8 1749.0,969.5 1750.1,971.2 1751.1,972.9 1752.1,974.6 1753.1,976.3 1754.1,978.0 1755.1,979.8 1756.1,981.5 1757.1,983.2 1758.0,985.0" fill="none" stroke="#000" stroke-width="5.00" stroke-linejoin="round" stroke-dasharray="18.2 17.8" stroke-linecap="butt"  stroke-dashoffset="-2.3"/>
<path d="M1029.7,679.4L1031.7,679.5 1033.6,679.6 1035.6,679.7 1037.5,679.8 1039.5,679.9 1041.5,680.0 1043.4,680.1 1045.4,680.2 1047.4,680.3 1049.4,680.5 1051.4,680.6 1053.3,680.7 1055.3,680.9 1057.3,681.0 1059.3,681.2 1061.3,681.3 1063.3,681.5 1065.4,681.7 1067.4,681.8 1069.4,682.0 1071.4,682.2 1073.4,682.4 1075.4,682.6 1077.4,682.9 1079.4,683.1 1081.4,683.3 1083.5,683.6 1085.5,683.8 1087.5,684.1 1089.5,684.4 1091.5,684.6 1093.5,684.9 1095.5,685.2 1097.5,685.5 1099.6,685.8 1101.6,686.2 1103.6,686.5 1105.6,686.9 1107.6,687.2 1109.6,687.6 1111.6,688.0 1113.5,688.4 1115.5,688.8 1117.5,689.2 1119.5,689.6 1121.5,690.1 1123.4,690.5 1125.4,691.0 1127.4,691.5 1129.3,692.0 1131.3,692.5 1133.2,693.0 1135.2,693.5 1137.1,694.1 1139.0,694.7 1141.0,695.2 1142.9,695.8 1144.8,696.4 1146.7,697.1 1148.6,697.7 1150.5,698.3 1152.4,699.0 1154.3,699.7 1156.1,700.4 1158.0,701.1 1159.9,701.8 1161.7,702.6 1163.6,703.3 1165.4,704.1 1167.2,704.9 1169.0,705.7 1170.8,706.6 1172.6,707.4 1174.4,708.3 1176.2,709.2 1177.9,710.1 1179.7,711.0 1181.5,711.9 1183.2,712.9 1184.9,713.8 1186.7,714.8 1188.4,715.8 1190.1,716.8 1191.8,717.8 1193.5,718.9 1195.2,719.9 1196.9,721.0 1198.5,722.0 1200.2,723.1 1201.9,724.2 1203.5,725.3 1205.2,726.5 1206.9,727.6 1208.5,728.8 1210.1,729.9 1211.8,731.1 1213.4,732.3 1215.0,733.5 1216.7,734.7 1218.3,735.9 1219.9,737.1 1221.5,738.3 1223.1,739.5 1224.7,740.8 1226.3,742.0 1227.9,743.3 1229.5,744.6 1231.1,745.8 1232.7,747.1 1234.3,748.4 1235.9,749.7 1237.5,751.0 1239.1,752.3 1240.7,753.6 1242.3,754.9 1243.9,756.3 1245.5,757.6 1247.1,758.9 1248.7,760.2 1250.3,761.5 1251.9,762.8 1253.6,764.0 1255.2,765.2 1256.9,766.3 1258.5,767.4 1260.2,768.5 1261.9,769.4 1263.7,770.3 1265.5,771.1 1267.2,771.8 1269.1,772.4 1270.9,773.0 1272.7,773.5 1274.6,773.9 1276.5,774.2 1278.4,774.4 1280.2,774.6 1282.1,774.7 1284.0,774.7 1285.9,774.7 1287.8,774.5 1289.7,774.4 1291.6,774.1 1293.5,773.8 1295.4,773.4 1297.2,773.0 1299.1,772.5 1300.9,771.9 1302.7,771.3 1304.5,770.6 1306.2,769.8 1308.0,769.0 1309.7,768.2 1311.4,767.3 1313.1,766.3 1314.7,765.3 1316.3,764.2 1318.0,763.1 1319.5,762.0 1321.1,760.8 1322.7,759.6 1324.2,758.3 1325.8,757.1 1327.3,755.7 1328.8,754.4 1330.3,753.0 1331.8,751.6 1333.2,750.2 1334.7,748.8 1336.2,747.3 1337.6,745.8 1339.1,744.3 1340.5,742.8 1342.0,741.3 1343.4,739.8 1344.8,738.2 1346.3,736.7 1347.7,735.2 1349.2,733.6 1350.6,732.1 1352.1,730.6 1353.5,729.0 1355.0,727.5 1356.4,726.0 1357.9,724.5 1359.4,723.1 1360.9,721.6 1362.4,720.2 1363.9,718.7 1365.4,717.3 1366.9,716.0 1368.5,714.6 1370.1,713.3 1371.6,712.0 1373.2,710.8 1374.8,709.6 1376.5,708.4 1378.1,707.2 1379.8,706.0 1381.4,704.9 1383.1,703.8 1384.8,702.8 1386.5,701.7 1388.2,700.7 1389.9,699.7 1391.7,698.7 1393.4,697.8 1395.2,696.8 1397.0,695.9 1398.7,695.0 1400.5,694.1 1402.3,693.2 1404.1,692.3 1405.9,691.5 1407.7,690.6 1409.5,689.8 1411.4,689.0 1413.2,688.2 1415.0,687.4 1416.8,686.6 1418.7,685.8 1420.5,685.0 1422.4,684.3 1424.2,683.5 1426.1,682.7 1427.9,682.0 1429.8,681.2 1431.6,680.4 1433.5,679.7 1435.3,678.9 1437.2,678.2 1439.0,677.4 1440.9,676.6 1442.7,675.8 1444.6,675.1 1446.4,674.3 1448.2,673.5 1450.1,672.7 1451.9,671.9 1453.7,671.1 1455.6,670.2 1457.4,669.4 1459.2,668.6 1461.0,667.8 1462.9,666.9 1464.7,666.1 1466.5,665.2 1468.3,664.4 1470.1,663.5 1471.9,662.7 1473.7,661.8 1475.5,660.9 1477.3,660.0 1479.1,659.2 1480.9,658.3 1482.7,657.4 1484.5,656.5 1486.3,655.6 1488.1,654.7 1489.9,653.8 1491.7,652.9 1493.5,652.0 1495.2,651.1 1497.0,650.2 1498.8,649.3 1500.6,648.4 1502.4,647.5 1504.2,646.6 1506.0,645.7 1507.7,644.7 1509.5,643.8 1511.3,642.9 1513.1,642.0 1514.9,641.0 1516.7,640.1 1518.5,639.2 1520.2,638.3 1522.0,637.4 1523.8,636.4 1525.6,635.5 1527.4,634.6 1529.2,633.7 1531.0,632.7 1532.7,631.8 1534.5,630.9 1536.3,630.0 1538.1,629.0 1539.9,628.1 1541.7,627.2 1543.5,626.3 1545.3,625.4 1547.1,624.4 1548.9,623.5 1550.7,622.6 1552.5,621.7 1554.3,620.8 1556.1,619.9 1557.9,619.0 1559.7,618.1 1561.6,617.2 1563.4,616.3 1565.2,615.4 1567.0,614.6 1568.8,613.7 1570.7,612.8 1572.5,611.9 1574.3,611.1 1576.2,610.2 1578.0,609.4 1579.8,608.6 1581.7,607.8 1583.5,606.9 1585.4,606.2 1587.2,605.4 1589.1,604.6 1591.0,603.8 1592.8,603.1 1594.7,602.4 1596.6,601.7 1598.4,601.0 1600.3,600.3 1602.2,599.7 1604.1,599.0 1606.0,598.4 1607.9,597.8 1609.8,597.2 1611.7,596.7 1613.6,596.1 1615.6,595.6 1617.5,595.1 1619.4,594.7 1621.3,594.2 1623.3,593.8 1625.2,593.4 1627.2,593.1 1629.1,592.7 1631.1,592.4 1633.1,592.1 1635.0,591.8 1637.0,591.5 1639.0,591.3 1640.9,591.1 1642.9,590.9 1644.9,590.7 1646.9,590.5 1648.9,590.4 1650.9,590.2 1652.9,590.1 1654.9,590.0 1656.9,589.9 1658.9,589.8 1660.9,589.8 1662.9,589.7 1664.9,589.7 1666.9,589.7 1668.9,589.7 1671.0,589.7 1673.0,589.7 1675.0,589.8 1677.0,589.8 1679.0,589.9 1681.1,590.0 1683.1,590.0 1685.1,590.1 1687.1,590.2 1689.1,590.3 1691.2,590.4 1693.2,590.6 1695.2,590.7 1697.2,590.8 1699.3,591.0 1701.3,591.1 1703.3,591.3 1705.3,591.5 1707.4,591.6 1709.4,591.8 1711.4,592.0 1713.4,592.2 1715.4,592.4 1717.4,592.5 1719.4,592.7 1721.5,592.9 1723.5,593.1 1725.5,593.3 1727.5,593.5 1729.5,593.7 1731.5,593.9 1733.5,594.1 1735.5,594.3 1737.4,594.5 1739.4,594.7 1741.4,594.9 1743.4,595.1 1745.4,595.3 1747.3,595.4 1749.3,595.6 1751.3,595.8 1753.2,596.0 1755.2,596.1" fill="none" stroke="#000" stroke-width="5.00" stroke-linejoin="round" stroke-dasharray="4.4 4.6" stroke-linecap="butt"  stroke-dashoffset="-2.3"/>
<path d="M1029.7,682.4L1031.7,682.6 1033.7,682.7 1035.7,682.8 1037.7,682.9 1039.7,683.0 1041.6,683.1 1043.6,683.2 1045.6,683.3 1047.6,683.4 1049.6,683.5 1051.6,683.6 1053.6,683.7 1055.6,683.8 1057.6,683.9 1059.6,684.0 1061.6,684.1 1063.6,684.1 1065.6,684.2 1067.6,684.3 1069.6,684.4 1071.6,684.5 1073.6,684.5 1075.6,684.6 1077.6,684.7 1079.6,684.8 1081.6,684.8 1083.6,684.9 1085.6,685.0 1087.6,685.0 1089.6,685.1 1091.6,685.2 1093.6,685.2 1095.6,685.3 1097.6,685.4 1099.6,685.4 1101.6,685.5 1103.7,685.6 1105.7,685.6 1107.7,685.7 1109.7,685.7 1111.7,685.8 1113.7,685.8 1115.7,685.9 1117.7,686.0 1119.7,686.0 1121.7,686.1 1123.7,686.1 1125.7,686.2 1127.8,686.3 1129.8,686.3 1131.8,686.4 1133.8,686.4 1135.8,686.5 1137.8,686.5 1139.8,686.6 1141.8,686.7 1143.8,686.7 1145.9,686.8 1147.9,686.8 1149.9,686.9 1151.9,686.9 1153.9,687.0 1155.9,687.1 1157.9,687.1 1159.9,687.2 1161.9,687.3 1164.0,687.3 1166.0,687.4 1168.0,687.4 1170.0,687.5 1172.0,687.6 1174.0,687.6 1176.0,687.7 1178.0,687.8 1180.1,687.9 1182.1,687.9 1184.1,688.0 1186.1,688.1 1188.1,688.2 1190.1,688.2 1192.1,688.3 1194.1,688.4 1196.1,688.5 1198.2,688.6 1200.2,688.7 1202.2,688.7 1204.2,688.8 1206.2,688.9 1208.2,689.0 1210.2,689.1 1212.2,689.2 1214.2,689.3 1216.2,689.4 1218.2,689.5 1220.3,689.6 1222.3,689.7 1224.3,689.8 1226.3,690.0 1228.3,690.1 1230.3,690.2 1232.3,690.3 1234.3,690.4 1236.3,690.6 1238.3,690.7 1240.3,690.8 1242.3,690.9 1244.3,691.1 1246.3,691.2 1248.3,691.4 1250.3,691.5 1252.3,691.7 1254.3,691.8 1256.3,692.0 1258.3,692.1 1260.3,692.3 1262.3,692.4 1264.3,692.6 1266.3,692.8 1268.3,692.9 1270.3,693.1 1272.3,693.3 1274.3,693.5 1276.3,693.7 1278.3,693.9 1280.3,694.1 1282.3,694.2 1284.3,694.4 1286.3,694.7 1288.3,694.9 1290.3,695.1 1292.3,695.3 1294.2,695.5 1296.2,695.7 1298.2,696.0 1300.2,696.2 1302.2,696.4 1304.2,696.7 1306.2,696.9 1308.2,697.2 1310.1,697.4 1312.1,697.7 1314.1,697.9 1316.1,698.2 1318.1,698.5 1320.1,698.8 1322.0,699.0 1324.0,699.3 1326.0,699.6 1328.0,699.9 1329.9,700.2 1331.9,700.5 1333.9,700.8 1335.9,701.1 1337.9,701.4 1339.8,701.7 1341.8,702.0 1343.8,702.3 1345.7,702.7 1347.7,703.0 1349.7,703.3 1351.7,703.7 1353.6,704.0 1355.6,704.3 1357.6,704.7 1359.5,705.0 1361.5,705.4 1363.5,705.7 1365.4,706.1 1367.4,706.5 1369.4,706.8 1371.3,707.2 1373.3,707.6 1375.3,707.9 1377.2,708.3 1379.2,708.7 1381.1,709.1 1383.1,709.5 1385.1,709.9 1387.0,710.3 1389.0,710.7 1391.0,711.1 1392.9,711.5 1394.9,711.9 1396.8,712.3 1398.8,712.7 1400.7,713.1 1402.7,713.5 1404.7,714.0 1406.6,714.4 1408.6,714.8 1410.5,715.3 1412.5,715.7 1414.4,716.1 1416.4,716.6 1418.3,717.0 1420.3,717.5 1422.2,717.9 1424.2,718.4 1426.1,718.8 1428.1,719.3 1430.0,719.7 1432.0,720.2 1433.9,720.7 1435.9,721.1 1437.8,721.6 1439.8,722.1 1441.7,722.6 1443.7,723.0 1445.6,723.5 1447.6,724.0 1449.5,724.5 1451.5,725.0 1453.4,725.5 1455.4,726.0 1457.3,726.5 1459.2,727.0 1461.2,727.5 1463.1,728.0 1465.1,728.5 1467.0,729.0 1469.0,729.5 1470.9,730.0 1472.8,730.5 1474.8,731.0 1476.7,731.5 1478.7,732.1 1480.6,732.6 1482.5,733.1 1484.5,733.6 1486.4,734.2 1488.4,734.7 1490.3,735.2 1492.2,735.8 1494.2,736.3 1496.1,736.8 1498.1,737.4 1500.0,737.9 1501.9,738.5 1503.9,739.0 1505.8,739.6 1507.7,740.1 1509.7,740.7 1511.6,741.2 1513.5,741.8 1515.5,742.3 1517.4,742.9 1519.3,743.5 1521.3,744.0 1523.2,744.6 1525.2,745.1 1527.1,745.7 1529.0,746.3 1531.0,746.8 1532.9,747.4 1534.8,747.9 1536.8,748.5 1538.7,749.0 1540.6,749.6 1542.6,750.2 1544.5,750.7 1546.4,751.3 1548.4,751.8 1550.3,752.3 1552.3,752.9 1554.2,753.4 1556.1,754.0 1558.1,754.5 1560.0,755.0 1561.9,755.6 1563.9,756.1 1565.8,756.6 1567.8,757.1 1569.7,757.6 1571.6,758.1 1573.6,758.6 1575.5,759.1 1577.5,759.6 1579.4,760.1 1581.4,760.6 1583.3,761.1 1585.2,761.5 1587.2,762.0 1589.1,762.5 1591.1,762.9 1593.0,763.4 1595.0,763.8 1596.9,764.2 1598.9,764.6 1600.8,765.1 1602.8,765.5 1604.7,765.9 1606.7,766.3 1608.6,766.6 1610.6,767.0 1612.6,767.4 1614.5,767.7 1616.5,768.1 1618.4,768.4 1620.4,768.7 1622.4,769.1 1624.3,769.4 1626.3,769.7 1628.3,770.0 1630.2,770.2 1632.2,770.5 1634.2,770.8 1636.1,771.0 1638.1,771.2 1640.1,771.5 1642.1,771.7 1644.0,771.9 1646.0,772.1 1648.0,772.2 1650.0,772.4 1652.0,772.5 1654.0,772.7 1655.9,772.8 1657.9,772.9 1659.9,773.0 1661.9,773.1 1663.9,773.2 1665.9,773.2 1667.9,773.3 1669.9,773.3 1671.9,773.3 1673.9,773.3 1675.9,773.3 1677.9,773.2 1679.9,773.2 1681.9,773.1 1683.9,773.0 1685.9,773.0 1688.0,772.8 1690.0,772.7 1692.0,772.6 1694.0,772.4 1696.0,772.2 1698.1,772.0 1700.1,771.8 1702.1,771.6 1704.1,771.3 1706.2,771.1 1708.2,770.8 1710.2,770.5 1712.3,770.2 1714.3,769.8 1716.3,769.5 1718.3,769.1 1720.4,768.7 1722.4,768.3 1724.4,767.9 1726.4,767.5 1728.4,767.1 1730.4,766.6 1732.3,766.2 1734.3,765.7 1736.3,765.2 1738.2,764.7 1740.2,764.2 1742.1,763.6 1744.0,763.1 1745.9,762.5 1747.8,762.0 1749.7,761.4 1751.5,760.8 1753.4,760.2 1755.2,759.6" fill="none" stroke="#b3b3b3" stroke-width="5.00" stroke-linejoin="round" stroke-linecap="butt" />
<path d="M1029.7,681.6L1031.7,681.6 1033.7,681.6 1035.7,681.6 1037.8,681.7 1039.8,681.7 1041.8,681.7 1043.8,681.7 1045.8,681.8 1047.8,681.8 1049.8,681.8 1051.9,681.8 1053.9,681.9 1055.9,681.9 1057.9,681.9 1059.9,682.0 1061.9,682.0 1063.9,682.0 1065.9,682.1 1068.0,682.1 1070.0,682.1 1072.0,682.2 1074.0,682.2 1076.0,682.2 1078.0,682.3 1080.0,682.3 1082.1,682.4 1084.1,682.4 1086.1,682.4 1088.1,682.5 1090.1,682.5 1092.1,682.6 1094.1,682.6 1096.1,682.7 1098.1,682.7 1100.2,682.8 1102.2,682.8 1104.2,682.9 1106.2,683.0 1108.2,683.0 1110.2,683.1 1112.2,683.1 1114.2,683.2 1116.2,683.2 1118.2,683.3 1120.3,683.4 1122.3,683.4 1124.3,683.5 1126.3,683.6 1128.3,683.6 1130.3,683.7 1132.3,683.8 1134.3,683.9 1136.3,683.9 1138.3,684.0 1140.3,684.1 1142.4,684.2 1144.4,684.2 1146.4,684.3 1148.4,684.4 1150.4,684.5 1152.4,684.6 1154.4,684.7 1156.4,684.8 1158.4,684.8 1160.4,684.9 1162.4,685.0 1164.4,685.1 1166.4,685.2 1168.4,685.3 1170.4,685.4 1172.5,685.5 1174.5,685.6 1176.5,685.7 1178.5,685.8 1180.5,685.9 1182.5,686.0 1184.5,686.1 1186.5,686.3 1188.5,686.4 1190.5,686.5 1192.5,686.6 1194.5,686.7 1196.5,686.8 1198.5,687.0 1200.5,687.1 1202.5,687.2 1204.5,687.3 1206.5,687.5 1208.5,687.6 1210.5,687.7 1212.5,687.9 1214.5,688.0 1216.5,688.1 1218.5,688.3 1220.5,688.4 1222.5,688.5 1224.5,688.7 1226.5,688.8 1228.5,689.0 1230.5,689.1 1232.5,689.3 1234.5,689.4 1236.5,689.6 1238.5,689.7 1240.5,689.9 1242.5,690.1 1244.5,690.2 1246.5,690.4 1248.5,690.6 1250.5,690.7 1252.5,690.9 1254.5,691.1 1256.5,691.2 1258.5,691.4 1260.5,691.6 1262.5,691.8 1264.5,692.0 1266.5,692.1 1268.5,692.3 1270.5,692.5 1272.5,692.7 1274.5,692.9 1276.5,693.1 1278.4,693.3 1280.4,693.5 1282.4,693.7 1284.4,693.9 1286.4,694.1 1288.4,694.3 1290.4,694.5 1292.4,694.7 1294.4,694.9 1296.4,695.1 1298.4,695.4 1300.4,695.6 1302.4,695.8 1304.3,696.0 1306.3,696.3 1308.3,696.5 1310.3,696.7 1312.3,696.9 1314.3,697.2 1316.3,697.4 1318.3,697.7 1320.3,697.9 1322.2,698.1 1324.2,698.4 1326.2,698.6 1328.2,698.9 1330.2,699.1 1332.2,699.4 1334.2,699.7 1336.2,699.9 1338.1,700.2 1340.1,700.5 1342.1,700.7 1344.1,701.0 1346.1,701.3 1348.1,701.5 1350.1,701.8 1352.0,702.1 1354.0,702.4 1356.0,702.7 1358.0,703.0 1360.0,703.2 1362.0,703.5 1363.9,703.8 1365.9,704.1 1367.9,704.4 1369.9,704.7 1371.9,705.0 1373.8,705.4 1375.8,705.7 1377.8,706.0 1379.8,706.3 1381.8,706.6 1383.7,706.9 1385.7,707.3 1387.7,707.6 1389.7,707.9 1391.6,708.3 1393.6,708.6 1395.6,708.9 1397.6,709.3 1399.6,709.6 1401.5,710.0 1403.5,710.3 1405.5,710.7 1407.5,711.0 1409.4,711.4 1411.4,711.7 1413.4,712.1 1415.4,712.5 1417.3,712.8 1419.3,713.2 1421.3,713.6 1423.2,713.9 1425.2,714.3 1427.2,714.7 1429.2,715.1 1431.1,715.5 1433.1,715.9 1435.1,716.3 1437.0,716.7 1439.0,717.1 1441.0,717.5 1442.9,717.9 1444.9,718.3 1446.9,718.7 1448.8,719.1 1450.8,719.5 1452.8,719.9 1454.7,720.4 1456.7,720.8 1458.7,721.2 1460.6,721.7 1462.6,722.1 1464.6,722.5 1466.5,723.0 1468.5,723.4 1470.5,723.9 1472.4,724.3 1474.4,724.8 1476.4,725.2 1478.3,725.7 1480.3,726.2 1482.2,726.6 1484.2,727.1 1486.2,727.6 1488.1,728.1 1490.1,728.5 1492.0,729.0 1494.0,729.5 1496.0,730.0 1497.9,730.5 1499.9,731.0 1501.8,731.5 1503.8,732.0 1505.7,732.5 1507.7,733.0 1509.7,733.5 1511.6,734.0 1513.6,734.5 1515.5,735.1 1517.5,735.6 1519.4,736.1 1521.4,736.6 1523.3,737.2 1525.3,737.7 1527.2,738.2 1529.2,738.8 1531.2,739.3 1533.1,739.8 1535.1,740.4 1537.0,740.9 1539.0,741.4 1540.9,742.0 1542.9,742.5 1544.8,743.0 1546.8,743.6 1548.7,744.1 1550.7,744.6 1552.6,745.1 1554.6,745.7 1556.5,746.2 1558.5,746.7 1560.4,747.2 1562.4,747.7 1564.3,748.2 1566.3,748.7 1568.2,749.2 1570.2,749.7 1572.1,750.2 1574.1,750.6 1576.1,751.1 1578.0,751.6 1580.0,752.0 1581.9,752.5 1583.9,753.0 1585.8,753.4 1587.8,753.8 1589.7,754.3 1591.7,754.7 1593.6,755.1 1595.6,755.5 1597.6,755.9 1599.5,756.3 1601.5,756.6 1603.4,757.0 1605.4,757.4 1607.4,757.7 1609.3,758.1 1611.3,758.4 1613.2,758.7 1615.2,759.0 1617.2,759.3 1619.1,759.6 1621.1,759.9 1623.1,760.1 1625.0,760.4 1627.0,760.6 1629.0,760.8 1630.9,761.0 1632.9,761.2 1634.9,761.4 1636.8,761.6 1638.8,761.7 1640.8,761.9 1642.8,762.0 1644.7,762.1 1646.7,762.2 1648.7,762.3 1650.7,762.4 1652.6,762.4 1654.6,762.4 1656.6,762.5 1658.6,762.5 1660.6,762.4 1662.6,762.4 1664.5,762.4 1666.5,762.3 1668.5,762.2 1670.5,762.1 1672.5,762.0 1674.5,761.8 1676.5,761.7 1678.5,761.5 1680.5,761.3 1682.5,761.1 1684.5,760.8 1686.5,760.6 1688.5,760.3 1690.5,760.0 1692.5,759.7 1694.5,759.3 1696.5,759.0 1698.5,758.6 1700.5,758.2 1702.5,757.7 1704.5,757.3 1706.5,756.8 1708.5,756.3 1710.6,755.8 1712.6,755.3 1714.6,754.7 1716.6,754.2 1718.6,753.6 1720.6,753.0 1722.6,752.5 1724.5,751.9 1726.5,751.3 1728.5,750.6 1730.5,750.0 1732.4,749.4 1734.4,748.8 1736.3,748.2 1738.3,747.5 1740.2,746.9 1742.1,746.3 1744.0,745.7 1745.9,745.1 1747.8,744.5 1749.7,743.8 1751.5,743.3 1753.4,742.7 1755.2,742.1" fill="none" stroke="#b3b3b3" stroke-width="5.00" stroke-linejoin="round" stroke-dasharray="4.4 4.6" stroke-linecap="butt"  stroke-dashoffset="-2.3"/>
<path d="M1029.7,676.5L1031.7,676.5 1033.7,676.5 1035.7,676.5 1037.7,676.5 1039.7,676.4 1041.7,676.4 1043.7,676.4 1045.7,676.4 1047.7,676.4 1049.8,676.3 1051.8,676.3 1053.8,676.3 1055.8,676.2 1057.8,676.2 1059.8,676.2 1061.8,676.1 1063.8,676.1 1065.8,676.1 1067.8,676.0 1069.8,676.0 1071.8,675.9 1073.8,675.9 1075.8,675.9 1077.8,675.8 1079.8,675.8 1081.8,675.7 1083.8,675.7 1085.8,675.6 1087.8,675.6 1089.8,675.5 1091.9,675.5 1093.9,675.4 1095.9,675.3 1097.9,675.3 1099.9,675.2 1101.9,675.2 1103.9,675.1 1105.9,675.0 1107.9,675.0 1109.9,674.9 1111.9,674.8 1113.9,674.8 1115.9,674.7 1117.9,674.6 1119.9,674.6 1121.9,674.5 1123.9,674.4 1125.9,674.3 1127.9,674.3 1129.9,674.2 1131.9,674.1 1133.9,674.0 1135.9,674.0 1138.0,673.9 1140.0,673.8 1142.0,673.7 1144.0,673.6 1146.0,673.6 1148.0,673.5 1150.0,673.4 1152.0,673.3 1154.0,673.2 1156.0,673.1 1158.0,673.0 1160.0,672.9 1162.0,672.8 1164.0,672.8 1166.0,672.7 1168.0,672.6 1170.0,672.5 1172.0,672.4 1174.0,672.3 1176.0,672.2 1178.0,672.1 1180.0,672.0 1182.0,671.9 1184.0,671.8 1186.0,671.7 1188.0,671.6 1190.1,671.5 1192.1,671.4 1194.1,671.3 1196.1,671.2 1198.1,671.1 1200.1,671.0 1202.1,670.9 1204.1,670.7 1206.1,670.6 1208.1,670.5 1210.1,670.4 1212.1,670.3 1214.1,670.2 1216.1,670.1 1218.1,670.0 1220.1,669.9 1222.1,669.8 1224.1,669.6 1226.1,669.5 1228.1,669.4 1230.1,669.3 1232.1,669.2 1234.1,669.1 1236.1,669.0 1238.1,668.8 1240.1,668.7 1242.1,668.6 1244.1,668.5 1246.2,668.4 1248.2,668.3 1250.2,668.1 1252.2,668.0 1254.2,667.9 1256.2,667.8 1258.2,667.7 1260.2,667.5 1262.2,667.4 1264.2,667.3 1266.2,667.2 1268.2,667.1 1270.2,666.9 1272.2,666.8 1274.2,666.7 1276.2,666.6 1278.2,666.5 1280.2,666.3 1282.2,666.2 1284.2,666.1 1286.2,666.0 1288.2,665.8 1290.2,665.7 1292.2,665.6 1294.2,665.5 1296.2,665.3 1298.2,665.2 1300.2,665.1 1302.2,665.0 1304.3,664.9 1306.3,664.7 1308.3,664.6 1310.3,664.5 1312.3,664.4 1314.3,664.2 1316.3,664.1 1318.3,664.0 1320.3,663.9 1322.3,663.7 1324.3,663.6 1326.3,663.5 1328.3,663.4 1330.3,663.2 1332.3,663.1 1334.3,663.0 1336.3,662.9 1338.3,662.7 1340.3,662.6 1342.3,662.5 1344.3,662.4 1346.3,662.2 1348.3,662.1 1350.3,662.0 1352.3,661.9 1354.3,661.8 1356.3,661.6 1358.3,661.5 1360.3,661.4 1362.3,661.3 1364.3,661.1 1366.4,661.0 1368.4,660.9 1370.4,660.8 1372.4,660.7 1374.4,660.5 1376.4,660.4 1378.4,660.3 1380.4,660.2 1382.4,660.1 1384.4,659.9 1386.4,659.8 1388.4,659.7 1390.4,659.6 1392.4,659.5 1394.4,659.4 1396.4,659.2 1398.4,659.1 1400.4,659.0 1402.4,658.9 1404.4,658.8 1406.4,658.7 1408.4,658.6 1410.4,658.4 1412.4,658.3 1414.4,658.2 1416.4,658.1 1418.4,658.0 1420.4,657.9 1422.4,657.8 1424.4,657.7 1426.4,657.6 1428.5,657.5 1430.5,657.4 1432.5,657.2 1434.5,657.1 1436.5,657.0 1438.5,656.9 1440.5,656.8 1442.5,656.7 1444.5,656.6 1446.5,656.5 1448.5,656.4 1450.5,656.3 1452.5,656.2 1454.5,656.1 1456.5,656.0 1458.5,655.9 1460.5,655.8 1462.5,655.7 1464.5,655.6 1466.5,655.6 1468.5,655.5 1470.5,655.4 1472.5,655.3 1474.5,655.2 1476.5,655.1 1478.5,655.0 1480.5,654.9 1482.5,654.8 1484.6,654.7 1486.6,654.7 1488.6,654.6 1490.6,654.5 1492.6,654.4 1494.6,654.3 1496.6,654.3 1498.6,654.2 1500.6,654.1 1502.6,654.0 1504.6,653.9 1506.6,653.9 1508.6,653.8 1510.6,653.7 1512.6,653.6 1514.6,653.6 1516.6,653.5 1518.6,653.4 1520.6,653.4 1522.6,653.3 1524.6,653.2 1526.6,653.2 1528.6,653.1 1530.6,653.0 1532.6,653.0 1534.6,652.9 1536.6,652.9 1538.7,652.8 1540.7,652.8 1542.7,652.7 1544.7,652.6 1546.7,652.6 1548.7,652.5 1550.7,652.5 1552.7,652.4 1554.7,652.4 1556.7,652.4 1558.7,652.3 1560.7,652.3 1562.7,652.2 1564.7,652.2 1566.7,652.1 1568.7,652.1 1570.7,652.1 1572.7,652.0 1574.7,652.0 1576.7,652.0 1578.7,651.9 1580.7,651.9 1582.7,651.9 1584.7,651.9 1586.8,651.8 1588.8,651.8 1590.8,651.8 1592.8,651.8 1594.8,651.8 1596.8,651.7 1598.8,651.7 1600.8,651.7 1602.8,651.7 1604.8,651.7 1606.8,651.7 1608.8,651.7 1610.8,651.7 1612.8,651.7 1614.8,651.7 1616.8,651.7 1618.8,651.7 1620.8,651.7 1622.8,651.7 1624.8,651.7 1626.8,651.7 1628.8,651.7 1630.9,651.7 1632.9,651.7 1634.9,651.7 1636.9,651.7 1638.9,651.7 1640.9,651.8 1642.9,651.8 1644.9,651.8 1646.9,651.8 1648.9,651.9 1650.9,651.9 1652.9,651.9 1654.9,652.0 1656.9,652.0 1658.9,652.0 1660.9,652.1 1662.9,652.1 1664.9,652.1 1666.9,652.2 1668.9,652.2 1671.0,652.3 1673.0,652.3 1675.0,652.4 1677.0,652.4 1679.0,652.5 1681.0,652.5 1683.0,652.6 1685.0,652.7 1687.0,652.7 1689.0,652.8 1691.0,652.9 1693.0,652.9 1695.0,653.0 1697.0,653.1 1699.0,653.2 1701.0,653.2 1703.0,653.3 1705.0,653.4 1707.1,653.5 1709.1,653.6 1711.1,653.7 1713.1,653.7 1715.1,653.8 1717.1,653.9 1719.1,654.0 1721.1,654.1 1723.1,654.2 1725.1,654.3 1727.1,654.4 1729.1,654.5 1731.1,654.7 1733.1,654.8 1735.1,654.9 1737.1,655.0 1739.2,655.1 1741.2,655.2 1743.2,655.4 1745.2,655.5 1747.2,655.6 1749.2,655.8 1751.2,655.9 1753.2,656.0 1755.2,656.2" fill="none" stroke="#b3b3b3" stroke-width="5.00" stroke-linejoin="round" stroke-linecap="butt" />
<path d="M1029.7,674.8L1031.7,674.8 1033.7,674.9 1035.7,674.9 1037.8,675.0 1039.8,675.0 1041.8,675.1 1043.8,675.1 1045.8,675.1 1047.8,675.2 1049.8,675.2 1051.8,675.2 1053.9,675.2 1055.9,675.3 1057.9,675.3 1059.9,675.3 1061.9,675.3 1063.9,675.3 1065.9,675.3 1067.9,675.3 1070.0,675.4 1072.0,675.4 1074.0,675.4 1076.0,675.4 1078.0,675.4 1080.0,675.3 1082.0,675.3 1084.0,675.3 1086.0,675.3 1088.0,675.3 1090.1,675.3 1092.1,675.3 1094.1,675.2 1096.1,675.2 1098.1,675.2 1100.1,675.2 1102.1,675.1 1104.1,675.1 1106.1,675.1 1108.1,675.0 1110.1,675.0 1112.2,675.0 1114.2,674.9 1116.2,674.9 1118.2,674.8 1120.2,674.8 1122.2,674.7 1124.2,674.7 1126.2,674.6 1128.2,674.6 1130.2,674.5 1132.2,674.4 1134.2,674.4 1136.3,674.3 1138.3,674.3 1140.3,674.2 1142.3,674.1 1144.3,674.0 1146.3,674.0 1148.3,673.9 1150.3,673.8 1152.3,673.7 1154.3,673.7 1156.3,673.6 1158.3,673.5 1160.3,673.4 1162.3,673.3 1164.3,673.2 1166.3,673.1 1168.4,673.1 1170.4,673.0 1172.4,672.9 1174.4,672.8 1176.4,672.7 1178.4,672.6 1180.4,672.5 1182.4,672.4 1184.4,672.3 1186.4,672.2 1188.4,672.0 1190.4,671.9 1192.4,671.8 1194.4,671.7 1196.4,671.6 1198.4,671.5 1200.4,671.4 1202.4,671.2 1204.4,671.1 1206.4,671.0 1208.4,670.9 1210.5,670.8 1212.5,670.6 1214.5,670.5 1216.5,670.4 1218.5,670.3 1220.5,670.1 1222.5,670.0 1224.5,669.9 1226.5,669.7 1228.5,669.6 1230.5,669.4 1232.5,669.3 1234.5,669.2 1236.5,669.0 1238.5,668.9 1240.5,668.7 1242.5,668.6 1244.5,668.4 1246.5,668.3 1248.5,668.2 1250.5,668.0 1252.5,667.9 1254.5,667.7 1256.5,667.6 1258.5,667.4 1260.5,667.2 1262.5,667.1 1264.5,666.9 1266.5,666.8 1268.5,666.6 1270.5,666.5 1272.5,666.3 1274.5,666.1 1276.5,666.0 1278.5,665.8 1280.5,665.6 1282.5,665.5 1284.5,665.3 1286.5,665.1 1288.5,665.0 1290.5,664.8 1292.5,664.6 1294.5,664.5 1296.5,664.3 1298.5,664.1 1300.5,663.9 1302.5,663.8 1304.5,663.6 1306.5,663.4 1308.5,663.2 1310.5,663.1 1312.5,662.9 1314.6,662.7 1316.6,662.5 1318.6,662.3 1320.6,662.2 1322.6,662.0 1324.6,661.8 1326.6,661.6 1328.6,661.4 1330.6,661.3 1332.6,661.1 1334.6,660.9 1336.6,660.7 1338.6,660.5 1340.6,660.3 1342.6,660.1 1344.6,660.0 1346.6,659.8 1348.6,659.6 1350.6,659.4 1352.6,659.2 1354.6,659.0 1356.6,658.8 1358.6,658.6 1360.5,658.4 1362.5,658.2 1364.5,658.0 1366.5,657.9 1368.5,657.7 1370.5,657.5 1372.5,657.3 1374.5,657.1 1376.5,656.9 1378.5,656.7 1380.5,656.5 1382.5,656.3 1384.5,656.1 1386.5,655.9 1388.5,655.7 1390.5,655.5 1392.5,655.3 1394.5,655.1 1396.5,654.9 1398.5,654.7 1400.5,654.5 1402.5,654.3 1404.5,654.1 1406.5,654.0 1408.5,653.8 1410.5,653.6 1412.5,653.4 1414.5,653.2 1416.5,653.0 1418.5,652.8 1420.5,652.6 1422.5,652.4 1424.5,652.2 1426.5,652.0 1428.5,651.8 1430.5,651.6 1432.5,651.4 1434.5,651.2 1436.5,651.0 1438.5,650.8 1440.5,650.6 1442.5,650.4 1444.5,650.2 1446.5,650.0 1448.5,649.8 1450.5,649.7 1452.5,649.5 1454.5,649.3 1456.5,649.1 1458.5,648.9 1460.5,648.7 1462.5,648.5 1464.5,648.3 1466.5,648.1 1468.5,647.9 1470.5,647.8 1472.5,647.6 1474.5,647.4 1476.5,647.2 1478.5,647.0 1480.5,646.8 1482.5,646.6 1484.5,646.5 1486.5,646.3 1488.5,646.1 1490.5,645.9 1492.5,645.7 1494.5,645.6 1496.5,645.4 1498.5,645.2 1500.5,645.0 1502.5,644.8 1504.5,644.7 1506.5,644.5 1508.5,644.3 1510.5,644.1 1512.5,644.0 1514.5,643.8 1516.5,643.6 1518.5,643.5 1520.5,643.3 1522.5,643.1 1524.5,643.0 1526.5,642.8 1528.5,642.6 1530.5,642.5 1532.5,642.3 1534.5,642.1 1536.5,642.0 1538.5,641.8 1540.5,641.7 1542.5,641.5 1544.5,641.4 1546.5,641.2 1548.5,641.1 1550.5,640.9 1552.5,640.8 1554.5,640.6 1556.5,640.5 1558.5,640.3 1560.5,640.2 1562.5,640.0 1564.5,639.9 1566.5,639.8 1568.5,639.6 1570.5,639.5 1572.6,639.4 1574.6,639.2 1576.6,639.1 1578.6,639.0 1580.6,638.8 1582.6,638.7 1584.6,638.6 1586.6,638.5 1588.6,638.3 1590.6,638.2 1592.6,638.1 1594.6,638.0 1596.6,637.9 1598.6,637.7 1600.6,637.6 1602.6,637.5 1604.6,637.4 1606.6,637.3 1608.6,637.2 1610.6,637.1 1612.6,637.0 1614.6,636.9 1616.6,636.8 1618.6,636.7 1620.6,636.6 1622.6,636.5 1624.6,636.4 1626.6,636.4 1628.6,636.3 1630.7,636.2 1632.7,636.1 1634.7,636.0 1636.7,636.0 1638.7,635.9 1640.7,635.8 1642.7,635.8 1644.7,635.7 1646.7,635.6 1648.7,635.6 1650.7,635.5 1652.7,635.4 1654.7,635.4 1656.7,635.3 1658.7,635.3 1660.7,635.2 1662.7,635.2 1664.8,635.1 1666.8,635.1 1668.8,635.1 1670.8,635.0 1672.8,635.0 1674.8,635.0 1676.8,634.9 1678.8,634.9 1680.8,634.9 1682.8,634.9 1684.8,634.8 1686.8,634.8 1688.8,634.8 1690.9,634.8 1692.9,634.8 1694.9,634.8 1696.9,634.8 1698.9,634.8 1700.9,634.8 1702.9,634.8 1704.9,634.8 1706.9,634.8 1708.9,634.8 1710.9,634.9 1713.0,634.9 1715.0,634.9 1717.0,634.9 1719.0,635.0 1721.0,635.0 1723.0,635.0 1725.0,635.1 1727.0,635.1 1729.0,635.2 1731.1,635.2 1733.1,635.3 1735.1,635.3 1737.1,635.4 1739.1,635.4 1741.1,635.5 1743.1,635.6 1745.1,635.6 1747.2,635.7 1749.2,635.8 1751.2,635.9 1753.2,635.9 1755.2,636.0" fill="none" stroke="#b3b3b3" stroke-width="5.00" stroke-linejoin="round" stroke-dasharray="18.2 17.8" stroke-linecap="butt"  stroke-dashoffset="-6.8"/>
</g>
<line x1="1032.0" y1="969.9" x2="1032.0" y2="961.2" stroke="#000" stroke-width="1.5"/>
<line x1="1032.0" y1="587.2" x2="1032.0" y2="595.9" stroke="#000" stroke-width="1.5"/>
<line x1="1212.2" y1="969.9" x2="1212.2" y2="961.2" stroke="#000" stroke-width="1.5"/>
<line x1="1212.2" y1="587.2" x2="1212.2" y2="595.9" stroke="#000" stroke-width="1.5"/>
<line x1="1392.5" y1="969.9" x2="1392.5" y2="961.2" stroke="#000" stroke-width="1.5"/>
<line x1="1392.5" y1="587.2" x2="1392.5" y2="595.9" stroke="#000" stroke-width="1.5"/>
<line x1="1572.7" y1="969.9" x2="1572.7" y2="961.2" stroke="#000" stroke-width="1.5"/>
<line x1="1572.7" y1="587.2" x2="1572.7" y2="595.9" stroke="#000" stroke-width="1.5"/>
<line x1="1752.9" y1="969.9" x2="1752.9" y2="961.2" stroke="#000" stroke-width="1.5"/>
<line x1="1752.9" y1="587.2" x2="1752.9" y2="595.9" stroke="#000" stroke-width="1.5"/>
<line x1="1032.0" y1="587.2" x2="1040.7" y2="587.2" stroke="#000" stroke-width="1.5"/>
<line x1="1752.9" y1="587.2" x2="1744.2" y2="587.2" stroke="#000" stroke-width="1.5"/>
<line x1="1032.0" y1="663.7" x2="1040.7" y2="663.7" stroke="#000" stroke-width="1.5"/>
<line x1="1752.9" y1="663.7" x2="1744.2" y2="663.7" stroke="#000" stroke-width="1.5"/>
<line x1="1032.0" y1="740.3" x2="1040.7" y2="740.3" stroke="#000" stroke-width="1.5"/>
<line x1="1752.9" y1="740.3" x2="1744.2" y2="740.3" stroke="#000" stroke-width="1.5"/>
<line x1="1032.0" y1="816.8" x2="1040.7" y2="816.8" stroke="#000" stroke-width="1.5"/>
<line x1="1752.9" y1="816.8" x2="1744.2" y2="816.8" stroke="#000" stroke-width="1.5"/>
<line x1="1032.0" y1="893.4" x2="1040.7" y2="893.4" stroke="#000" stroke-width="1.5"/>
<line x1="1752.9" y1="893.4" x2="1744.2" y2="893.4" stroke="#000" stroke-width="1.5"/>
<line x1="1032.0" y1="969.9" x2="1040.7" y2="969.9" stroke="#000" stroke-width="1.5"/>
<line x1="1752.9" y1="969.9" x2="1744.2" y2="969.9" stroke="#000" stroke-width="1.5"/>
<rect x="1032.0" y="587.2" width="720.9" height="382.7" fill="none" stroke="#000" stroke-width="1.8"/>
<line x1="1212.2" y1="586.4" x2="1212.2" y2="969.9" stroke="#ff0000" stroke-width="2.8"/>
<text x="1018.3" y="600.1" font-size="35.5" text-anchor="end" >0</text>
<text x="1018.3" y="676.6" font-size="35.5" text-anchor="end" >-5</text>
<text x="1018.3" y="753.2" font-size="35.5" text-anchor="end" >-10</text>
<text x="1018.3" y="829.7" font-size="35.5" text-anchor="end" >-15</text>
<text x="1018.3" y="906.3" font-size="35.5" text-anchor="end" >-20</text>
<text x="1018.3" y="982.8" font-size="35.5" text-anchor="end" >-25</text>
<text x="1032.0" y="1015.3" font-size="35.5" text-anchor="middle" >0.5</text>
<text x="1212.2" y="1015.3" font-size="35.5" text-anchor="middle" >1</text>
<text x="1392.5" y="1015.3" font-size="35.5" text-anchor="middle" >1.5</text>
<text x="1572.7" y="1015.3" font-size="35.5" text-anchor="middle" >2</text>
<text x="1752.9" y="1015.3" font-size="35.5" text-anchor="middle" >2.5</text>
<text x="1390.8" y="1062.4" font-size="38.8" text-anchor="middle" >Frequency [GHz]</text>
<text x="1376.2" y="1114.5" font-size="46.0" text-anchor="middle" >(c)</text>
<text transform="translate(959.3,779.5) rotate(-90)" font-size="38.8" text-anchor="middle"><tspan font-style="italic">S</tspan>-parameters [dB]</text>
<rect x="1578.9" y="736.5" width="153.9" height="215.3" fill="#fff" stroke="#000" stroke-width="1.8"/>
<line x1="1586.2" y1="765.4" x2="1661.8" y2="765.4" stroke="#000" stroke-width="5.2" stroke-dasharray="4.4 4.6" stroke-linecap="butt"/>
<text x="1667.5" y="770.0" font-size="31.5">|</text>
<text transform="translate(1673.9,771.0) scale(1.16,1)" font-size="34" font-style="italic">S</text>
<text x="1691.8" y="786.0" font-size="26">11</text>
<text x="1717.5" y="770.0" font-size="31.5">|</text>
<line x1="1586.2" y1="817.6" x2="1661.8" y2="817.6" stroke="#000" stroke-width="5.2" stroke-dasharray="18.2 17.8" stroke-linecap="butt"/>
<text x="1667.5" y="822.2" font-size="31.5">|</text>
<text transform="translate(1673.9,823.2) scale(1.16,1)" font-size="34" font-style="italic">S</text>
<text x="1691.8" y="838.2" font-size="26">21</text>
<text x="1717.5" y="822.2" font-size="31.5">|</text>
<line x1="1586.2" y1="870.1" x2="1661.8" y2="870.1" stroke="#000" stroke-width="5.2" stroke-dasharray="18.2 17.8" stroke-linecap="butt"/>
<text x="1667.5" y="874.7" font-size="31.5">|</text>
<text transform="translate(1673.9,875.7) scale(1.16,1)" font-size="34" font-style="italic">S</text>
<text x="1691.8" y="890.7" font-size="26">31</text>
<text x="1717.5" y="874.7" font-size="31.5">|</text>
<line x1="1586.2" y1="922.6" x2="1661.8" y2="922.6" stroke="#000" stroke-width="5.2" stroke-linecap="butt"/>
<text x="1667.5" y="927.2" font-size="31.5">|</text>
<text transform="translate(1673.9,928.2) scale(1.16,1)" font-size="34" font-style="italic">S</text>
<text x="1691.8" y="943.2" font-size="26">41</text>
<text x="1717.5" y="927.2" font-size="31.5">|</text>
</svg>
</body></html>
